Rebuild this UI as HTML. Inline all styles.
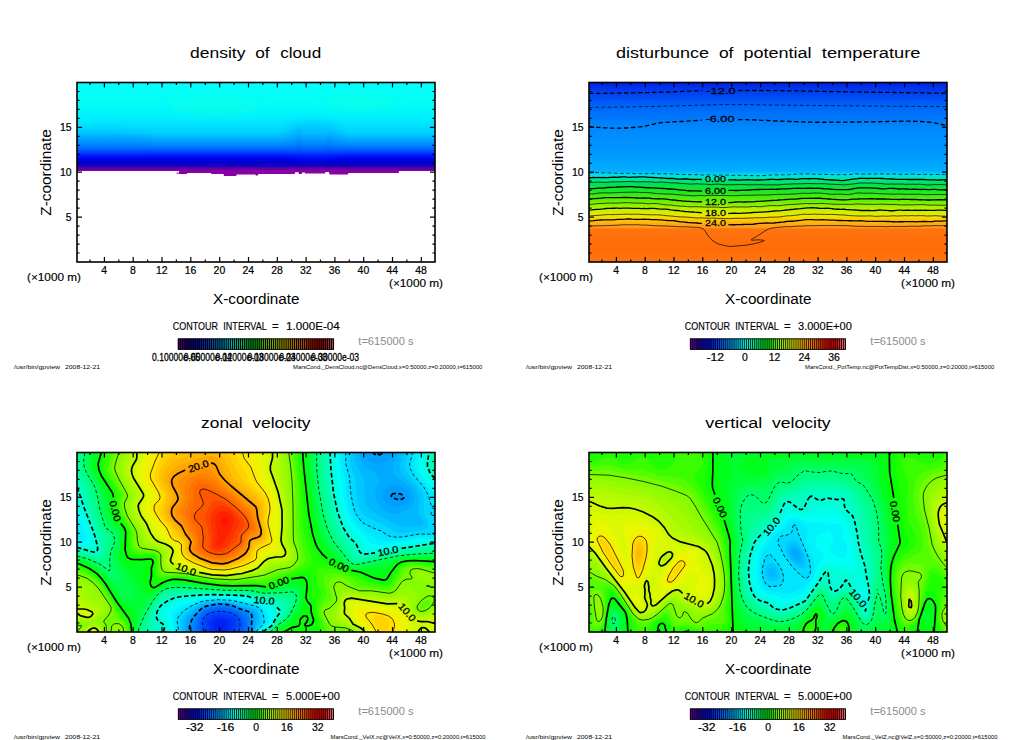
<!DOCTYPE html>
<html><head><meta charset="utf-8"><title>gpview</title>
<style>html,body{margin:0;padding:0;background:#fff}svg{display:block}text{font-family:"Liberation Sans",sans-serif}</style>
</head><body>
<svg width="1024" height="740" viewBox="0 0 1024 740">
<rect width="1024" height="740" fill="#fff"/>
<g id="panel1">
<linearGradient id="g1" x1="0" x2="0" y1="0" y2="1"><stop offset="0.0000" stop-color="#00ffff"/><stop offset="0.0975" stop-color="#04fff4"/><stop offset="0.1978" stop-color="#00f0ff"/><stop offset="0.2813" stop-color="#00d0ff"/><stop offset="0.3203" stop-color="#00a8ff"/><stop offset="0.3538" stop-color="#0080ff"/><stop offset="0.3816" stop-color="#0050ff"/><stop offset="0.4039" stop-color="#0020ff"/><stop offset="0.4234" stop-color="#0000f0"/><stop offset="0.4457" stop-color="#0000d0"/><stop offset="0.4652" stop-color="#1800b8"/><stop offset="0.4791" stop-color="#6000a8"/><stop offset="0.4903" stop-color="#8000a0"/><stop offset="0.4947" stop-color="#8800a0"/><stop offset="0.4953" stop-color="#ffffff"/><stop offset="0.9944" stop-color="#ffffff"/></linearGradient>
<rect x="77" y="82.5" width="358" height="179.5" fill="url(#g1)"/>
<path d="M179.0,170.8 179.0,174.1 186.7,174.1 187.4,172.9 210.8,172.9 211.5,174.1 223.5,174.1 224.0,175.9 236.2,175.9 236.7,174.4 255.2,174.4 256.0,175.4 257.8,175.4 258.5,174.1 294.6,174.1 295.3,172.3 298.4,172.3 299.1,174.1 301.7,174.1 302.2,172.6 304.7,172.6 305.2,173.6 325.0,173.6 325.5,172.1 328.8,172.1 329.6,174.4 347.9,174.4 348.4,172.9 398.7,172.9 399.2,170.8Z" fill="#8a00a6"/>
<path d="M176.5,173.2h2.4M177.7,172.2v2" stroke="#8a00a6" stroke-width="0.7" fill="none"/>
<defs><filter id="b1" x="-50%" y="-50%" width="200%" height="200%"><feGaussianBlur stdDeviation="5"/></filter><filter id="b2" x="-50%" y="-50%" width="200%" height="200%"><feGaussianBlur stdDeviation="2.2"/></filter></defs>
<clipPath id="clipA"><rect x="77" y="82.5" width="358" height="89"/></clipPath><g clip-path="url(#clipA)">
<ellipse cx="215" cy="106" rx="48" ry="9" fill="#10ffe0" opacity="0.5" filter="url(#b1)"/>
<ellipse cx="360" cy="102" rx="36" ry="9" fill="#10ffe0" opacity="0.5" filter="url(#b1)"/>
<ellipse cx="314" cy="140" rx="30" ry="20" fill="#0060ff" opacity="0.16" filter="url(#b1)"/>
<ellipse cx="95" cy="141" rx="60" ry="9" fill="#0070ff" opacity="0.22" filter="url(#b1)"/>
<path d="M298,128L300,168M330,132L329,168" stroke="#0020c0" stroke-width="2" opacity="0.16" filter="url(#b2)" fill="none"/>
</g>
<path d="M90.0 262.0v-2.6M90.0 82.5v2.6M104.4 262.0v-5M104.4 82.5v5M118.8 262.0v-2.6M118.8 82.5v2.6M133.2 262.0v-5M133.2 82.5v5M147.6 262.0v-2.6M147.6 82.5v2.6M162.0 262.0v-5M162.0 82.5v5M176.4 262.0v-2.6M176.4 82.5v2.6M190.8 262.0v-5M190.8 82.5v5M205.3 262.0v-2.6M205.3 82.5v2.6M219.7 262.0v-5M219.7 82.5v5M234.1 262.0v-2.6M234.1 82.5v2.6M248.5 262.0v-5M248.5 82.5v5M262.9 262.0v-2.6M262.9 82.5v2.6M277.3 262.0v-5M277.3 82.5v5M291.7 262.0v-2.6M291.7 82.5v2.6M306.1 262.0v-5M306.1 82.5v5M320.5 262.0v-2.6M320.5 82.5v2.6M334.9 262.0v-5M334.9 82.5v5M349.3 262.0v-2.6M349.3 82.5v2.6M363.7 262.0v-5M363.7 82.5v5M378.1 262.0v-2.6M378.1 82.5v2.6M392.5 262.0v-5M392.5 82.5v5M406.9 262.0v-2.6M406.9 82.5v2.6M421.3 262.0v-5M421.3 82.5v5M77 253.0h2.6M435 253.0h-2.6M77 244.1h2.6M435 244.1h-2.6M77 235.1h2.6M435 235.1h-2.6M77 226.1h2.6M435 226.1h-2.6M77 217.1h5M435 217.1h-5M77 208.2h2.6M435 208.2h-2.6M77 199.2h2.6M435 199.2h-2.6M77 190.2h2.6M435 190.2h-2.6M77 181.2h2.6M435 181.2h-2.6M77 172.2h5M435 172.2h-5M77 163.3h2.6M435 163.3h-2.6M77 154.3h2.6M435 154.3h-2.6M77 145.3h2.6M435 145.3h-2.6M77 136.3h2.6M435 136.3h-2.6M77 127.4h5M435 127.4h-5M77 118.4h2.6M435 118.4h-2.6M77 109.4h2.6M435 109.4h-2.6M77 100.4h2.6M435 100.4h-2.6M77 91.5h2.6M435 91.5h-2.6" stroke="#000" stroke-width="1.2" fill="none"/>
<rect x="77" y="82.5" width="358" height="179.5" fill="none" stroke="#000" stroke-width="1.6"/>
<text x="104.1" y="274.4" font-size="10.8" text-anchor="middle" fill="#000" stroke="#000" stroke-width="0.22" textLength="5.8" lengthAdjust="spacingAndGlyphs">4</text>
<text x="132.9" y="274.4" font-size="10.8" text-anchor="middle" fill="#000" stroke="#000" stroke-width="0.22" textLength="5.8" lengthAdjust="spacingAndGlyphs">8</text>
<text x="161.7" y="274.4" font-size="10.8" text-anchor="middle" fill="#000" stroke="#000" stroke-width="0.22" textLength="11.6" lengthAdjust="spacingAndGlyphs">12</text>
<text x="190.5" y="274.4" font-size="10.8" text-anchor="middle" fill="#000" stroke="#000" stroke-width="0.22" textLength="11.6" lengthAdjust="spacingAndGlyphs">16</text>
<text x="219.4" y="274.4" font-size="10.8" text-anchor="middle" fill="#000" stroke="#000" stroke-width="0.22" textLength="11.6" lengthAdjust="spacingAndGlyphs">20</text>
<text x="248.2" y="274.4" font-size="10.8" text-anchor="middle" fill="#000" stroke="#000" stroke-width="0.22" textLength="11.6" lengthAdjust="spacingAndGlyphs">24</text>
<text x="277.0" y="274.4" font-size="10.8" text-anchor="middle" fill="#000" stroke="#000" stroke-width="0.22" textLength="11.6" lengthAdjust="spacingAndGlyphs">28</text>
<text x="305.8" y="274.4" font-size="10.8" text-anchor="middle" fill="#000" stroke="#000" stroke-width="0.22" textLength="11.6" lengthAdjust="spacingAndGlyphs">32</text>
<text x="334.6" y="274.4" font-size="10.8" text-anchor="middle" fill="#000" stroke="#000" stroke-width="0.22" textLength="11.6" lengthAdjust="spacingAndGlyphs">36</text>
<text x="363.4" y="274.4" font-size="10.8" text-anchor="middle" fill="#000" stroke="#000" stroke-width="0.22" textLength="11.6" lengthAdjust="spacingAndGlyphs">40</text>
<text x="392.2" y="274.4" font-size="10.8" text-anchor="middle" fill="#000" stroke="#000" stroke-width="0.22" textLength="11.6" lengthAdjust="spacingAndGlyphs">44</text>
<text x="421.0" y="274.4" font-size="10.8" text-anchor="middle" fill="#000" stroke="#000" stroke-width="0.22" textLength="11.6" lengthAdjust="spacingAndGlyphs">48</text>
<text x="71.6" y="220.6" font-size="10.8" text-anchor="end" fill="#000" stroke="#000" stroke-width="0.22" textLength="5.8" lengthAdjust="spacingAndGlyphs">5</text>
<text x="71.6" y="175.8" font-size="10.8" text-anchor="end" fill="#000" stroke="#000" stroke-width="0.22" textLength="11.6" lengthAdjust="spacingAndGlyphs">10</text>
<text x="71.6" y="130.9" font-size="10.8" text-anchor="end" fill="#000" stroke="#000" stroke-width="0.22" textLength="11.6" lengthAdjust="spacingAndGlyphs">15</text>
<text x="27" y="280.8" font-size="10" text-anchor="start" fill="#000" stroke="#000" stroke-width="0.15" textLength="54" lengthAdjust="spacingAndGlyphs">(×1000 m)</text>
<text x="443" y="287.3" font-size="10" text-anchor="end" fill="#000" stroke="#000" stroke-width="0.15" textLength="54" lengthAdjust="spacingAndGlyphs">(×1000 m)</text>
<text x="213" y="303.75" font-size="14" text-anchor="start" fill="#000" textLength="86.5" lengthAdjust="spacingAndGlyphs">X-coordinate</text>
<text x="51.2" y="172.5" font-size="14" text-anchor="middle" fill="#000" textLength="86.5" lengthAdjust="spacingAndGlyphs" transform="rotate(-90 51.2 172.5)">Z-coordinate</text>
<text x="190" y="57.8" font-size="15.5" text-anchor="start" fill="#000" textLength="55.4" lengthAdjust="spacingAndGlyphs">density</text>
<text x="255.2" y="57.8" font-size="15.5" text-anchor="start" fill="#000" textLength="14.4" lengthAdjust="spacingAndGlyphs">of</text>
<text x="280.2" y="57.8" font-size="15.5" text-anchor="start" fill="#000" textLength="41.0" lengthAdjust="spacingAndGlyphs">cloud</text>
<linearGradient id="cb77_82" x1="0" x2="1" y1="0" y2="0"><stop offset="0.0000" stop-color="#8000a0"/><stop offset="0.0625" stop-color="#2000c0"/><stop offset="0.1250" stop-color="#0010f0"/><stop offset="0.1875" stop-color="#0050ff"/><stop offset="0.2500" stop-color="#0098ff"/><stop offset="0.2812" stop-color="#00b8ff"/><stop offset="0.3125" stop-color="#00e0ff"/><stop offset="0.3438" stop-color="#00fff8"/><stop offset="0.3750" stop-color="#00ffd0"/><stop offset="0.4375" stop-color="#00ff70"/><stop offset="0.4875" stop-color="#00ff10"/><stop offset="0.5125" stop-color="#10ff00"/><stop offset="0.5625" stop-color="#80fc00"/><stop offset="0.6250" stop-color="#c8fa00"/><stop offset="0.6562" stop-color="#e8f800"/><stop offset="0.6875" stop-color="#ffe800"/><stop offset="0.7188" stop-color="#ffc400"/><stop offset="0.7500" stop-color="#ffa000"/><stop offset="0.7812" stop-color="#ff8000"/><stop offset="0.8125" stop-color="#ff6000"/><stop offset="0.8500" stop-color="#ff2800"/><stop offset="0.8750" stop-color="#ff1000"/><stop offset="0.9375" stop-color="#e80000"/><stop offset="1.0000" stop-color="#f08080"/></linearGradient>
<rect x="178.4" y="338.8" width="155" height="10.6" fill="url(#cb77_82)"/>
<path d="M178.40 338.8v10.6M180.34 338.8v10.6M182.28 338.8v10.6M184.21 338.8v10.6M186.15 338.8v10.6M188.09 338.8v10.6M190.03 338.8v10.6M191.96 338.8v10.6M193.90 338.8v10.6M195.84 338.8v10.6M197.78 338.8v10.6M199.71 338.8v10.6M201.65 338.8v10.6M203.59 338.8v10.6M205.53 338.8v10.6M207.46 338.8v10.6M209.40 338.8v10.6M211.34 338.8v10.6M213.28 338.8v10.6M215.21 338.8v10.6M217.15 338.8v10.6M219.09 338.8v10.6M221.03 338.8v10.6M222.96 338.8v10.6M224.90 338.8v10.6M226.84 338.8v10.6M228.78 338.8v10.6M230.71 338.8v10.6M232.65 338.8v10.6M234.59 338.8v10.6M236.53 338.8v10.6M238.46 338.8v10.6M240.40 338.8v10.6M242.34 338.8v10.6M244.28 338.8v10.6M246.21 338.8v10.6M248.15 338.8v10.6M250.09 338.8v10.6M252.03 338.8v10.6M253.96 338.8v10.6M255.90 338.8v10.6M257.84 338.8v10.6M259.77 338.8v10.6M261.71 338.8v10.6M263.65 338.8v10.6M265.59 338.8v10.6M267.52 338.8v10.6M269.46 338.8v10.6M271.40 338.8v10.6M273.34 338.8v10.6M275.27 338.8v10.6M277.21 338.8v10.6M279.15 338.8v10.6M281.09 338.8v10.6M283.02 338.8v10.6M284.96 338.8v10.6M286.90 338.8v10.6M288.84 338.8v10.6M290.77 338.8v10.6M292.71 338.8v10.6M294.65 338.8v10.6M296.59 338.8v10.6M298.52 338.8v10.6M300.46 338.8v10.6M302.40 338.8v10.6M304.34 338.8v10.6M306.27 338.8v10.6M308.21 338.8v10.6M310.15 338.8v10.6M312.09 338.8v10.6M314.02 338.8v10.6M315.96 338.8v10.6M317.90 338.8v10.6M319.84 338.8v10.6M321.77 338.8v10.6M323.71 338.8v10.6M325.65 338.8v10.6M327.59 338.8v10.6M329.52 338.8v10.6M331.46 338.8v10.6M333.40 338.8v10.6" stroke="#000" stroke-width="1.3" fill="none"/>
<rect x="178.4" y="338.8" width="155" height="10.6" fill="none" stroke="#000" stroke-width="0.9"/>
<text x="176.0" y="360.6" font-size="10.5" text-anchor="middle" fill="#000" stroke="#000" stroke-width="0.3" textLength="48" lengthAdjust="spacingAndGlyphs">0.10000e-05</text>
<text x="207.8" y="360.6" font-size="10.5" text-anchor="middle" fill="#000" stroke="#000" stroke-width="0.3" textLength="48" lengthAdjust="spacingAndGlyphs">0.60000e-04</text>
<text x="239.6" y="360.6" font-size="10.5" text-anchor="middle" fill="#000" stroke="#000" stroke-width="0.3" textLength="48" lengthAdjust="spacingAndGlyphs">0.12000e-03</text>
<text x="271.4" y="360.6" font-size="10.5" text-anchor="middle" fill="#000" stroke="#000" stroke-width="0.3" textLength="48" lengthAdjust="spacingAndGlyphs">0.18000e-03</text>
<text x="303.2" y="360.6" font-size="10.5" text-anchor="middle" fill="#000" stroke="#000" stroke-width="0.3" textLength="48" lengthAdjust="spacingAndGlyphs">0.24000e-03</text>
<text x="335.0" y="360.6" font-size="10.5" text-anchor="middle" fill="#000" stroke="#000" stroke-width="0.3" textLength="48" lengthAdjust="spacingAndGlyphs">0.30000e-03</text>
<text x="172.7" y="330.3" font-size="11.5" text-anchor="start" fill="#000" stroke="#000" stroke-width="0.15" textLength="45.3" lengthAdjust="spacingAndGlyphs">CONTOUR</text>
<text x="223.3" y="330.3" font-size="11.5" text-anchor="start" fill="#000" stroke="#000" stroke-width="0.15" textLength="43.5" lengthAdjust="spacingAndGlyphs">INTERVAL</text>
<text x="272" y="330.3" font-size="11.5" text-anchor="start" fill="#000" stroke="#000" stroke-width="0.15" textLength="6.6" lengthAdjust="spacingAndGlyphs">=</text>
<text x="286" y="330.3" font-size="11.5" text-anchor="start" fill="#000" stroke="#000" stroke-width="0.15" textLength="53.8" lengthAdjust="spacingAndGlyphs">1.000E-04</text>
<text x="358.3" y="344.6" font-size="10.5" text-anchor="start" fill="#8c8c8c" textLength="55.3" lengthAdjust="spacingAndGlyphs">t=615000 s</text>
<text x="14" y="368.5" font-size="5.5" text-anchor="start" fill="#000" textLength="46" lengthAdjust="spacingAndGlyphs">/usr/bin/gpview</text>
<text x="65" y="368.5" font-size="5.5" text-anchor="start" fill="#000" textLength="35" lengthAdjust="spacingAndGlyphs">2008-12-21</text>
<text x="293" y="368.5" font-size="5.5" text-anchor="start" fill="#000" textLength="189.25" lengthAdjust="spacingAndGlyphs">MarsCond._DensCloud.nc@DensCloud,x=0:50000,z=0:20000,t=615000</text>
</g>
<g id="panel2">
<linearGradient id="g2" x1="0" x2="0" y1="0" y2="1"><stop offset="0.0000" stop-color="#0020e8"/><stop offset="0.0529" stop-color="#0040f0"/><stop offset="0.1421" stop-color="#0068f8"/><stop offset="0.2535" stop-color="#0088ff"/><stop offset="0.3983" stop-color="#0098ff"/><stop offset="0.4930" stop-color="#00b0ff"/><stop offset="0.5153" stop-color="#00e0f0"/><stop offset="0.5376" stop-color="#00e8a0"/><stop offset="0.5655" stop-color="#00e050"/><stop offset="0.6100" stop-color="#20e820"/><stop offset="0.6657" stop-color="#70f000"/><stop offset="0.7075" stop-color="#c0f000"/><stop offset="0.7437" stop-color="#f0e800"/><stop offset="0.7660" stop-color="#ffc800"/><stop offset="0.7883" stop-color="#ffa818"/><stop offset="0.8078" stop-color="#ff9818"/><stop offset="0.8162" stop-color="#ff7410"/><stop offset="0.9053" stop-color="#ff6c08"/><stop offset="1.0000" stop-color="#ff7410"/></linearGradient>
<rect x="589" y="82.5" width="358" height="179.5" fill="url(#g2)"/>
<clipPath id="clipP2"><rect x="589" y="82.5" width="358" height="179.5"/></clipPath><g clip-path="url(#clipP2)">
<path d="M589.0,172.9 591.4,172.7 593.8,172.6 596.2,172.5 598.6,172.6 601.0,172.7 603.4,172.8 605.8,172.9 608.2,172.9 610.6,173.0 613.0,173.1 615.4,173.2 617.8,173.3 620.2,173.4 622.6,173.4 625.0,173.5 627.4,173.2 629.8,173.3 632.2,173.3 634.6,173.6 637.0,173.7 639.4,173.7 641.8,173.7 644.2,173.7 646.6,173.7 649.0,173.6 651.5,173.5 653.9,173.3 656.3,173.5 658.7,173.8 661.1,174.0 663.5,173.9 665.9,173.8 668.3,173.8 670.7,173.9 673.1,173.9 675.5,174.2 677.9,174.4 680.3,174.3 682.7,174.4 685.1,174.5 687.5,174.7 689.9,174.7 692.3,174.7 694.7,174.7 697.1,174.7 699.5,174.9 701.9,175.0 704.3,175.1 706.7,174.9 709.1,174.8 711.5,174.9 713.9,175.0 716.3,175.2 718.7,175.1 721.1,175.1 723.5,175.0 725.9,175.0 728.3,175.1 730.7,175.4 733.1,175.4 735.5,175.3 737.9,175.2 740.3,175.4 742.7,175.4 745.1,175.4 747.5,175.5 749.9,175.6 752.3,175.6 754.7,175.6 757.1,175.7 759.5,175.7 761.9,175.6 764.3,175.5 766.7,175.5 769.1,175.2 771.5,175.0 774.0,174.9 776.4,174.9 778.8,175.0 781.2,174.8 783.6,174.8 786.0,174.9 788.4,174.8 790.8,174.6 793.2,174.4 795.6,174.2 798.0,174.1 800.4,173.9 802.8,174.0 805.2,173.9 807.6,173.9 810.0,173.9 812.4,174.0 814.8,174.2 817.2,174.2 819.6,174.3 822.0,174.3 824.4,174.4 826.8,174.4 829.2,174.4 831.6,174.6 834.0,174.8 836.4,174.7 838.8,174.7 841.2,174.6 843.6,174.7 846.0,174.7 848.4,174.8 850.8,174.4 853.2,174.1 855.6,173.9 858.0,173.9 860.4,174.1 862.8,174.1 865.2,174.1 867.6,174.0 870.0,174.1 872.4,174.1 874.8,174.1 877.2,173.8 879.6,173.8 882.0,173.9 884.4,174.0 886.8,174.1 889.2,174.0 891.6,174.0 894.0,174.0 896.4,174.2 898.9,174.3 901.3,174.2 903.7,174.3 906.1,174.3 908.5,174.3 910.9,174.1 913.3,174.1 915.7,174.5 918.1,174.5 920.5,174.5 922.9,174.4 925.3,174.4 927.7,174.4 930.1,174.6 932.5,174.7 934.9,174.5 937.3,174.4 939.7,174.5 942.1,174.5 944.5,174.6 946.9,174.6" fill="none" stroke="#000" stroke-width="0.7" stroke-dasharray="3.8 2.4" stroke-linejoin="round"/>
<path d="M589.0,177.7 591.4,177.7 593.8,177.5 596.2,177.6 598.6,177.5 601.0,177.7 603.4,177.5 605.8,177.6 608.2,177.5 610.6,177.3 613.0,177.2 615.4,177.2 617.8,177.3 620.2,177.0 622.6,176.9 625.0,176.9 627.4,177.2 629.8,177.3 632.2,177.2 634.6,177.1 637.0,177.1 639.4,176.9 641.8,176.9 644.2,176.9 646.6,177.1 649.0,177.3 651.5,177.3 653.9,177.5 656.3,177.6 658.7,177.9 661.1,178.0 663.5,178.2 665.9,178.4 668.3,178.5 670.7,178.5 673.1,178.5 675.5,178.8 677.9,179.0 680.3,179.1 682.7,179.0 685.1,179.0 687.5,179.0 689.9,179.4 692.3,179.5 694.7,179.5 697.1,179.3 699.5,179.4 701.9,179.5M728.3,179.9 730.7,179.9 733.1,179.9 735.5,180.0 737.9,180.1 740.3,180.1 742.7,179.8 745.1,179.9 747.5,179.7 749.9,179.9 752.3,179.9 754.7,180.1 757.1,180.0 759.5,180.0 761.9,179.8 764.3,179.8 766.7,179.7 769.1,179.5 771.5,179.3 774.0,179.4 776.4,179.6 778.8,179.5 781.2,179.5 783.6,179.1 786.0,179.2 788.4,179.0 790.8,179.1 793.2,179.1 795.6,179.3 798.0,179.2 800.4,178.9 802.8,178.6 805.2,178.6 807.6,178.7 810.0,178.7 812.4,178.6 814.8,178.6 817.2,178.7 819.6,179.0 822.0,179.1 824.4,179.5 826.8,179.6 829.2,179.9 831.6,180.0 834.0,180.0 836.4,180.2 838.8,180.4 841.2,180.6 843.6,180.5 846.0,180.2 848.4,179.8 850.8,179.4 853.2,179.1 855.6,178.8 858.0,178.6 860.4,178.2 862.8,178.3 865.2,178.3 867.6,178.5 870.0,178.4 872.4,178.4 874.8,178.3 877.2,178.3 879.6,178.3 882.0,178.5 884.4,178.7 886.8,178.8 889.2,178.8 891.6,179.0 894.0,179.2 896.4,179.4 898.9,179.4 901.3,179.4 903.7,179.4 906.1,179.4 908.5,179.5 910.9,179.4 913.3,179.5 915.7,179.5 918.1,179.5 920.5,179.4 922.9,179.5 925.3,179.6 927.7,179.8 930.1,179.8 932.5,179.8 934.9,179.9 937.3,180.2 939.7,180.0 942.1,179.9 944.5,179.6 946.9,179.8" fill="none" stroke="#000" stroke-width="1.35" stroke-linejoin="round"/>
<path d="M589.0,182.5 591.4,182.5 593.8,182.3 596.2,182.2 598.6,182.1 601.0,182.2 603.4,182.4 605.8,182.4 608.2,182.2 610.6,182.0 613.0,181.9 615.4,181.9 617.8,181.9 620.2,181.8 622.6,181.7 625.0,181.7 627.4,181.6 629.8,181.6 632.2,181.5 634.6,181.7 637.0,181.8 639.4,181.9 641.8,181.8 644.2,181.8 646.6,181.8 649.0,181.8 651.5,181.8 653.9,182.3 656.3,182.3 658.7,182.2 661.1,182.0 663.5,182.1 665.9,182.4 668.3,182.6 670.7,182.8 673.1,182.9 675.5,182.9 677.9,183.0 680.3,183.4 682.7,183.4 685.1,183.7 687.5,183.8 689.9,184.2 692.3,184.0 694.7,183.9 697.1,183.7 699.5,184.1 701.9,184.1 704.3,184.1 706.7,184.2 709.1,184.5 711.5,184.6 713.9,184.3 716.3,184.2 718.7,184.1 721.1,184.5 723.5,184.6 725.9,184.8 728.3,184.7 730.7,184.8 733.1,184.7 735.5,184.7 737.9,184.6 740.3,184.5 742.7,184.6 745.1,184.6 747.5,184.8 749.9,184.8 752.3,184.7 754.7,184.8 757.1,184.7 759.5,184.6 761.9,184.7 764.3,184.8 766.7,185.0 769.1,184.8 771.5,184.8 774.0,184.9 776.4,184.9 778.8,184.9 781.2,184.6 783.6,184.4 786.0,184.2 788.4,184.2 790.8,184.1 793.2,183.9 795.6,183.8 798.0,183.8 800.4,183.8 802.8,183.7 805.2,183.6 807.6,183.5 810.0,183.6 812.4,183.6 814.8,183.6 817.2,183.8 819.6,183.7 822.0,183.7 824.4,183.7 826.8,183.9 829.2,184.1 831.6,184.2 834.0,184.3 836.4,184.5 838.8,184.5 841.2,184.6 843.6,184.9 846.0,184.7 848.4,184.5 850.8,184.1 853.2,184.0 855.6,183.5 858.0,183.3 860.4,182.8 862.8,183.0 865.2,182.9 867.6,183.1 870.0,183.0 872.4,183.1 874.8,183.2 877.2,183.4 879.6,183.5 882.0,183.6 884.4,184.0 886.8,184.1 889.2,184.2 891.6,184.0 894.0,184.1 896.4,184.1 898.9,184.0 901.3,184.1 903.7,184.2 906.1,184.4 908.5,184.2 910.9,184.3 913.3,184.2 915.7,184.4 918.1,184.2 920.5,184.3 922.9,184.5 925.3,184.7 927.7,185.0 930.1,184.9 932.5,184.7 934.9,184.6 937.3,184.6 939.7,184.5 942.1,184.6 944.5,184.7 946.9,184.9" fill="none" stroke="#000" stroke-width="0.7" stroke-linejoin="round"/>
<path d="M589.0,188.7 591.4,188.6 593.8,188.6 596.2,188.4 598.6,188.2 601.0,188.1 603.4,188.1 605.8,187.7 608.2,187.5 610.6,187.3 613.0,187.3 615.4,187.2 617.8,187.0 620.2,186.9 622.6,186.9 625.0,186.8 627.4,186.7 629.8,186.6 632.2,186.7 634.6,186.9 637.0,187.1 639.4,187.2 641.8,187.4 644.2,187.5 646.6,187.7 649.0,187.7 651.5,187.8 653.9,187.9 656.3,188.1 658.7,188.3 661.1,188.4 663.5,188.5 665.9,188.7 668.3,189.0 670.7,189.0 673.1,189.1 675.5,189.3 677.9,189.7 680.3,190.0 682.7,190.2 685.1,190.4 687.5,190.7 689.9,190.7 692.3,190.9 694.7,190.8 697.1,190.9 699.5,191.0 701.9,191.1M728.3,190.3 730.7,190.3 733.1,190.3 735.5,190.5 737.9,190.5 740.3,190.3 742.7,190.1 745.1,190.1 747.5,189.9 749.9,190.0 752.3,189.6 754.7,189.6 757.1,189.4 759.5,189.5 761.9,189.4 764.3,189.4 766.7,189.4 769.1,189.4 771.5,189.2 774.0,189.3 776.4,189.2 778.8,189.2 781.2,188.9 783.6,188.9 786.0,188.8 788.4,188.7 790.8,188.6 793.2,188.4 795.6,188.4 798.0,188.2 800.4,188.3 802.8,188.3 805.2,188.3 807.6,188.2 810.0,188.2 812.4,188.2 814.8,188.3 817.2,188.2 819.6,188.4 822.0,188.5 824.4,188.8 826.8,188.8 829.2,188.9 831.6,189.3 834.0,189.4 836.4,189.7 838.8,189.6 841.2,189.7 843.6,189.6 846.0,189.6 848.4,189.5 850.8,189.3 853.2,188.7 855.6,188.3 858.0,187.9 860.4,187.9 862.8,187.9 865.2,187.8 867.6,187.8 870.0,187.8 872.4,188.1 874.8,188.2 877.2,188.4 879.6,188.5 882.0,188.8 884.4,188.9 886.8,188.7 889.2,188.4 891.6,188.3 894.0,188.5 896.4,188.7 898.9,189.0 901.3,188.9 903.7,188.9 906.1,189.0 908.5,189.1 910.9,189.3 913.3,189.2 915.7,189.2 918.1,189.4 920.5,189.5 922.9,189.4 925.3,189.4 927.7,189.6 930.1,189.6 932.5,189.4 934.9,189.3 937.3,189.6 939.7,189.8 942.1,189.8 944.5,189.7 946.9,189.6" fill="none" stroke="#000" stroke-width="1.35" stroke-linejoin="round"/>
<path d="M589.0,194.1 591.4,194.0 593.8,193.9 596.2,193.5 598.6,193.1 601.0,193.0 603.4,192.8 605.8,192.9 608.2,192.9 610.6,193.0 613.0,192.7 615.4,192.7 617.8,192.6 620.2,192.4 622.6,192.4 625.0,192.3 627.4,192.3 629.8,192.2 632.2,192.2 634.6,192.2 637.0,192.2 639.4,192.4 641.8,192.6 644.2,192.5 646.6,192.4 649.0,192.7 651.5,192.9 653.9,193.3 656.3,193.5 658.7,193.6 661.1,193.8 663.5,193.8 665.9,194.1 668.3,194.0 670.7,194.1 673.1,194.2 675.5,194.5 677.9,194.7 680.3,194.9 682.7,195.1 685.1,195.2 687.5,195.4 689.9,195.5 692.3,195.8 694.7,195.8 697.1,195.6 699.5,195.4 701.9,195.6 704.3,195.8 706.7,195.5 709.1,195.4 711.5,195.3 713.9,195.3 716.3,195.4 718.7,195.5 721.1,195.5 723.5,195.5 725.9,195.4 728.3,195.6 730.7,195.6 733.1,195.8 735.5,195.6 737.9,195.6 740.3,195.3 742.7,195.3 745.1,195.2 747.5,195.3 749.9,195.3 752.3,195.2 754.7,195.2 757.1,195.0 759.5,195.0 761.9,195.0 764.3,195.0 766.7,194.9 769.1,194.9 771.5,194.8 774.0,194.6 776.4,194.5 778.8,194.4 781.2,194.4 783.6,194.3 786.0,194.2 788.4,194.3 790.8,194.1 793.2,194.0 795.6,193.9 798.0,193.7 800.4,193.4 802.8,193.2 805.2,193.3 807.6,193.4 810.0,193.3 812.4,193.1 814.8,193.0 817.2,193.0 819.6,193.1 822.0,193.3 824.4,193.5 826.8,193.8 829.2,194.1 831.6,194.3 834.0,194.3 836.4,194.2 838.8,194.1 841.2,194.1 843.6,194.4 846.0,194.5 848.4,194.6 850.8,194.2 853.2,193.8 855.6,193.2 858.0,193.0 860.4,193.0 862.8,193.1 865.2,193.3 867.6,193.1 870.0,193.2 872.4,193.2 874.8,193.4 877.2,193.5 879.6,193.7 882.0,193.8 884.4,193.9 886.8,193.9 889.2,194.1 891.6,194.1 894.0,194.2 896.4,194.2 898.9,194.0 901.3,194.1 903.7,194.2 906.1,194.3 908.5,194.3 910.9,194.2 913.3,194.3 915.7,194.2 918.1,194.2 920.5,194.2 922.9,194.5 925.3,194.7 927.7,194.7 930.1,194.6 932.5,194.5 934.9,194.5 937.3,194.5 939.7,194.5 942.1,194.5 944.5,194.6 946.9,194.6" fill="none" stroke="#000" stroke-width="0.7" stroke-linejoin="round"/>
<path d="M589.0,199.0 591.4,198.8 593.8,198.6 596.2,198.5 598.6,198.3 601.0,198.2 603.4,197.9 605.8,197.7 608.2,197.6 610.6,197.6 613.0,197.6 615.4,197.6 617.8,197.6 620.2,197.6 622.6,197.5 625.0,197.5 627.4,197.5 629.8,197.6 632.2,197.6 634.6,197.9 637.0,198.0 639.4,198.2 641.8,198.1 644.2,198.0 646.6,198.1 649.0,198.1 651.5,198.5 653.9,198.6 656.3,198.8 658.7,198.7 661.1,198.8 663.5,198.8 665.9,199.1 668.3,199.4 670.7,199.8 673.1,200.0 675.5,200.2 677.9,200.5 680.3,200.7 682.7,201.1 685.1,201.2 687.5,201.4 689.9,201.3 692.3,201.6 694.7,201.7 697.1,201.8 699.5,201.7 701.9,201.7M728.3,202.6 730.7,202.5 733.1,202.3 735.5,202.0 737.9,201.8 740.3,201.9 742.7,202.1 745.1,202.0 747.5,201.9 749.9,201.9 752.3,201.8 754.7,201.6 757.1,201.3 759.5,201.3 761.9,201.2 764.3,201.1 766.7,200.8 769.1,200.6 771.5,200.5 774.0,200.4 776.4,200.3 778.8,200.0 781.2,199.8 783.6,199.7 786.0,199.5 788.4,199.3 790.8,199.2 793.2,199.1 795.6,199.1 798.0,198.8 800.4,198.5 802.8,198.4 805.2,198.4 807.6,198.3 810.0,198.2 812.4,198.3 814.8,198.2 817.2,198.2 819.6,198.2 822.0,198.5 824.4,198.6 826.8,198.9 829.2,199.0 831.6,199.2 834.0,199.3 836.4,199.5 838.8,199.6 841.2,199.8 843.6,199.9 846.0,199.9 848.4,199.7 850.8,199.3 853.2,199.2 855.6,199.1 858.0,199.0 860.4,198.8 862.8,198.8 865.2,198.8 867.6,198.8 870.0,198.7 872.4,198.7 874.8,198.8 877.2,199.0 879.6,199.0 882.0,199.0 884.4,199.0 886.8,199.1 889.2,199.2 891.6,199.4 894.0,199.4 896.4,199.4 898.9,199.5 901.3,199.4 903.7,199.2 906.1,199.3 908.5,199.3 910.9,199.5 913.3,199.4 915.7,199.5 918.1,199.7 920.5,199.7 922.9,199.9 925.3,199.8 927.7,200.0 930.1,200.0 932.5,199.9 934.9,199.8 937.3,199.7 939.7,199.7 942.1,199.7 944.5,199.9 946.9,199.8" fill="none" stroke="#000" stroke-width="1.35" stroke-linejoin="round"/>
<path d="M589.0,204.5 591.4,204.4 593.8,204.1 596.2,203.8 598.6,203.5 601.0,203.5 603.4,203.4 605.8,203.2 608.2,203.1 610.6,203.0 613.0,203.2 615.4,203.1 617.8,203.1 620.2,202.9 622.6,202.8 625.0,202.7 627.4,202.6 629.8,202.8 632.2,202.9 634.6,203.1 637.0,203.1 639.4,203.1 641.8,203.1 644.2,203.4 646.6,203.6 649.0,203.8 651.5,203.6 653.9,203.5 656.3,203.6 658.7,203.8 661.1,204.2 663.5,204.6 665.9,204.9 668.3,205.0 670.7,205.0 673.1,205.4 675.5,205.7 677.9,205.9 680.3,206.2 682.7,206.2 685.1,206.4 687.5,206.6 689.9,206.8 692.3,206.8 694.7,206.6 697.1,206.7 699.5,206.8 701.9,206.9 704.3,207.1 706.7,207.1 709.1,207.1 711.5,207.1 713.9,207.1 716.3,207.1 718.7,207.2 721.1,207.5 723.5,207.5 725.9,207.5 728.3,207.2 730.7,207.1 733.1,206.8 735.5,206.9 737.9,207.0 740.3,207.0 742.7,206.9 745.1,207.0 747.5,207.0 749.9,206.8 752.3,206.5 754.7,206.4 757.1,206.7 759.5,206.7 761.9,206.7 764.3,206.2 766.7,206.0 769.1,205.6 771.5,205.6 774.0,205.6 776.4,205.7 778.8,205.7 781.2,205.5 783.6,205.1 786.0,204.8 788.4,204.6 790.8,204.4 793.2,204.4 795.6,204.2 798.0,204.2 800.4,203.8 802.8,203.8 805.2,203.5 807.6,203.6 810.0,203.6 812.4,203.7 814.8,203.6 817.2,203.6 819.6,203.4 822.0,203.5 824.4,203.5 826.8,203.8 829.2,203.9 831.6,204.0 834.0,204.2 836.4,204.3 838.8,204.3 841.2,204.3 843.6,204.3 846.0,204.3 848.4,204.3 850.8,204.4 853.2,204.3 855.6,204.0 858.0,204.0 860.4,204.0 862.8,204.2 865.2,204.3 867.6,204.2 870.0,204.3 872.4,204.3 874.8,204.4 877.2,204.3 879.6,204.2 882.0,204.2 884.4,204.2 886.8,204.4 889.2,204.5 891.6,204.4 894.0,204.5 896.4,204.5 898.9,204.8 901.3,204.9 903.7,204.9 906.1,204.9 908.5,204.8 910.9,204.9 913.3,204.8 915.7,204.8 918.1,204.6 920.5,204.6 922.9,204.6 925.3,204.7 927.7,205.1 930.1,205.1 932.5,205.2 934.9,205.0 937.3,205.2 939.7,205.3 942.1,205.3 944.5,205.2 946.9,205.0" fill="none" stroke="#000" stroke-width="0.7" stroke-linejoin="round"/>
<path d="M589.0,210.1 591.4,209.9 593.8,209.6 596.2,209.4 598.6,209.3 601.0,209.1 603.4,208.9 605.8,208.5 608.2,208.4 610.6,208.4 613.0,208.2 615.4,208.2 617.8,208.1 620.2,208.4 622.6,208.2 625.0,208.1 627.4,208.1 629.8,208.2 632.2,208.4 634.6,208.3 637.0,208.4 639.4,208.4 641.8,208.6 644.2,208.5 646.6,208.6 649.0,208.5 651.5,208.4 653.9,208.4 656.3,208.6 658.7,208.9 661.1,209.1 663.5,209.1 665.9,209.2 668.3,209.4 670.7,209.9 673.1,210.2 675.5,210.5 677.9,210.5 680.3,210.9 682.7,211.2 685.1,211.6 687.5,211.7 689.9,211.9 692.3,212.0 694.7,212.2 697.1,212.3 699.5,212.5 701.9,212.6M728.3,213.5 730.7,213.3 733.1,213.2 735.5,213.2 737.9,213.3 740.3,213.3 742.7,213.1 745.1,213.1 747.5,212.9 749.9,212.8 752.3,212.5 754.7,212.4 757.1,212.3 759.5,212.2 761.9,212.1 764.3,211.9 766.7,211.8 769.1,211.5 771.5,211.3 774.0,211.0 776.4,210.8 778.8,210.8 781.2,210.6 783.6,210.3 786.0,210.0 788.4,209.8 790.8,209.5 793.2,209.3 795.6,209.0 798.0,208.8 800.4,208.6 802.8,208.3 805.2,208.1 807.6,207.9 810.0,207.8 812.4,207.7 814.8,207.8 817.2,208.0 819.6,208.3 822.0,208.4 824.4,208.4 826.8,208.2 829.2,208.3 831.6,208.6 834.0,209.0 836.4,209.2 838.8,209.2 841.2,209.3 843.6,209.2 846.0,209.5 848.4,209.7 850.8,209.9 853.2,209.9 855.6,210.0 858.0,210.1 860.4,210.5 862.8,210.4 865.2,210.5 867.6,210.3 870.0,210.5 872.4,210.6 874.8,210.5 877.2,210.3 879.6,210.0 882.0,210.1 884.4,210.3 886.8,210.4 889.2,210.7 891.6,210.7 894.0,210.7 896.4,210.4 898.9,210.2 901.3,210.1 903.7,210.3 906.1,210.2 908.5,210.2 910.9,210.3 913.3,210.4 915.7,210.2 918.1,210.3 920.5,210.2 922.9,210.3 925.3,210.2 927.7,210.4 930.1,210.4 932.5,210.4 934.9,210.3 937.3,210.2 939.7,210.1 942.1,210.2 944.5,210.4 946.9,210.4" fill="none" stroke="#000" stroke-width="1.35" stroke-linejoin="round"/>
<path d="M589.0,216.0 591.4,215.8 593.8,215.6 596.2,215.4 598.6,215.3 601.0,215.2 603.4,214.9 605.8,214.7 608.2,214.5 610.6,214.6 613.0,214.6 615.4,214.5 617.8,214.4 620.2,214.4 622.6,214.3 625.0,214.2 627.4,214.1 629.8,214.3 632.2,214.2 634.6,214.2 637.0,214.3 639.4,214.2 641.8,214.5 644.2,214.5 646.6,214.7 649.0,214.8 651.5,214.8 653.9,214.8 656.3,214.8 658.7,214.9 661.1,215.1 663.5,215.3 665.9,215.7 668.3,215.8 670.7,216.0 673.1,216.2 675.5,216.5 677.9,216.7 680.3,216.9 682.7,216.9 685.1,217.1 687.5,217.1 689.9,217.4 692.3,217.6 694.7,217.8 697.1,218.0 699.5,217.9 701.9,217.9 704.3,218.0 706.7,218.2 709.1,218.3 711.5,218.1 713.9,218.2 716.3,218.2 718.7,218.5 721.1,218.4 723.5,218.5 725.9,218.6 728.3,218.6 730.7,218.6 733.1,218.4 735.5,218.3 737.9,218.3 740.3,218.3 742.7,218.4 745.1,218.2 747.5,218.2 749.9,218.0 752.3,218.0 754.7,217.8 757.1,217.8 759.5,217.7 761.9,217.8 764.3,217.6 766.7,217.5 769.1,217.2 771.5,217.2 774.0,217.2 776.4,217.1 778.8,217.0 781.2,216.8 783.6,216.3 786.0,216.0 788.4,215.8 790.8,215.8 793.2,215.5 795.6,215.2 798.0,215.0 800.4,214.6 802.8,214.3 805.2,214.2 807.6,214.4 810.0,214.3 812.4,214.2 814.8,214.1 817.2,214.3 819.6,214.3 822.0,214.3 824.4,214.3 826.8,214.5 829.2,214.5 831.6,214.4 834.0,214.5 836.4,214.7 838.8,214.8 841.2,214.9 843.6,215.0 846.0,215.2 848.4,215.5 850.8,215.7 853.2,215.8 855.6,215.9 858.0,216.0 860.4,216.0 862.8,216.0 865.2,216.0 867.6,215.9 870.0,215.9 872.4,216.0 874.8,216.3 877.2,216.3 879.6,216.2 882.0,216.0 884.4,216.1 886.8,216.2 889.2,216.1 891.6,215.9 894.0,215.8 896.4,216.0 898.9,216.0 901.3,215.8 903.7,215.8 906.1,215.7 908.5,215.9 910.9,215.6 913.3,215.7 915.7,215.8 918.1,215.7 920.5,215.7 922.9,215.7 925.3,215.9 927.7,216.0 930.1,215.9 932.5,215.9 934.9,215.7 937.3,215.8 939.7,216.0 942.1,216.1 944.5,216.2 946.9,216.1" fill="none" stroke="#000" stroke-width="0.7" stroke-linejoin="round"/>
<path d="M589.0,220.9 591.4,220.8 593.8,220.6 596.2,220.3 598.6,220.1 601.0,220.0 603.4,219.9 605.8,219.8 608.2,219.8 610.6,219.8 613.0,219.8 615.4,219.6 617.8,219.4 620.2,219.3 622.6,219.3 625.0,219.2 627.4,219.0 629.8,218.9 632.2,219.2 634.6,219.3 637.0,219.4 639.4,219.3 641.8,219.4 644.2,219.2 646.6,219.4 649.0,219.4 651.5,219.6 653.9,219.6 656.3,219.7 658.7,219.8 661.1,219.9 663.5,220.2 665.9,220.4 668.3,220.6 670.7,220.6 673.1,220.7 675.5,221.0 677.9,221.3 680.3,221.8 682.7,221.9 685.1,222.2 687.5,222.5 689.9,222.6 692.3,222.8 694.7,222.8 697.1,223.0 699.5,223.3 701.9,223.3M728.3,224.7 730.7,224.8 733.1,224.7 735.5,224.7 737.9,224.6 740.3,224.7 742.7,224.5 745.1,224.4 747.5,224.3 749.9,224.4 752.3,224.3 754.7,224.0 757.1,223.7 759.5,223.4 761.9,223.3 764.3,223.1 766.7,223.0 769.1,223.1 771.5,223.1 774.0,223.0 776.4,222.6 778.8,222.5 781.2,222.2 783.6,222.1 786.0,221.5 788.4,221.4 790.8,221.2 793.2,221.2 795.6,220.9 798.0,220.6 800.4,220.3 802.8,220.1 805.2,219.7 807.6,219.6 810.0,219.6 812.4,219.7 814.8,219.9 817.2,219.8 819.6,219.9 822.0,219.7 824.4,219.9 826.8,219.9 829.2,220.2 831.6,220.1 834.0,220.2 836.4,220.3 838.8,220.5 841.2,220.5 843.6,220.6 846.0,220.6 848.4,220.7 850.8,220.7 853.2,220.9 855.6,220.8 858.0,220.8 860.4,220.7 862.8,220.9 865.2,221.2 867.6,221.3 870.0,221.4 872.4,221.3 874.8,221.4 877.2,221.4 879.6,221.4 882.0,221.4 884.4,221.4 886.8,221.5 889.2,221.5 891.6,221.7 894.0,221.7 896.4,221.8 898.9,221.7 901.3,221.7 903.7,221.7 906.1,221.6 908.5,221.6 910.9,221.6 913.3,221.7 915.7,221.8 918.1,221.7 920.5,221.6 922.9,221.5 925.3,221.4 927.7,221.6 930.1,221.7 932.5,221.6 934.9,221.1 937.3,221.1 939.7,221.1 942.1,221.1 944.5,220.9 946.9,220.8" fill="none" stroke="#000" stroke-width="1.35" stroke-linejoin="round"/>
<path d="M589.0,93.4 592.6,93.3 596.3,93.3 599.9,93.3 603.5,93.3 607.2,93.2 610.8,93.2 614.5,93.1 618.1,93.1 621.7,93.0 625.4,93.0 629.0,92.9 632.6,92.8 636.3,92.8 639.9,92.7 643.5,92.6 647.2,92.6 650.8,92.5 654.5,92.4 658.1,92.3 661.7,92.2 665.4,92.1 669.0,92.0 672.6,91.9 676.3,91.7 679.9,91.5 683.5,91.4 687.2,91.2 690.8,91.1 694.5,90.9 698.1,90.8 701.7,90.7M738.1,90.5 741.7,90.5 745.4,90.5 749.0,90.5 752.6,90.5 756.3,90.5 759.9,90.5 763.5,90.5 767.2,90.5 770.8,90.6 774.5,90.6 778.1,90.6 781.7,90.7 785.4,90.7 789.0,90.8 792.6,90.8 796.3,90.9 799.9,90.9 803.5,91.0 807.2,91.1 810.8,91.2 814.5,91.2 818.1,91.3 821.7,91.4 825.4,91.4 829.0,91.5 832.6,91.6 836.3,91.6 839.9,91.7 843.5,91.7 847.2,91.8 850.8,91.8 854.5,91.9 858.1,91.9 861.7,92.0 865.4,92.1 869.0,92.1 872.6,92.2 876.3,92.2 879.9,92.3 883.5,92.3 887.2,92.4 890.8,92.4 894.5,92.5 898.1,92.5 901.7,92.6 905.4,92.7 909.0,92.7 912.6,92.8 916.3,92.8 919.9,92.9 923.5,92.9 927.2,93.0 930.8,93.1 934.5,93.1 938.1,93.2 941.7,93.2 945.4,93.3 949.0,93.4" fill="none" stroke="#000" stroke-width="1.35" stroke-dasharray="4.5 2.5" stroke-linejoin="round"/>
<path d="M589.0,107.4 592.6,107.4 596.3,107.3 599.9,107.3 603.5,107.3 607.2,107.2 610.8,107.2 614.5,107.1 618.1,107.1 621.7,107.0 625.4,107.0 629.0,106.9 632.6,106.8 636.3,106.8 639.9,106.7 643.5,106.7 647.2,106.6 650.8,106.5 654.5,106.5 658.1,106.4 661.7,106.3 665.4,106.2 669.0,106.1 672.6,106.0 676.3,105.9 679.9,105.8 683.5,105.7 687.2,105.6 690.8,105.4 694.5,105.3 698.1,105.2 701.7,105.1 705.4,105.0 709.0,104.9 712.6,104.8 716.3,104.7 719.9,104.7 723.5,104.6 727.2,104.6 730.8,104.6 734.5,104.6 738.1,104.6 741.7,104.6 745.4,104.7 749.0,104.7 752.6,104.7 756.3,104.8 759.9,104.8 763.5,104.9 767.2,104.9 770.8,105.0 774.5,105.0 778.1,105.0 781.7,105.1 785.4,105.1 789.0,105.2 792.6,105.2 796.3,105.3 799.9,105.3 803.5,105.3 807.2,105.4 810.8,105.4 814.5,105.5 818.1,105.5 821.7,105.5 825.4,105.6 829.0,105.6 832.6,105.6 836.3,105.7 839.9,105.7 843.5,105.8 847.2,105.8 850.8,105.8 854.5,105.9 858.1,105.9 861.7,105.9 865.4,106.0 869.0,106.0 872.6,106.0 876.3,106.1 879.9,106.1 883.5,106.1 887.2,106.2 890.8,106.2 894.5,106.2 898.1,106.3 901.7,106.3 905.4,106.3 909.0,106.4 912.6,106.4 916.3,106.4 919.9,106.5 923.5,106.5 927.2,106.5 930.8,106.6 934.5,106.6 938.1,106.6 941.7,106.7 945.4,106.7 949.0,106.7" fill="none" stroke="#000" stroke-width="0.7" stroke-dasharray="3.8 2.4" stroke-linejoin="round"/>
<path d="M589.0,126.4 592.6,126.8 596.3,127.2 599.9,127.5 603.5,127.8 607.2,127.9 610.8,128.1 614.5,128.1 618.1,128.2 621.7,128.1 625.4,128.0 629.0,127.8 632.6,127.5 636.3,127.2 639.9,126.9 643.5,126.5 647.2,125.7 650.8,124.8 654.5,123.8 658.1,123.0 661.7,122.7 665.4,122.4 669.0,122.1 672.6,121.9 676.3,121.7 679.9,121.5 683.5,121.3 687.2,121.1 690.8,120.9 694.5,120.7 698.1,120.5 701.7,120.2M738.1,119.5 741.7,119.6 745.4,119.7 749.0,119.8 752.6,119.9 756.3,120.0 759.9,120.2 763.5,120.3 767.2,120.5 770.8,120.7 774.5,120.8 778.1,121.0 781.7,121.1 785.4,121.2 789.0,121.4 792.6,121.5 796.3,121.7 799.9,121.8 803.5,121.9 807.2,122.0 810.8,122.1 814.5,122.2 818.1,122.2 821.7,122.2 825.4,122.2 829.0,122.2 832.6,122.1 836.3,122.1 839.9,122.1 843.5,122.1 847.2,122.1 850.8,122.0 854.5,122.0 858.1,122.0 861.7,121.9 865.4,121.9 869.0,121.8 872.6,121.8 876.3,121.7 879.9,121.7 883.5,121.6 887.2,121.5 890.8,121.4 894.5,121.3 898.1,121.2 901.7,121.2 905.4,121.1 909.0,121.2 912.6,121.2 916.3,121.4 919.9,121.5 923.5,121.7 927.2,122.0 930.8,122.3 934.5,122.8 938.1,123.6 941.7,124.5 945.4,125.6 949.0,126.8" fill="none" stroke="#000" stroke-width="1.35" stroke-dasharray="4.5 2.5" stroke-linejoin="round"/>
<path d="M589.0,226.2 590.9,226.1 592.7,226.0 594.6,225.9 596.4,225.8 598.3,225.8 600.1,225.8 602.0,225.8 603.8,225.7 605.7,225.6 607.5,225.6 609.4,225.6 611.2,225.4 613.1,225.3 614.9,225.3 616.8,225.2 618.6,225.1 620.5,224.9 622.3,224.8 624.2,224.7 626.0,224.8 627.9,224.7 629.7,224.8 631.6,224.8 633.4,224.9 635.3,224.7 637.1,224.7 639.0,224.8 640.8,225.0 642.7,225.1 644.5,225.1 646.4,225.1 648.2,225.2 650.1,225.4 651.9,225.5 653.8,225.6 655.6,225.7 657.5,225.8 659.3,225.8 661.2,225.9 663.0,226.0 664.9,226.0 666.7,226.0 668.6,226.2 670.4,226.3 672.3,226.4 674.1,226.4 676.0,226.5 677.8,226.7 679.7,226.8 681.5,226.8 683.4,226.7 685.2,226.8 687.1,226.9 688.9,227.0 690.8,227.0 692.6,227.2 694.5,227.3 696.3,227.3 698.2,227.4 699.9,227.6 701.6,228.2 703.1,228.9 704.4,230.0 705.5,231.4 706.5,233.1 707.4,234.8 708.4,236.2 709.5,237.6 710.8,238.9 712.1,240.1 713.6,241.2 715.1,242.2 716.7,243.2 718.4,244.0 720.1,244.5 721.9,244.8 723.7,245.2 725.5,245.8 727.3,246.1 729.1,246.4 730.9,246.4 732.8,246.4 734.6,246.2 736.5,246.0 738.3,245.8 740.1,245.6 742.0,245.6 743.8,245.4 745.7,245.2 747.5,244.9 749.3,244.5 751.1,244.3 753.0,243.9 754.8,243.6 756.6,243.1 758.4,242.7 760.2,242.2 762.0,241.7 763.5,241.2 764.3,240.8 764.3,240.5 763.6,240.3 762.2,240.1 760.4,240.0 758.5,239.8 756.7,239.9 754.9,240.1 753.0,240.2 751.7,240.2 751.1,240.1 751.3,239.7 752.1,239.0 753.6,238.2 755.2,237.3 756.8,236.3 758.3,235.3 759.9,234.4 761.4,233.3 762.9,232.4 764.5,231.2 766.1,230.3 767.7,229.4 769.4,228.7 771.2,228.3 773.0,227.9 774.8,227.8 776.7,227.4 778.5,227.4 780.3,227.0 782.2,227.0 784.0,226.9 785.9,226.7 787.7,226.6 789.6,226.7 791.4,226.7 793.3,226.5 795.1,226.3 797.0,226.2 798.8,226.2 800.7,226.1 802.5,226.1 804.4,225.9 806.2,225.8 808.1,225.7 809.9,225.7 811.8,225.7 813.6,225.8 815.5,225.7 817.3,225.7 819.2,225.6 821.0,225.5 822.9,225.6 824.7,225.6 826.6,225.6 828.4,225.5 830.3,225.5 832.1,225.6 834.0,225.7 835.8,225.6 837.7,225.5 839.5,225.7 841.4,225.7 843.2,225.7 845.1,225.6 846.9,225.6 848.8,225.8 850.6,225.9 852.5,226.1 854.3,226.1 856.2,226.3 858.0,226.3 859.9,226.4 861.7,226.4 863.6,226.3 865.4,226.5 867.3,226.5 869.1,226.6 871.0,226.5 872.8,226.5 874.7,226.5 876.5,226.5 878.4,226.5 880.2,226.5 882.1,226.5 883.9,226.6 885.8,226.7 887.6,226.7 889.5,226.6 891.4,226.4 893.2,226.4 895.1,226.5 896.9,226.6 898.8,226.5 900.6,226.5 902.5,226.5 904.3,226.5 906.2,226.4 908.0,226.4 909.9,226.2 911.7,226.3 913.6,226.2 915.4,226.3 917.3,226.3 919.1,226.4 921.0,226.2 922.8,225.9 924.7,225.9 926.5,225.8 928.4,225.9 930.2,225.9 932.1,225.8 933.9,225.6 935.8,225.6 937.6,225.7 939.5,225.8 941.3,225.7 943.2,225.6 945.0,225.5 946.9,225.5" fill="none" stroke="#000" stroke-width="0.7" stroke-linejoin="round"/>
<text x="721" y="93.6" font-size="9.8" text-anchor="middle" textLength="29.3" lengthAdjust="spacingAndGlyphs" stroke="#000" stroke-width="0.3">-12.0</text>
<text x="720" y="122.4" font-size="9.8" text-anchor="middle" textLength="29" lengthAdjust="spacingAndGlyphs" stroke="#000" stroke-width="0.3">-6.00</text>
<text x="715.4" y="182.4" font-size="9.8" text-anchor="middle" textLength="21" lengthAdjust="spacingAndGlyphs" stroke="#000" stroke-width="0.3">0.00</text>
<text x="715.4" y="193.8" font-size="9.8" text-anchor="middle" textLength="21" lengthAdjust="spacingAndGlyphs" stroke="#000" stroke-width="0.3">6.00</text>
<text x="715.4" y="205.2" font-size="9.8" text-anchor="middle" textLength="21" lengthAdjust="spacingAndGlyphs" stroke="#000" stroke-width="0.3">12.0</text>
<text x="715.4" y="215.6" font-size="9.8" text-anchor="middle" textLength="21" lengthAdjust="spacingAndGlyphs" stroke="#000" stroke-width="0.3">18.0</text>
<text x="715.4" y="226.4" font-size="9.8" text-anchor="middle" textLength="21" lengthAdjust="spacingAndGlyphs" stroke="#000" stroke-width="0.3">24.0</text>
</g>
<path d="M602.0 262.0v-2.6M602.0 82.5v2.6M616.4 262.0v-5M616.4 82.5v5M630.8 262.0v-2.6M630.8 82.5v2.6M645.2 262.0v-5M645.2 82.5v5M659.6 262.0v-2.6M659.6 82.5v2.6M674.0 262.0v-5M674.0 82.5v5M688.4 262.0v-2.6M688.4 82.5v2.6M702.8 262.0v-5M702.8 82.5v5M717.3 262.0v-2.6M717.3 82.5v2.6M731.7 262.0v-5M731.7 82.5v5M746.1 262.0v-2.6M746.1 82.5v2.6M760.5 262.0v-5M760.5 82.5v5M774.9 262.0v-2.6M774.9 82.5v2.6M789.3 262.0v-5M789.3 82.5v5M803.7 262.0v-2.6M803.7 82.5v2.6M818.1 262.0v-5M818.1 82.5v5M832.5 262.0v-2.6M832.5 82.5v2.6M846.9 262.0v-5M846.9 82.5v5M861.3 262.0v-2.6M861.3 82.5v2.6M875.7 262.0v-5M875.7 82.5v5M890.1 262.0v-2.6M890.1 82.5v2.6M904.5 262.0v-5M904.5 82.5v5M918.9 262.0v-2.6M918.9 82.5v2.6M933.3 262.0v-5M933.3 82.5v5M589 253.0h2.6M947 253.0h-2.6M589 244.1h2.6M947 244.1h-2.6M589 235.1h2.6M947 235.1h-2.6M589 226.1h2.6M947 226.1h-2.6M589 217.1h5M947 217.1h-5M589 208.2h2.6M947 208.2h-2.6M589 199.2h2.6M947 199.2h-2.6M589 190.2h2.6M947 190.2h-2.6M589 181.2h2.6M947 181.2h-2.6M589 172.2h5M947 172.2h-5M589 163.3h2.6M947 163.3h-2.6M589 154.3h2.6M947 154.3h-2.6M589 145.3h2.6M947 145.3h-2.6M589 136.3h2.6M947 136.3h-2.6M589 127.4h5M947 127.4h-5M589 118.4h2.6M947 118.4h-2.6M589 109.4h2.6M947 109.4h-2.6M589 100.4h2.6M947 100.4h-2.6M589 91.5h2.6M947 91.5h-2.6" stroke="#000" stroke-width="1.2" fill="none"/>
<rect x="589" y="82.5" width="358" height="179.5" fill="none" stroke="#000" stroke-width="1.6"/>
<text x="616.1" y="274.4" font-size="10.8" text-anchor="middle" fill="#000" stroke="#000" stroke-width="0.22" textLength="5.8" lengthAdjust="spacingAndGlyphs">4</text>
<text x="644.9" y="274.4" font-size="10.8" text-anchor="middle" fill="#000" stroke="#000" stroke-width="0.22" textLength="5.8" lengthAdjust="spacingAndGlyphs">8</text>
<text x="673.7" y="274.4" font-size="10.8" text-anchor="middle" fill="#000" stroke="#000" stroke-width="0.22" textLength="11.6" lengthAdjust="spacingAndGlyphs">12</text>
<text x="702.5" y="274.4" font-size="10.8" text-anchor="middle" fill="#000" stroke="#000" stroke-width="0.22" textLength="11.6" lengthAdjust="spacingAndGlyphs">16</text>
<text x="731.4" y="274.4" font-size="10.8" text-anchor="middle" fill="#000" stroke="#000" stroke-width="0.22" textLength="11.6" lengthAdjust="spacingAndGlyphs">20</text>
<text x="760.2" y="274.4" font-size="10.8" text-anchor="middle" fill="#000" stroke="#000" stroke-width="0.22" textLength="11.6" lengthAdjust="spacingAndGlyphs">24</text>
<text x="789.0" y="274.4" font-size="10.8" text-anchor="middle" fill="#000" stroke="#000" stroke-width="0.22" textLength="11.6" lengthAdjust="spacingAndGlyphs">28</text>
<text x="817.8" y="274.4" font-size="10.8" text-anchor="middle" fill="#000" stroke="#000" stroke-width="0.22" textLength="11.6" lengthAdjust="spacingAndGlyphs">32</text>
<text x="846.6" y="274.4" font-size="10.8" text-anchor="middle" fill="#000" stroke="#000" stroke-width="0.22" textLength="11.6" lengthAdjust="spacingAndGlyphs">36</text>
<text x="875.4" y="274.4" font-size="10.8" text-anchor="middle" fill="#000" stroke="#000" stroke-width="0.22" textLength="11.6" lengthAdjust="spacingAndGlyphs">40</text>
<text x="904.2" y="274.4" font-size="10.8" text-anchor="middle" fill="#000" stroke="#000" stroke-width="0.22" textLength="11.6" lengthAdjust="spacingAndGlyphs">44</text>
<text x="933.0" y="274.4" font-size="10.8" text-anchor="middle" fill="#000" stroke="#000" stroke-width="0.22" textLength="11.6" lengthAdjust="spacingAndGlyphs">48</text>
<text x="583.6" y="220.6" font-size="10.8" text-anchor="end" fill="#000" stroke="#000" stroke-width="0.22" textLength="5.8" lengthAdjust="spacingAndGlyphs">5</text>
<text x="583.6" y="175.8" font-size="10.8" text-anchor="end" fill="#000" stroke="#000" stroke-width="0.22" textLength="11.6" lengthAdjust="spacingAndGlyphs">10</text>
<text x="583.6" y="130.9" font-size="10.8" text-anchor="end" fill="#000" stroke="#000" stroke-width="0.22" textLength="11.6" lengthAdjust="spacingAndGlyphs">15</text>
<text x="539" y="280.8" font-size="10" text-anchor="start" fill="#000" stroke="#000" stroke-width="0.15" textLength="54" lengthAdjust="spacingAndGlyphs">(×1000 m)</text>
<text x="955" y="287.3" font-size="10" text-anchor="end" fill="#000" stroke="#000" stroke-width="0.15" textLength="54" lengthAdjust="spacingAndGlyphs">(×1000 m)</text>
<text x="725" y="303.75" font-size="14" text-anchor="start" fill="#000" textLength="86.5" lengthAdjust="spacingAndGlyphs">X-coordinate</text>
<text x="563.2" y="172.5" font-size="14" text-anchor="middle" fill="#000" textLength="86.5" lengthAdjust="spacingAndGlyphs" transform="rotate(-90 563.2 172.5)">Z-coordinate</text>
<text x="616" y="57.8" font-size="15.5" text-anchor="start" fill="#000" textLength="93" lengthAdjust="spacingAndGlyphs">disturbunce</text>
<text x="718.9" y="57.8" font-size="15.5" text-anchor="start" fill="#000" textLength="14.6" lengthAdjust="spacingAndGlyphs">of</text>
<text x="743.4" y="57.8" font-size="15.5" text-anchor="start" fill="#000" textLength="68.1" lengthAdjust="spacingAndGlyphs">potential</text>
<text x="821.8" y="57.8" font-size="15.5" text-anchor="start" fill="#000" textLength="98.6" lengthAdjust="spacingAndGlyphs">temperature</text>
<linearGradient id="cb589_82" x1="0" x2="1" y1="0" y2="0"><stop offset="0.0000" stop-color="#8000a0"/><stop offset="0.0625" stop-color="#2000c0"/><stop offset="0.1250" stop-color="#0010f0"/><stop offset="0.1875" stop-color="#0050ff"/><stop offset="0.2500" stop-color="#0098ff"/><stop offset="0.2812" stop-color="#00b8ff"/><stop offset="0.3125" stop-color="#00e0ff"/><stop offset="0.3438" stop-color="#00fff8"/><stop offset="0.3750" stop-color="#00ffd0"/><stop offset="0.4375" stop-color="#00ff70"/><stop offset="0.4875" stop-color="#00ff10"/><stop offset="0.5125" stop-color="#10ff00"/><stop offset="0.5625" stop-color="#80fc00"/><stop offset="0.6250" stop-color="#c8fa00"/><stop offset="0.6562" stop-color="#e8f800"/><stop offset="0.6875" stop-color="#ffe800"/><stop offset="0.7188" stop-color="#ffc400"/><stop offset="0.7500" stop-color="#ffa000"/><stop offset="0.7812" stop-color="#ff8000"/><stop offset="0.8125" stop-color="#ff6000"/><stop offset="0.8500" stop-color="#ff2800"/><stop offset="0.8750" stop-color="#ff1000"/><stop offset="0.9375" stop-color="#e80000"/><stop offset="1.0000" stop-color="#f08080"/></linearGradient>
<rect x="690.4" y="338.8" width="155" height="10.6" fill="url(#cb589_82)"/>
<path d="M690.40 338.8v10.6M692.34 338.8v10.6M694.27 338.8v10.6M696.21 338.8v10.6M698.15 338.8v10.6M700.09 338.8v10.6M702.02 338.8v10.6M703.96 338.8v10.6M705.90 338.8v10.6M707.84 338.8v10.6M709.77 338.8v10.6M711.71 338.8v10.6M713.65 338.8v10.6M715.59 338.8v10.6M717.52 338.8v10.6M719.46 338.8v10.6M721.40 338.8v10.6M723.34 338.8v10.6M725.27 338.8v10.6M727.21 338.8v10.6M729.15 338.8v10.6M731.09 338.8v10.6M733.02 338.8v10.6M734.96 338.8v10.6M736.90 338.8v10.6M738.84 338.8v10.6M740.77 338.8v10.6M742.71 338.8v10.6M744.65 338.8v10.6M746.59 338.8v10.6M748.52 338.8v10.6M750.46 338.8v10.6M752.40 338.8v10.6M754.34 338.8v10.6M756.27 338.8v10.6M758.21 338.8v10.6M760.15 338.8v10.6M762.09 338.8v10.6M764.02 338.8v10.6M765.96 338.8v10.6M767.90 338.8v10.6M769.84 338.8v10.6M771.77 338.8v10.6M773.71 338.8v10.6M775.65 338.8v10.6M777.59 338.8v10.6M779.52 338.8v10.6M781.46 338.8v10.6M783.40 338.8v10.6M785.34 338.8v10.6M787.27 338.8v10.6M789.21 338.8v10.6M791.15 338.8v10.6M793.09 338.8v10.6M795.02 338.8v10.6M796.96 338.8v10.6M798.90 338.8v10.6M800.84 338.8v10.6M802.77 338.8v10.6M804.71 338.8v10.6M806.65 338.8v10.6M808.59 338.8v10.6M810.52 338.8v10.6M812.46 338.8v10.6M814.40 338.8v10.6M816.34 338.8v10.6M818.27 338.8v10.6M820.21 338.8v10.6M822.15 338.8v10.6M824.09 338.8v10.6M826.02 338.8v10.6M827.96 338.8v10.6M829.90 338.8v10.6M831.84 338.8v10.6M833.77 338.8v10.6M835.71 338.8v10.6M837.65 338.8v10.6M839.59 338.8v10.6M841.52 338.8v10.6M843.46 338.8v10.6M845.40 338.8v10.6" stroke="#000" stroke-width="0.85" fill="none"/>
<rect x="690.4" y="338.8" width="155" height="10.6" fill="none" stroke="#000" stroke-width="0.9"/>
<text x="715.2" y="360.90000000000003" font-size="10.8" text-anchor="middle" fill="#000" stroke="#000" stroke-width="0.22" textLength="17.6" lengthAdjust="spacingAndGlyphs">-12</text>
<text x="744.9" y="360.90000000000003" font-size="10.8" text-anchor="middle" fill="#000" stroke="#000" stroke-width="0.22" textLength="5.8" lengthAdjust="spacingAndGlyphs">0</text>
<text x="774.6" y="360.90000000000003" font-size="10.8" text-anchor="middle" fill="#000" stroke="#000" stroke-width="0.22" textLength="11.6" lengthAdjust="spacingAndGlyphs">12</text>
<text x="804.3" y="360.90000000000003" font-size="10.8" text-anchor="middle" fill="#000" stroke="#000" stroke-width="0.22" textLength="11.6" lengthAdjust="spacingAndGlyphs">24</text>
<text x="834.0" y="360.90000000000003" font-size="10.8" text-anchor="middle" fill="#000" stroke="#000" stroke-width="0.22" textLength="11.6" lengthAdjust="spacingAndGlyphs">36</text>
<text x="684.7" y="330.3" font-size="11.5" text-anchor="start" fill="#000" stroke="#000" stroke-width="0.15" textLength="45.3" lengthAdjust="spacingAndGlyphs">CONTOUR</text>
<text x="735.3" y="330.3" font-size="11.5" text-anchor="start" fill="#000" stroke="#000" stroke-width="0.15" textLength="43.5" lengthAdjust="spacingAndGlyphs">INTERVAL</text>
<text x="784" y="330.3" font-size="11.5" text-anchor="start" fill="#000" stroke="#000" stroke-width="0.15" textLength="6.6" lengthAdjust="spacingAndGlyphs">=</text>
<text x="798" y="330.3" font-size="11.5" text-anchor="start" fill="#000" stroke="#000" stroke-width="0.15" textLength="53.8" lengthAdjust="spacingAndGlyphs">3.000E+00</text>
<text x="870.3" y="344.6" font-size="10.5" text-anchor="start" fill="#8c8c8c" textLength="55.3" lengthAdjust="spacingAndGlyphs">t=615000 s</text>
<text x="526" y="368.5" font-size="5.5" text-anchor="start" fill="#000" textLength="46" lengthAdjust="spacingAndGlyphs">/usr/bin/gpview</text>
<text x="577" y="368.5" font-size="5.5" text-anchor="start" fill="#000" textLength="35" lengthAdjust="spacingAndGlyphs">2008-12-21</text>
<text x="805" y="368.5" font-size="5.5" text-anchor="start" fill="#000" textLength="189.25" lengthAdjust="spacingAndGlyphs">MarsCond._PotTemp.nc@PotTempDist,x=0:50000,z=0:20000,t=615000</text>
</g>
<g id="panel3">
<clipPath id="clip2"><rect x="77" y="452.5" width="358" height="179.5"/></clipPath>
<g clip-path="url(#clip2)" shape-rendering="geometricPrecision">
<rect x="77" y="452.0" width="358" height="180" fill="#0023f4"/>
<path d="M79,452 435,452 435,632 225.2,632 228.2,626 228.3,624 227.6,622 225.3,620 220.2,618.9 216.2,619.5 213.2,622 212.6,624 212.8,626 215.9,632 77,632 77,452Z" fill="#0030f8"/>
<path d="M79,452 435,452 435,632 230.7,632 232.9,626 232.8,622 231.9,620 230.1,618.3 228.2,617.3 220.2,615.9 214.2,616.9 211.6,618 209.4,620 208.6,622 208.5,624 210.3,632 77,632 77,452Z" fill="#003dfa"/>
<path d="M79,452 435,452 435,632 234.7,632 236.2,628 236.8,624 236.1,620 234.7,618 232.1,615.9 228.2,614.4 220.2,613.5 216.2,613.9 212.2,614.9 209.5,616 206.8,618 205.6,620 205.2,622 206.8,632 77,632 77,452Z" fill="#004afe"/>
<path d="M79,452 435,452 435,632 238.6,632 239.8,628 240.1,624 239.4,620 238.4,618 234.1,614.4 230.1,612.6 220.2,611.3 216.2,611.6 210.3,613.2 206.3,615.2 204.3,617.2 202.8,620 202.4,622 203.6,632 77,632 77,452Z" fill="#0057ff"/>
<path d="M79,452 435,452 435,632 242.7,632 243.4,628 242.9,622 241.6,618 239.9,616 237.1,614 230.1,610.6 220.2,609.3 214.2,609.9 208.3,611.7 204.6,614 202.7,616 201.3,618 200,622 200.3,632 77,632 77,452Z" fill="#0066ff"/>
<path d="M79,452 435,452 435,632 246.4,632 246.4,628 245.1,620 243.2,616 240.6,614 230.1,608.8 226.2,607.9 220.2,607.5 214.6,608 208.3,609.8 204.4,612 202.2,614 199.3,618 197.8,622 197.1,632 77,632 77,452Z" fill="#0074ff"/>
<path d="M79,452 435,452 435,632 248.9,632 247.3,618 246.5,616 244.4,614 230.1,607.3 226.2,606.5 218.2,606 210.3,607.6 206.3,609 204.3,610.1 200.3,613.8 197.3,618 195.6,622 194.1,632 77,632 77,452Z" fill="#0082ff"/>
<path d="M79,452 435,452 435,632 250.6,632 249.8,624 249.8,618 249.4,616 248,613.9 244.9,612 230.1,606 218.2,605 211.5,606 206.3,607.5 202.3,609.9 200,612 196.6,616 194,620 192.7,624 191.3,632 77,632 77,452Z" fill="#0091ff"/>
<path d="M79,452 372.4,452 374.1,454 377.3,455.1 381.3,454.1 382.9,452 435,452 435,632 252,632 252,616 250,612.8 248,611.5 240.1,608.9 230.1,604.9 218.2,603.9 206.3,606.2 202.4,608 200,610 194.4,616 191.7,620 189.8,626 188.8,632 77,632 77,452ZM392.4,494 391.1,496 393.2,498.3 399.2,499.7 401.2,499.4 403.7,498 403.7,496 401.2,494.1 395.2,493.3Z" fill="#009eff"/>
<path d="M79,452 364,452 365.4,456.2 368.5,460 373.3,462.9 379.3,464.4 383.3,463.8 387.3,461 390.5,456 391.8,452 435,452 435,632 252.9,632 254.5,618 253.8,614 252.4,612 248.8,610 240.1,607.6 230.1,603.9 218.2,603.1 211.1,604 204.3,605.6 197.8,610 191.8,616 189.2,620 187.4,626 186.6,632 77,632 77,452ZM387.8,486 384,490 382.5,494 382.4,496 383.7,500 387.3,504.4 391.2,506.6 397.2,507.1 405.2,504.5 408.4,502 409.6,500 410,496 408.4,492 405.2,488.7 399.2,485.5 395.2,484.3 391.2,484.3Z" fill="#00abff"/>
<path d="M79,452 358.4,452 359.6,458 363.1,464 365.4,466.3 375.9,474 379.1,478 379.2,482 375.6,490 374.8,494 375.2,498 376.9,502 381.3,507.8 384,510 389.3,512.9 395.2,514.1 399.2,513.8 401.2,513.1 410,508 413.1,504 414.4,498 413.1,492 410.6,488 405.2,483.1 395.6,476 393.7,474 392.8,472 392.9,468 397.9,452 435,452 435,632 253.8,632 256.4,622 256.8,618 256.2,614 254,610.8 250,608.9 242.1,606.9 232.1,603.4 228.2,602.7 218.2,602.2 206.3,603.9 202.3,605.2 197.8,608 193,612 189.1,616 186.5,620 185.3,624 184.7,632 77,632 77,452Z" fill="#00b8ff"/>
<path d="M79,452 353.6,452 354.2,458 355.4,463.1 362.5,476 364.1,480 364.7,484 364.8,498 366.6,504 369,508 371.4,510.3 377,514 393.2,522.8 402.7,526 409.1,526.5 419.1,526.1 421.1,525.6 423.2,524 423.4,522 419.6,516 418,512 419,500 418.8,496 417.7,492 413.8,486 402.3,474 400.3,470 400.1,464 403.3,452 435,452 435,632 254.7,632 256,627.3 258.9,622 259.2,620 258.4,614 256.2,610 252,608 242.1,605.6 232.1,602.4 218.2,601.4 202.3,603.8 198.1,606 190,612 186.1,616 183.6,620 182.7,624 182.8,632 77,632 77,452Z" fill="#00c8ff"/>
<path d="M79,452 349.5,452 350.2,464 354.9,478 357.2,500 359.3,508 361.4,512 363.4,514.5 367.4,517.8 383.3,524.6 393.2,530.8 397.2,532.2 403.2,532.8 424.3,530 427,528 428.2,524 428.2,522 427.5,520 425.2,516 423.9,512 424.2,500 423.6,496 422.3,492 418.6,486 408.1,474 405.1,468 405,464 408.3,452 435,452 435,516.9 434.1,518 433.6,520 435,521.1 435,632 255.5,632 257.2,628 260.8,624 261.6,622 261.5,618 260.5,614 258,609.2 256.4,608 254,607.2 232.1,601.4 218.2,600.6 204.3,602.2 200.3,603.3 195.1,606 186.5,612 182.7,616 180.4,620 180.1,624 180.8,632 77,632 77,452Z" fill="#00d8ff"/>
<path d="M79,452 345.7,452 345.8,464 349.2,476 350.9,494 353.5,507.2 355.4,513.1 361.4,521.7 365.4,524.3 381.3,531.1 387.3,535.3 391.2,536.7 397.2,537.2 403.2,536.9 419.1,534 435,534.3 435,632 256.4,632 258,628.9 261.7,626 263.4,624 264.2,622 264,618 262.9,614 261.2,610 259.4,608 256,606.3 234.1,600.8 218.2,599.7 204.3,601 200.3,601.9 191.3,606 184.4,610.3 180.4,614 177.7,618 177.2,622 178.8,632 77,632 77,452ZM413.1,452 435,452 435,508.5 433,508.7 432.5,508 431,504.8 428.6,496 425.7,490 423,486 414.2,476 409.9,468 409.7,464 412.8,452ZM431,511.9 431,514.5 430.6,514Z" fill="#00e6fe"/>
<path d="M79,452 342.2,452 342.6,466 344.8,476 346.7,494 349.5,508 351.3,514 353.5,518.1 355.9,522 359.4,526 375.3,538.6 378.1,540 381.3,540.7 387.3,541.2 395.2,540.8 405.2,539.5 419.1,536.8 435,537 435,632 257.5,632 258.6,630 265.9,624 266.8,622 267,620 266.4,616 264.8,612 262.1,608 258,605.5 238.1,600.4 230.1,599.2 218.2,598.8 204.3,599.9 198.3,601.1 186.1,606 179.7,610 175.8,614 174.4,618 174.6,622 176.5,632 77,632 77,537.3 79,538.1 81,538.1 81.4,536 78.2,530 77,525.2 77,452ZM417.1,452 435,452 435,496.8 426.8,486 418.4,476 415.2,470 414.2,466 414.2,464 416.7,452Z" fill="#00f3fb"/>
<path d="M79,452 338.9,452 339.4,466 342.8,492 345.4,506 347.5,513.4 350.3,520 353.5,525.1 355.9,528 364.7,536 369.4,542 373.3,544.5 381.3,545.1 393.2,543.9 419.1,539.3 435,538.7 435,632 258.7,632 260.3,630 267.9,624.3 269.1,622 269.5,618 268.9,614 266.9,610 265.2,608 260,604.8 240.1,599.5 232.1,598.3 218.2,597.9 204.3,598.7 198.3,599.6 183.9,604 176.3,608 172.2,612 171.1,616 173.9,632 77,632 77,541.4 81,542.3 83.7,542 86,540 86.5,538 85.7,534 80.8,522 77,515.4 77,452ZM421.1,452 435,452 435,490.7 423.7,478 420.9,474 419,470 418.1,466 418.3,462 420.3,452Z" fill="#00fff8"/>
<path d="M79,452 335.7,452 336.4,466 339,488 341.8,504 344.4,514 347.6,522 351.1,528 361.3,538 367.4,546.8 371.4,548.3 379.3,548.2 419.1,541.5 435,540.2 435,632 260.2,632 262.1,630 268.3,626 269.9,624.4 271.4,620 272.1,616 271.5,612 268.9,608 266.7,606 262.3,604 254,602.2 248,599.6 244.1,598.7 232.1,597.2 218.2,596.8 202.3,597.6 188.7,600 178.4,602.9 169.6,608 167.5,610 166.4,612 166.3,614 170.2,624 171.2,632 77,632 77,543.6 83,544.8 86.9,544.5 88.9,543 89.8,540 88.9,534 86.9,528.6 82.4,518 77,508.1 77,452ZM425.1,452 435,452 435,486.1 427.2,478 424.3,474 422.4,470 421.6,466 421.6,462 423.6,452Z" fill="#00ffe8"/>
<path d="M79,452 332.7,452 333.5,466 335.8,488 339.1,506 341.3,514 344.1,522 347.5,528.7 351.5,534.2 358.2,540 364,550 367.4,551.3 375.3,550.9 419.1,543.5 435,541.7 435,632 261.7,632 263.8,630 270.2,626 271.5,624 274.8,616 275.4,614 275.2,612 272.7,608 269.9,605 265.9,603 256,601.2 246.1,597.5 234.1,596.2 218.2,595.8 200.3,596.4 180.4,599.3 174.5,601.1 164.5,606.7 161.4,610 160.5,612 160.3,614 160.9,616 166.4,622 167.4,624 168.2,628 168,632 77,632 77,545.6 85,547.4 90.9,547.9 92.9,546.3 93.2,544 92.7,538 90.3,530 77,499.3 77,452ZM427,452 435,452 435,482.2 433,480.7 428.9,476 426.5,472 425,468 424.6,462 426.6,452Z" fill="#00ffd8"/>
<path d="M79,452 329.9,452 332.5,486 337.5,512 341.6,524 344.5,530 349.5,537.9 353.5,541 356.2,544 359.8,552 363.4,554 367.7,554 435,543.2 435,632 263.2,632 265.3,630 271.5,626 280,612 279.7,610 271.9,603 267.9,601.1 256,599.5 250,596.9 246.1,595.9 216.2,594.7 198.3,595.1 178.4,597 174.1,598 164.5,602.8 160.5,606 158.5,608.7 157,612 156.3,616 156.5,618 157.5,620 162.5,623.6 164.2,626 164.4,628 163.5,632 77,632 77,547.4 94.9,552.2 96.9,551.2 97.7,548 96,540 93.6,532 83.5,506 77,486.5 77,452ZM431,452 435,452 435,478.3 432.4,476 429.6,472 427.5,466 427.4,462 429.2,452Z" fill="#00ffc6"/>
<path d="M79,452 327.2,452 329.5,486 334.5,512 339.2,526 343.5,534.9 346.7,540 351.9,546 355.4,552.7 357.4,555 361.4,556.3 365.4,556.3 397.2,550.6 435,545 435,632 264.6,632 266.7,630 271.9,626.8 275.9,620.6 282.1,614 283.7,610 283.5,608 281.9,605.4 271.9,600 256,597.7 248,594.9 233.6,594 208.3,593.5 190.4,593.9 176.4,594.9 170.5,596.3 164.5,599.1 158.5,605 154.6,612 153.1,618 153.5,632 77,632 77,549.2 92.9,554.3 96.9,554.7 98.9,553.9 100.3,552 101,548 99.2,540 87.4,508 80.8,486 79,481.7 77,478.6 77,452ZM433,452 435,452 435,474.2 431.8,470 430.1,464 431.5,452Z" fill="#00ffb3"/>
<path d="M79,452 324.5,452 326.5,486 330.1,506 332,514 335.9,526 339.6,534 353.5,555.9 355.4,557.8 359.4,558.7 363.4,558.4 395.2,552.3 435,547 435,632 265.9,632 271.9,627.9 275.9,622.5 284.4,614 286.2,610 286.4,606 285.8,604 283.8,601.8 271.9,597.8 256,596.4 248,593.6 194.3,592.2 180.4,592.5 172.5,593.3 166.5,594.8 162.5,597.4 156.6,604.7 152.5,612 146.7,632 77,632 77,551 94.9,556.6 98.9,556.6 100.9,555.6 102.2,554 103.5,550 103.7,546 102.6,540 97.9,530 91.1,510 85.1,488 82.4,482 77,472 77,452ZM435,452 435,468.8 433.4,466 432.7,462 434,452Z" fill="#00ffa0"/>
<path d="M79,452 321.9,452 322.4,470 323.6,485.5 328.9,514 332.7,526 336.2,534 351.5,557.8 353.5,559.9 355.4,560.8 359.4,560.8 395.2,553.7 435,549.2 435,632 267.2,632 272.8,628 275.9,624 283,618 286.4,614 288.3,610 289.3,606 289.4,602 287.8,599.5 283.8,598 272,596 264,595.9 256,595.1 248,592.4 184.4,590.6 176.4,590.9 167.7,592 164.5,593.2 160.9,596 156.3,602 151.5,610 143.9,628 142.7,632 77,632 77,552.8 94.9,558.3 98.9,558.9 100.9,558.6 102.9,557.6 104.8,554.4 106.7,544 106.3,540 105.6,538 100.9,530.6 99,526 94,510 88.7,488 81,473.3 78.2,466 77.7,460 78.4,452Z" fill="#00ff8d"/>
<path d="M83,452 319.3,452 319.5,470 320.7,484 324.6,508 326.5,516 331,530 333.9,536 337.5,542 351.5,561.2 353.5,562.5 357.4,562.9 397.2,554.7 413.1,552.9 435,551.3 435,632 268.5,632 273.8,628 277.9,623.5 285.2,618 288.3,614 291.2,608 293.3,600 293.3,598 291.8,595.9 271.9,594.4 264,594.5 258,594 248,591.4 224.2,591 180.4,588.9 166.5,590.3 162.9,592 160.4,594 155.6,600 149.5,610 141.1,628 140,632 77,632 77,554.4 86.9,557.1 96.9,560.7 102.9,561.6 104.8,560.7 106.5,558 110.5,542 110.1,538 109.2,536 103.6,530 101.7,526 97,510 92.2,488 84.2,474 81.6,468 80.8,464 80.9,460 81.7,452Z" fill="#00ff7a"/>
<path d="M85,452 316.6,452 316.8,470 318.6,488 322.6,512 327.1,528 329.4,534 333.7,542 349.7,562 353.5,564.3 357.4,564.5 399.2,555.7 413.1,554.3 435,553.2 435,632 269.9,632 273.9,629 277.9,624.9 285.8,619.4 290.2,614 293.4,608 296.3,600 296.4,596 295.6,594 293.8,592.4 291.8,591.9 283.8,592.7 264,593.2 250,590.5 224.2,590.2 178.4,587.3 166.5,588.7 162.5,590.5 158.3,594 152.1,602 146.2,612 138.9,628 138.1,632 77,632 77,556 88.9,559.3 99.7,564 108.8,570.8 110.1,570 109.6,562 110.7,552 114.7,542 114.3,538 112.8,533.6 110.8,531.3 106.8,528.8 104.7,526 100.4,512 95.3,488 87.1,474 84.4,468 83.6,462Z" fill="#00ff64"/>
<path d="M88.9,452 313.9,452 314.1,470 316.1,488 319.8,512 324.6,530 326.9,536 331.2,544 343.4,558 349.5,563.9 353.5,565.7 359.4,565.8 401.2,556.6 415.1,555.4 435,555 435,632 271.5,632 277.9,626.3 287.4,620 290.9,616 294.6,610 297.3,604 298.6,598 297.8,592.7 295.6,590 291.8,589 279.9,590.8 264,591.9 256,589.9 222.2,589.2 178.4,585.6 170.5,586.2 164.5,587.9 158.5,592 152.5,598 148.1,604 143.7,612 137.9,626 136.6,632 77,632 77,557.4 86.9,560.2 96.9,564.9 101,568 108.8,576.4 116.8,581.8 118.8,582.4 119.6,582 120.4,580 119.1,574 114.3,564 113.1,558 113.7,552 117.6,542 117.1,536 114.8,530.8 109,526 106.8,523 103.4,512 101,498 98.8,490 96.9,485.4 89.9,474 87.2,468 86.5,462 88,452Z" fill="#00ff4c"/>
<path d="M90.9,453.6 91.2,452 311,452 311.5,470 313.9,490 317.5,514 321.6,530 324.5,538 328.9,546 338.2,556 344.7,562 351.5,566.4 355.4,567.2 359.4,567.2 375.3,565.1 401.2,557.9 415.1,556.7 435,556.6 435,632 273.2,632 277.9,627.7 285.8,623.3 289.8,620 293,616 298,608 299.9,602 300.2,594 299,590 297.8,588.2 295.8,586.9 291.8,586.4 277.9,589.2 265.9,590.7 256,588.7 220.2,588.3 176.4,584 168.5,585 162.5,587.5 151.3,596 145.2,602 141.9,608 137.8,620 135.7,628 135.3,632 77,632 77,558.9 88.9,562.6 94.9,565.9 98.9,568.8 111,582 120.8,595 124.7,598.1 128.7,598.8 130.7,598.2 132.7,596.1 133.3,594 133.1,590 130.8,584 125.2,574 118.8,564.8 116.8,560 116.5,554 119.7,542 119.3,534 117.6,530 111.3,524 108.7,520 106.4,512 104.3,498 103.2,494 99.8,486 90.7,470 89.4,464Z" fill="#00ff34"/>
<path d="M94.9,452 308.2,452 309,470 311.9,494 314.8,514 318.5,530 322,540 325.1,546 329.6,551.7 336.5,558 344.4,564 351.5,567.7 355.4,568.4 369.4,568.8 375.3,568.5 381.3,567.5 387.3,565.2 397.2,560.3 403.2,558.9 415.1,558 435,558.3 435,632 275,632 277.9,629.3 285.8,625.4 290.4,622 293.8,618.1 300.7,608 301.9,602 302,594 301.5,590 299.7,586 297.8,584.4 295.8,583.8 291.8,583.8 275.4,588 265.9,589.5 256,587.6 232.1,587.8 218.2,587.2 182.4,582.8 174.5,582.4 170.5,582.9 164.5,585 152.6,592.8 146.6,594.5 144.6,594.3 142.1,592 131.2,572 122.7,564 120.4,560 119.6,554 121.8,540 121.3,532 119.2,528 114.8,523.9 111.8,520 108.8,510 107.6,498 106.5,494 93.4,470 92.4,466 92.3,462 94.5,452ZM79,560.7 88.9,564.4 98.9,571.1 108.3,582 116.8,595.2 120.8,600.3 124.7,603.9 132.5,608 134.7,609.6 135.7,612 135.9,614 134.1,632 77,632 77,560.3Z" fill="#00ff1c"/>
<path d="M98.9,452 305.4,452 306.5,470 311.9,514 316.3,534 319.1,542 322.3,548 327.2,554 331.9,558 340.7,564 347.5,567.5 353.5,569.4 363.4,570.7 379.3,574.2 383.3,573.8 394.5,564 397.3,562 401.2,560.6 413.1,559.3 435,559.9 435,632 277.3,632 279.9,630.1 285.8,627.8 291.8,623.8 293.8,622 304.5,608 304.9,606 303.7,599.4 303.9,590 303.4,586 301.7,582.6 299.8,581.3 297.8,580.8 291.8,581.2 271.9,587.3 265.9,588.3 256,586.6 232.1,586.9 218.2,586.3 200.3,584.2 182.4,581.2 174.5,580.8 170.5,581.3 164.5,583.5 154.6,589.9 152.6,590.4 149.3,590 147,588 145.9,586 142.8,576 145.6,566 144.6,565 142.6,564.5 132.7,564.1 128.7,563.3 126.7,562.2 124.7,560.3 123.6,558 122.6,552 123.9,536 123.1,530 120.8,526.3 116.1,522 113.7,518 111.2,508 110.7,498 109.8,494 98.9,476 95.6,468 95.3,462 98,452ZM78.2,562 88.3,566 96.9,571.6 100.9,575.4 106.1,582 118.8,601.7 128.3,612 130.7,615.4 132.6,622 132.9,632 77,632 77,561.7Z" fill="#04ff0c"/>
<path d="M102.9,452 302.6,452 303.8,468 309.5,518 312.1,532 315,542 316.6,546 320.4,552 323.9,556 327.6,559 339.8,566 349.5,569.8 361.4,572.4 373.3,577.8 383.3,580.2 385.3,580 387.3,578.5 391.2,572 395.9,566 397.9,564 401.2,562.1 407.2,560.9 413.1,560.5 435,561.7 435,632 282.7,632 285.8,631.1 291.8,627.6 298.8,626 299.8,624 300,620 301.7,617.6 303.7,616 306.4,616 307.8,618 307.7,620 305.7,623.5 304.9,624 305.4,626 309.7,625.6 311.7,624.5 313.1,622 313.6,620 311.2,612 311,606 309.9,604 307.7,601.8 306,598 307,588 306.7,582 305.7,579.6 304.2,578 301.7,577.3 291.8,578.7 270.9,586 265.9,586.9 256,585.6 234.1,586 220.2,585.4 202.3,583.1 184.4,579.9 176.4,579.3 172.5,579.4 168.5,580.3 162.5,582.7 154.6,587.6 152.6,587.3 151.1,586 150.2,582 151.5,576 151.4,568 152.8,564 153,562 152.4,560 150.6,559 140.6,559.6 130.7,559.1 128.3,558 126,554 124.9,548 125.9,536 125.3,530 123.2,526 117.4,520 116.3,518 113.6,508 113.5,498 112.8,494 110.8,490 101.5,476 98.4,468 98.4,462 101.4,452ZM79,563.8 86.9,567.2 94.9,572.2 98.9,575.5 104.1,582 118.8,605 128.7,618.2 130.9,624 131.7,632 77,632 77,563.3Z" fill="#0cff04"/>
<path d="M104.8,452.1 299.9,452 303.6,488 305.5,514 307.7,530 311.9,546 314.9,552 317.5,556 321.6,560.1 329.6,564.5 338.7,568 358.9,574 369.4,580 383.3,583.5 387.3,582.8 389.3,581.2 394.7,572 398.9,566 401.2,564.1 403.2,563.3 409.1,562 415.1,561.8 435,563.6 435,632 316.7,632 317.2,622 314.8,612 314.5,604 313.7,600.9 311,596 311.6,586 311.2,580 309.7,575.9 307.7,574 305.7,573.3 301.7,573.4 289.8,576.9 269.9,584.5 265.9,585.4 256,584.4 234.1,584.8 218.2,584.1 202.3,581.7 186.4,578.6 178.4,577.9 170.5,578.2 158.5,582.1 156.6,582.3 155.4,580 154.1,570 155.1,562 155,560 153.9,558 152.6,557 150.6,556.5 140.6,557 132.7,555.8 129.9,554 127.7,550 127.1,546 127.9,534 127.3,530 124.7,525 118.9,518 117.4,514 115.7,506 115.9,496 114.8,492 104.8,476.8 101.9,470 101.4,464ZM79,565.7 86.9,569.2 94.9,574.2 98.9,577.8 102.2,582 120.8,611.3 127.3,620 129.8,626 130.5,632 77,632 77,565.1Z" fill="#1eff00"/>
<path d="M108.8,452 297.1,452 300.7,486 302.1,516 303.3,528 306.6,544 311.5,558 312.7,564 311.4,566 295.8,572.5 281.9,577 269.9,582.4 265.9,583.5 248,582.8 234.1,583.6 220.2,582.9 204.3,580.6 190.4,577.7 180.4,576.6 172.5,576.6 162.5,578.2 160.3,578 158.5,576.7 156.6,572 156.2,568 156.7,560 156.1,558 154.7,556 150.6,554.6 142.6,554.9 136.1,554 132.3,552 129.8,548 129.2,544 129.7,532 127.3,526 121.5,518 119,512 117.8,506 118.3,496 117.5,492 115.4,488 107.5,476 105,470 104.8,464 108.3,452ZM407.2,563.8 411.1,563.2 417.1,563.2 435,565.7 435,632 322.5,632 321,628 317,612 317,608 318.1,602 321.8,594 321.5,592 319,588 317.5,584 316.4,570 317.4,568 319.6,567.7 329.6,568.7 343.5,571.7 356.1,576 365.4,582.1 381.3,585.8 385.3,586.1 387.3,585.8 390.3,584 391.9,582 400.3,568 403.2,565.4ZM79,567.7 86.9,571.2 92.9,574.8 96.9,578 100.9,582.7 114.7,604 120,614 126.7,622.5 128.7,627.8 129.2,632 77,632 77,567.2Z" fill="#3afe00"/>
<path d="M112.8,452 294.3,452 297.9,484 299.3,528 301.7,542 305.3,556 305.3,560 304.6,562 301.2,566 293.8,570.8 281.9,574.2 269.2,580 264,581.4 248,580.9 234.1,582.3 220.2,581.5 204.3,579.3 188.4,576 174.5,575.2 164.5,576 162.5,575.8 160.5,574.7 158.7,572 158.1,570 158.2,560 157.9,558 156.6,555.4 154.6,553.9 152.6,553.2 138.7,552.4 134.7,550.5 132.6,548 131.5,544 132,534 131.2,530 129.3,526 122.8,516 120.7,510 119.8,504 120.9,496 120.2,492 118.3,488 110.7,476 108.3,470 108,466 108.7,462 111.9,452ZM407.2,565.8 411.1,564.7 417.1,564.7 435,568 435,632 327.4,632 323.6,626.1 318.9,612 319.1,608 320.7,604 326.6,596 326.5,592 323.5,582 324.1,578 325.6,575.7 328.2,574 331.6,573.2 335.6,573.1 341.5,573.9 348.1,576 351.5,577.7 357.4,582.6 361.4,584.8 383.3,588.4 387.3,588.4 389.3,587.9 392,586 402,570 403.6,568ZM79,569.9 85,572.4 91.5,576 94.9,578.6 99.9,584 113.1,604 117.2,614 125.7,624 127.2,628 127.7,632 77,632 77,569.4Z" fill="#56fd00"/>
<path d="M116.8,452 291.5,452 295,482 296.1,532 297.6,542 301.1,556 300.9,560 300,562 296.5,566 291.8,569.2 279.9,571.9 265.9,578 256,579.1 250,578.9 236.1,580.9 218.2,580.2 206.3,578.6 186.4,574.7 176.4,574 166.5,574.2 162.5,573.3 160,570 159.4,566 159.5,558 159.1,556 157.8,554 154.6,552.1 152.6,551.5 142.6,550.9 138.8,550 135.9,548 134.7,546 134,542 134.1,532 132.4,528 125.1,516 122.4,508 122,504 123.9,496 123.8,494 122.2,490 113,474 111.6,470 111.4,466 112.2,462 115.5,452ZM409.1,567.4 413.1,566.2 417.1,566.4 435,570.6 435,632 351.6,632 345.5,629.8 331.6,629.8 329.6,628.9 327.6,627 321.6,615.1 321,610 321.6,607.9 323.6,605.1 330.3,600 331.8,598 331.8,596 329.3,588 328.8,584 329.6,580.9 331.6,578.5 335.6,576.9 339.5,577 343.4,578 347.1,580 354.7,586 359.4,588.2 371.4,588.6 385.3,590.8 389.3,590.8 391.4,590 393.9,588 405.8,570ZM423.8,602 421,606 421.2,608 423.1,608.6 425.1,608.2 428.4,606 429.8,604 430.1,602 429,600.3 427,600.2ZM77.6,572 85,574.7 90.9,577.9 94.9,581.2 98.9,585.5 112.6,606 113.3,608 114.5,616 116,618 122.7,623 124.7,625.9 126,632 77,632 77,571.8Z" fill="#72fc00"/>
<path d="M118.8,453 119,452 288.6,452 292.1,482 293,506 293.3,538 293.7,542 296.6,550 297.8,556 297.3,560 296.3,562 292.6,566 289.8,567.5 277.9,569.6 264,575.3 234.1,579.8 214.2,578.9 188.2,574 164.5,571.9 162.5,570.4 161.4,568 160.9,556 160.3,554 158.5,552 154.6,550.3 142.6,548.4 140.6,547.6 138.7,545.7 137.4,540 137,534 135.9,530 127.4,516 124.7,508 124.4,504 124.8,502 127,498 127.5,496 127.2,494 118.3,478 114.9,470 115.2,464ZM411.1,569.8 415.1,568.5 419.1,568.8 424.8,570 435,573.3 435,632 354.6,632 351.3,630 345.5,627.9 333.6,626.7 331.6,626 329.6,624 325.1,616 324,612 325.6,609.5 329.6,608.3 336,602 336.7,598 333.9,588 333.9,586 335.6,583 337.5,582 341.5,582.5 347.5,586.2 359.4,590.8 371.4,590.8 389.3,593.3 393.2,592.1 396.1,590 403.2,580.7 407.2,579 411.1,579.1 412.4,578 410,574 410,572ZM426.4,586 429,586.5 430,586 427,585.6ZM428.7,596 427,596.4 423.1,599 418.4,604 417.3,606 417.1,608 419.1,610.7 421.1,611.5 425.1,610.7 429,608.3 431.4,606 433.7,602 434.3,600 433.9,598 433,596.8 431,595.9ZM79,575.1 86.9,578.2 90,580 94.6,584 98.9,588.9 110.5,606 111.2,608 110.8,611.1 108.1,616 104.4,620 103.7,622 105.5,624 107.2,632 77,632 81.8,626 81,625.4 77,625.4 77,574.7ZM114.8,623.7 118.8,623.7 120.8,624.7 123.2,628 123.8,632 110.6,632 111.7,626 112.8,624.7Z" fill="#87fc00"/>
<path d="M122.7,452 285.7,452 288.5,478 290.5,506 290.4,540 291.5,544 294.1,550 294.9,554 294.9,558 293.8,560.8 291,564 287.8,565.6 275.9,567.4 262,573.1 254,575.1 234.1,578.7 224.2,578.8 212.2,577.7 190.4,573.5 168.5,570.8 165.7,570 163.5,568 162.8,566 162.8,556 161.7,552 158.5,549.8 145.1,546 142.9,544 138.5,530 130.8,518 128.2,512 127.2,508 127.2,504 130.1,498 130.3,494 128.7,490.4 122.3,480 118.4,470 118.7,464ZM419.1,571.7 423.1,572 433,575.6 435,577.4 434.9,580 433,580.8 431,580.9 421,578 418.2,576 417.3,574 418.3,572ZM77,578 85,580.7 90.1,584 94.9,588.9 106.8,604.6 107.9,608 105.9,612 102.2,616 93.3,622 100.9,625.2 103,628 104.3,632 80.7,632 84,628 89.7,624 88.9,623.1 86.5,622 77,622.4ZM341.5,589.9 345.5,589.3 359.4,592.8 371.4,593 389.3,595.6 395.1,594 403.2,588.8 405.2,588.2 407.2,588.2 411.1,589.6 415.2,592 417.3,594 417.8,596 415.1,602.6 414.4,606 415.4,610 417.1,612 421.1,613.4 425.1,612.7 430.3,610 435,606.1 435,632 356.8,632 354.2,630 347.5,626.9 335.6,623.4 333.5,622 332.2,620 331.8,616 337.6,604 338.8,600 339.5,593.3Z" fill="#96fb00"/>
<path d="M126.7,452 282.8,452 284,472 288.4,510 288.6,524 287.8,540 292.4,552 292.7,556 291.3,560 289.5,562 285.8,563.7 275.9,564.8 269.9,566.2 262,570.9 258,572.5 242.1,576.5 232.1,577.9 220.2,577.7 208.3,576.5 192.4,573.1 170.5,569.4 166.6,568 164.9,566 164.3,564 164.9,554 164.5,551.9 162.5,549.6 150.6,545.3 147.9,544 145.8,542 143.8,538 140.2,528 133.4,518 130.7,512 129.8,506 132.8,498 133.2,494 131.6,490 124.2,478 121.6,470 122.1,464 125.8,452ZM79,583.4 83,585.3 85.8,588 89.1,596 92.2,600 94.9,601.6 98.9,602.5 100.9,603.7 102.6,606 103,608 102.5,610 100.4,614 96.1,618 90.9,620.8 77,620.4 77,582.9ZM343.5,593.2 345.5,592.4 349.5,592.2 359.4,594.5 373.3,595.4 387.3,597.7 391.2,597.5 403.2,594.6 407.2,595.5 409.1,597.2 410.6,600 411.7,606 413.2,610 414.6,612 417.1,614 421.1,615.1 425.1,614.6 435,610.1 435,632 358.8,632 355.4,629.4 345.5,624.2 339.5,621.8 337.1,620 336,618 336,614 339.5,603.3 340.7,598 341.5,595.8ZM90.9,625.1 94.9,624.7 98.9,626 101.1,628 102.7,632 82.8,632 85,629.1Z" fill="#a4fb00"/>
<path d="M130.7,452 279.7,452 280,458 279.5,472 284,494 286.5,512 286.5,526 285.4,540 290.3,552 290.4,556 289.7,558 288.1,560 285.8,561.3 273.9,562.5 267.9,564 260.1,570 254,572.4 242.1,575.5 230.1,577.1 220.2,577 208.3,575.7 182.4,570.6 171.8,568 168.5,566.6 166.5,564.2 166,562 166.2,558 167.6,552 167,550 164.5,547.9 153.1,544 148.6,540.7 146.6,537.5 142.6,527.4 136.2,518 133.4,512 132.5,506 135.6,498 136.1,494 134.7,490 127.2,478 125.6,474 124.8,470 125,466 128.6,456 129.4,452ZM78.9,594 83.1,600 85.1,602 88.2,604 96.9,607.8 98.3,610 97.6,614 96.2,616 92.9,618.4 88.9,619.7 77,618.6 77,592.2ZM345.5,594.9 347.5,594.3 351.5,594.4 361.4,596.5 373.3,597.6 387.3,599.8 399.2,598.3 403.2,599 405.2,600.1 407.2,602.4 412.4,612 415.1,614.7 417.1,615.9 419.1,616.6 423.1,616.6 435,613.6 435,632 360.7,632 358.9,630 351.1,626 347.5,623.1 341.5,619.7 339.7,618 338.7,616 338.8,612 341.7,600 343.5,596.4ZM92.9,625.9 96.9,626.5 98.9,627.6 100.7,630 101.4,632 84.4,632 85.8,630 88.3,628Z" fill="#b2fb00"/>
<path d="M134.7,452 276.4,452 276.4,458 274.8,466 274.6,470 280.8,492 283.9,508 284.5,524 283.1,540 283.4,542 287.8,550.6 288.3,554 287.8,556.2 285.8,558.6 283.8,559.4 273.9,559.9 267.9,561.2 264,563.9 258,569.6 251.4,572 242.1,574.5 228.2,576.4 216.2,576 206.3,574.7 183.9,570 177.2,568 170.5,565.2 168.5,562.9 167.9,560 170.6,552 170.3,550 168.7,548 165.4,546 158.5,544 154.6,542.2 150.6,538.6 148.6,535.4 144.8,526 138.7,517 135.7,510 135.2,506 135.7,504 138.9,498 139.6,496 139.6,494 137.8,490 130.3,478 128.7,474 127.9,470 128.5,466 132.2,458 133,452ZM345.5,597.3 347.5,596.5 351.5,596.2 387.3,601.8 397.2,600.9 401.2,601.8 405.2,605.1 413.1,615.4 417.1,617.9 421.1,618.6 435,617.4 435,632 362.7,632 359.4,628.8 351.5,624.6 347.5,620.3 341.8,616 341.1,614 341.2,612 342.1,608 342.6,602 343.5,599.5ZM79,603.5 83.5,606 94.1,610 95.5,612 95.3,614 94,616 91.1,618 88.9,618.6 83.3,618 77,616.6 77,602.5ZM90.9,627.6 92.9,627 96.9,627.7 98.9,629.4 100.2,632 85.9,632 87.4,630Z" fill="#c1fa00"/>
<path d="M138.7,452 272.6,452 272.5,458 270.4,466 270.3,470 278.7,494 281.9,509.3 282.1,526 281,540 281.8,544 284.2,548 285.6,552 285.5,554 284.2,556 281.9,556.8 275.9,557 267.9,558.7 264,561.4 258,567.9 252,570.6 242.1,573.5 228.2,575.6 214.2,575 206.6,574 182.4,568.5 172.8,564 170.9,562 170.4,560 172.6,554 173,552 172.5,549.3 171.6,548 168.5,545.6 164.5,543.7 158.5,541.7 153.8,538 151,534 146.7,524 141.2,516 138.8,510 138.2,506 138.7,504.1 142.8,498 143.6,496 143.4,494 133.5,478 132,474 131.4,470 132.5,466 136.8,458 136.9,452ZM347.5,598.8 349.5,598.3 353.5,598.5 387.3,603.9 395.2,603.5 399.2,604.2 403.2,607.1 413.1,618.1 417.1,620.9 421.1,621.7 425.1,621.4 429,621.8 435,623.5 435,632 429.5,632 427,629.2 425.1,627.9 423.1,627.5 421.1,628.1 419.1,630 418.4,632 364.7,632 363.2,630 360.7,628 353,624 349.5,618.5 344.7,614 344.3,612 344.7,608 344.2,604 344.4,602 345.5,600ZM79,608.9 85,609.1 88.9,610.2 92.2,612 92.9,614 91.6,616 88.9,617.3 85,617 81.1,616 77,613.6 77,609ZM90.9,628.8 92.9,628 94.9,628.1 97.8,630 98.9,632 87.5,632 89.1,630Z" fill="#cefa00"/>
<path d="M142.6,452 268.1,452 268.2,456 266.7,466 266.9,470 268,474 276.2,494 279.6,510 279.2,540 279.6,544 281.3,550 280.8,552 277.9,553.5 269.9,555.4 265.9,557.1 258,565.9 254,568.4 244.1,571.9 228.2,574.6 214.2,574.2 208.3,573.4 184.5,568 176.8,564 174.6,562 173.7,560 174.9,552 173.8,548 168.5,543.9 158.5,538.5 156.1,536 153.4,532 149.7,524 144.4,516 142.5,512 141.6,508 141.6,506 146.1,498 146.7,494 144.7,490 137.9,480 136.2,476 135.4,472 136.1,468 140.1,460 141.2,452ZM349.5,601.4 355.4,601.1 387.3,606 395.2,606.2 399.2,607.6 406.2,614 412.4,622 413.3,626 412.2,632 366.8,632 363.3,628 356.1,624 353.9,622 348.6,612 347.3,604 348.2,602ZM83,611.9 86.9,611.8 89.7,614 88.9,615.1 86.9,615.9 85,615.3 82.3,614ZM92.9,629.4 95.8,630 97.3,632 89.2,632 90.9,630.2Z" fill="#dbf900"/>
<path d="M146.6,452 262.8,452 263.2,466 264.3,472 273.8,494 277,508 277.3,514 276.3,526 277.7,546 277.4,548 276.2,550 273.9,551.4 265.9,554.3 264,555.9 258,563.9 254,566.8 244.1,570.6 228.2,573.6 214.2,573.2 206.3,572.1 189.4,568 183.6,566 180.4,564 178.2,562 177,560 176.4,550 175.8,548 174.1,546 165.1,540 160.4,536 156.6,530.8 145.5,512 144.8,508 145,506 148.9,498 149.4,494 147.9,490 141.3,480 139.8,476 139.4,472 140.3,468 143.8,460 145.5,452ZM353.5,605.3 357.4,604.2 367.4,604.7 393.2,608.9 397.2,610 402.3,614 406.9,620 407.8,622 408.4,626 407.5,632 368.9,632 365.4,627.4 357.1,622 355.6,620 352.3,610 352.3,608ZM92.9,631.3 95.2,632 91.6,632Z" fill="#e8f800"/>
<path d="M150.6,452 256.7,452 261,472 264.3,480 271.4,494 274.2,504 274.8,512 273,524 276,542 275.2,546 273.9,547.9 264,552.5 262,554.7 259.5,560 258,561.9 254,565 244.1,569 228.2,572.4 214.2,572.1 208.3,571.3 188.7,566 184.4,564 182.4,562.5 180.2,560 179.2,558 177.7,548 176.5,546 167.8,540 164.2,536 150.6,516 147.9,510 148,506 151.8,498 152.3,494 150.9,490 144.6,480 143.1,474 143.6,470 147.5,460 149.7,452ZM359.4,607.6 365.4,606.8 371.4,607.2 391.2,611.2 395.2,612.6 399.7,616 401.4,618 403.4,622 404,626 402.9,632 371.1,632 367.4,626.6 359.4,620.4 357.7,618 356.5,612 357.4,609.1Z" fill="#f1f200"/>
<path d="M154.6,452 249.7,452 254.8,464 258.9,476 268.9,494 271.1,500 272.4,510 270.5,520 270.2,524 274.1,540 273.6,544 271.9,546 264,549.2 260.2,552 257.7,560 254,563 244.1,567.3 228.2,571 220.2,571.2 208.3,570 190.4,564 184.4,560.6 182,558 180.4,554.6 179.2,546 177.3,544 172.5,541.6 168.4,538 164.3,530 153.8,516 150.8,510 150.6,507.8 151.5,504 155.4,498 155.8,496 153.9,490 147.9,480 146.6,474 147.5,470ZM365.4,609.5 371.4,609.4 379.3,610.8 389.3,613.3 394.6,616 397.9,620 399.2,624 399.1,628 398,632 373.4,632 370,626 363.3,620 361.5,618 360.7,616 360.5,614 361,612 363.4,610Z" fill="#faeb00"/>
<path d="M160.5,452 242.3,452 244,458 251.2,468 256.8,482 264,490.9 267.1,496 268.7,500 269.8,506 269.7,512 267.9,522 271.9,540 271.6,542 269.9,543.7 260.6,548 257.9,550 256.8,552 256.5,558 255.2,560 247.5,564 240.1,566.6 228.2,569.6 220.2,569.9 212.2,569.4 206.7,568 190.4,561.4 184.4,557.3 182.4,554.4 181.6,552 181.1,544 178.9,542 174.5,540.6 171.1,538 166.6,528 159.8,520 155.9,514 154.1,510 154.1,506 155.2,504 159.3,500 160,498 159.9,496 158.3,492 151.3,480 150.5,478 150.3,474 154.7,462 159.4,452ZM367.4,613.1 371.4,612.3 379.3,613.3 387.3,615.5 391.2,617.9 393.1,620 394.5,624 394.2,628 392.6,632 376.4,632 371.8,624 366.8,618 365.7,616 366.1,614Z" fill="#ffe100"/>
<path d="M166.5,452 235,452 238.8,462 245.5,472 250.3,482 253.6,486 262.4,494 265.1,498 267.1,504 267.4,510 266.1,518 266,522 268.3,534 268.6,540 266.9,542 258,546.8 256,548.6 254.5,552 253.3,558 252,559.2 242.6,564 230.1,567.8 224.2,568.7 214.2,568.3 208.3,567.1 196.3,562.3 188.4,558 184.4,554.2 183,550 183.2,544 182.4,542 180.4,540.1 175.7,538 173.2,536 169.6,528 163,520 160.4,516 158.1,510 158.1,508 159,506 162.2,502 163.1,500 163.2,496 161.7,492 155,480 154.2,476 154.3,474 158.5,463.5 165.8,452ZM375.3,616.5 377.3,616.1 381.3,616.6 385.1,618 387.7,620 389.1,622 389.5,626 388.7,628 387.3,629.6 385.3,630.9 383.3,631.2 381.3,630.8 377.6,628 373.7,620 373.6,618Z" fill="#ffd200"/>
<path d="M174.5,452.9 175.6,452 227.8,452 234.9,468 242.7,480 249.6,488 258,494.4 262,498.6 263.8,502 264.8,506 264,520 266.4,532 266.3,538 264,541.1 255.6,546 253.2,550 251.3,556 248,559.1 240.1,563.1 228.2,566.9 224.2,567.4 214.2,567.1 208.3,565.7 198.3,561.6 190.4,557.4 186.3,554 184.7,550 184.9,544 184.4,542 182.4,539.3 176.1,534 172.5,528 164.6,518 162.1,512 162.4,508 166.1,500 166.2,496 164.9,492 160.6,484 159,480 158.7,474 160.5,469.1 164.5,462.7 168.5,458.1Z" fill="#ffc400"/>
<path d="M190.4,453.4 193,452 219.5,452 224.6,458 230.3,472 234.3,478 246.1,490 258,499.2 261.4,504 262.3,508 261.9,518 264.8,532 264.7,536 264,537.9 261.9,540 256,542.8 254,544.3 250,553.6 248,556.4 244.1,559.2 238.6,562 226.2,566 214.2,565.8 210.3,565 200.3,561.2 190.8,556 188.4,554 187,552 186.2,548 186.6,544 185.2,540 168.8,520 166.3,516 165.2,512 165.2,510 169.2,500 169.4,496 163.4,482 162.8,478 163.4,474 166.5,468.2 172.5,462.5 178.4,458.9Z" fill="#ffb600"/>
<path d="M206.3,455.9 212.2,456 216.2,457.6 218.2,459.1 221.6,464 225.2,474 228.2,478 234,484 243.1,492 256,502.2 258,504.1 259.6,508 259.8,518 263.2,532 262.6,536 260,538.8 252.4,542 248.8,552 245.4,556 236.1,561.3 226.2,564.7 218.2,564.9 211.2,564 200.3,559.8 190.6,554 188.9,552 188,550 188.3,542 187.4,540 182.9,534 179.4,528 171.6,520 168.5,514 168.2,510 168.7,508 172.9,500 173.4,498 172.5,494 168.4,486 167.2,482 167.1,478 168.7,474 172.5,469.9 178.4,466.3 200.3,457.6Z" fill="#ffa700"/>
<path d="M202.3,463.7 208.3,462.5 212.2,463 214.4,464 216.2,466 219.6,474 222.6,478 231.1,486 255,506 256.4,508 257.7,518 261.2,530 261.1,534 260,536 258,537.3 252,539.1 250,540.4 248,549.7 246.1,552.7 244.1,554.5 235.3,560 226.2,563.4 220.2,563.7 212.2,562.9 200.3,558.4 192.4,553.4 189.9,550 189.6,548 191,542 190.1,540 185.5,534 181.6,526 174.5,519.4 172.5,516.5 171.6,514 171.5,510 172.1,508 176.6,502 177.8,500 178.1,498 176.9,494 171.9,484 171.8,480 172.7,478 176.4,474.5 182.4,471.3Z" fill="#ff9a00"/>
<path d="M200.3,469.7 206.3,469 210.3,470.1 212.2,471.6 219.7,480 252,507.9 254,511.5 258.5,526 259.2,530 259.1,532 258.1,534 256,535.4 250,537.7 248,539.8 246.8,548 244.1,552 235.5,558 226.2,561.9 220.2,562.4 212.2,561.5 200.3,556.8 193.4,552 192.1,550 191.8,548 193.3,542 192.8,540 188.3,534 184.4,525.4 177.5,518 175.4,514 175.7,510 181.1,502 182.1,498 181.4,494 178.4,486 178.7,482 182,478 186.4,475.1 192.9,472Z" fill="#ff8d00"/>
<path d="M194.3,476 198.3,474.6 202.3,474.1 206.3,474.4 210.3,476.2 243.6,504 249.8,510 252,513.8 256.4,526 256.7,530 256,531.7 254,533.5 249.3,536 247.2,538 246.4,540 245.6,546 243.3,550 235.2,556 228.2,559.5 222.2,560.8 212.2,559.8 200.3,555 196.2,552 194.8,550 194.3,548 195.1,542 194.3,538.5 190.3,532 186.5,524 181,516 180.3,512 185.4,500 185.6,496 184.5,488 185,484 187.9,480Z" fill="#ff8000"/>
<path d="M196.3,479.7 200.3,478.6 204.3,478.6 208.3,479.9 212.2,482.3 230.1,495.7 244.1,508 249.4,514 252,519.5 254.1,526 254,528.6 253.6,530 252,531.8 246.1,536.7 245.3,538 243.7,546 240.1,550 234.1,554.3 228.2,557.5 222.2,558.9 212.7,558 202.3,554.1 199.2,552 197.5,550 196.8,548 196.7,540 195.7,536 186.2,518 185.1,514 185.7,510 189.2,500 189.1,490 189.9,486 192.4,482.4Z" fill="#ff7300"/>
<path d="M198.3,483.8 202.3,483 208.3,484.5 226.2,496 236.1,504.2 244.5,512 247.8,516 250,520.3 251.3,524 251.4,528 250.3,530 244.1,536 243.2,542 242.1,545 232.1,552.9 226.4,556 222.2,556.8 218.2,556.8 210.3,555.2 203,552 200.6,550 199.4,548 198.8,538 197.5,532 195.7,528 190.8,520 189.5,516 189.5,514 190.4,510.3 193.7,502 193.5,492 194.1,488 195.4,486Z" fill="#ff6600"/>
<path d="M200.3,490 202.3,489.1 204.3,489 207.7,490 216.2,493.9 226.2,499.6 236.1,507.6 242.8,514 246,518 248,522 248.7,526 248.2,528 242.3,534 241.2,536 241,542 240.1,543.6 230.1,551.3 226.2,553.6 220.2,554.6 214.2,554 208.4,552 205.2,550 203.4,548 202.6,546 203.3,538 202,528 201.1,526 195.4,520 194.5,518 194.3,516 196.3,511.6 202.3,506.1 203.2,504 203.2,502 199.9,494 199.7,492Z" fill="#ff5700"/>
<path d="M214.2,500.8 218.2,500.4 222.2,501.5 226.2,503.3 230.1,506 235,510 240.6,516 243.5,520 244.9,524 244.7,526 243.7,528 238.3,534 237.2,540 236,542 228.2,549.3 226.2,550.6 222.2,552 218.2,552.3 214.2,551.7 210.4,550 208.7,548 208.5,546 209.5,542 209.5,538 207.1,526 205,520 204.7,516 211.2,504 212.2,502.4Z" fill="#ff4400"/>
<path d="M216.2,507.7 218.2,506.5 222.2,506 228.2,508.2 232.1,511.1 234.9,514 237.9,518 239.5,522 238.9,526 234.9,532 232.6,538 230.5,542 227,546 224.4,548 218.2,549.8 214.2,549.1 212.5,548 211.6,546 212.9,536 210.8,522 210.7,518 212.7,512Z" fill="#ff3100"/>
<path d="M220.2,511.5 224.2,510.7 228.2,512.1 232.2,516 234,520 234.2,522 232.8,526 224.4,542 220.2,545.4 218.2,546.1 216.5,546 215.5,544 217.2,538 217.5,534 215.6,524 215.3,520 216.2,516 218.2,513.1Z" fill="#ff2200"/>
<path d="M222.2,517.1 224.2,516.2 226.2,516.6 227.7,518 228.6,520 228.5,522 227.4,524 226.2,525.4 224.2,526.1 222.2,525.4 220.5,522 220.6,520Z" fill="#ff1600"/>
<path d="M238.6,632 239.8,628 240.1,624 239.4,620 238.4,618 234.1,614.4 230.1,612.6 220.2,611.3 216.2,611.6 210.3,613.2 206.3,615.2 204.3,617.2 202.8,620 202.4,622 203.6,632" fill="none" stroke="#000" stroke-width="0.75" stroke-dasharray="3.5 2.2" stroke-linejoin="round"/>
<path d="M372.4,452 374.1,454 377.3,455.1 379.3,454.9 381.3,454.1 382.9,452M252,632 251.6,624 252,616 251.2,614 250,612.8 248,611.5 240.1,608.9 230.1,604.9 218.2,603.9 206.3,606.2 202.4,608 200,610 194.4,616 191.7,620 189.8,626 188.8,632M393.2,493.6 392.4,494 391.1,496 393.2,498.3 399.2,499.7 401.2,499.4 403.7,498 403.7,496 401.2,494.1 397.2,493.4 393.2,493.6" fill="none" stroke="#000" stroke-width="1.7" stroke-dasharray="4.5 2.5" stroke-linejoin="round"/>
<path d="M345.7,452 345.8,464 349.2,476 350.9,494 353.5,507.2 355.4,513.1 361.4,521.7 365.4,524.3 373.3,528.1 381.3,531.1 387.3,535.3 391.2,536.7 397.2,537.2 403.2,536.9 419.1,534 435,534.3M435,508.5 433,508.7 432.5,508 431,504.8 428.6,496 425.7,490 423,486 414.2,476 409.9,468 409.7,464 412.8,452M256.4,632 258,628.9 261.7,626 263.4,624 264.2,622 264,618 262.9,614 261.2,610 259.4,608 256,606.3 234.1,600.8 230.1,600.2 218.2,599.7 204.3,601 200.3,601.9 191.3,606 184.4,610.3 180.4,614 177.7,618 177.2,622 178.8,632M431,511.9 431.4,514 431,514.5 430.6,514 431,511.9" fill="none" stroke="#000" stroke-width="0.75" stroke-dasharray="3.5 2.2" stroke-linejoin="round"/>
<path d="M329.9,452 331,470 333.4,492 337.5,512 343.4,528 349.6,538 354.5,542 356.2,544 359.8,552 361.4,553.2 365.4,554.1 375,552.9M401.6,548.4 435,543.2M435,478.3 432.4,476 429.6,472 427.5,466 427.4,462 429.2,452M77,547.4 92.9,552 94.9,552.2 96.9,551.2 97.5,550 97.7,548 95.5,538 93.6,532 84.2,508 77,486.5M263.2,632 265.3,630 271.5,626 275.9,618.2 279,614 280,612 279.7,610 276.6,607.1M251.1,597.5 248,596.3 240.1,595.4 214.2,594.7 204.3,594.8 187.1,596 178.4,597 174.1,598 166.5,601.6 162.5,604.2 160.5,606 158.5,608.7 157,612 156.3,616 156.6,618.2 158.5,621.1 162.9,624 164.2,626 164.4,628 163.5,632" fill="none" stroke="#000" stroke-width="1.7" stroke-dasharray="4.5 2.5" stroke-linejoin="round"/>
<path d="M316.6,452 316.8,470 318.6,488 323,514 327.8,530 333.7,542 349.7,562 353.5,564.3 357.4,564.5 397.2,556 415.1,554.1 435,553.2M77,556 86.9,558.6 99.7,564 108.8,570.8 110.1,570 109.7,560 110.8,551.4 114.7,542 114.3,538 112.8,533.6 110.8,531.3 106.8,528.8 104.7,526 100,510 97.8,498 95.3,488 92.9,483.3 88.3,476 84.4,468 83.6,462 84.8,452M269.9,632 273.9,629 277.9,624.9 285.2,620 287.2,618 290.2,614 294.2,606 296.3,600 296.4,596 295.6,594 293.8,592.4 291.8,591.9 279.9,592.8 264,593.2 250,590.5 224.2,590.2 180.4,587.3 172.5,587.6 166.5,588.7 162.5,590.5 158.3,594 153.4,600 145.2,614 138.7,628.8 138.1,632" fill="none" stroke="#000" stroke-width="0.75" stroke-dasharray="3.5 2.2" stroke-linejoin="round"/>
<path d="M302.6,452 303.8,468 308.8,514 312.6,534 315.7,544 317.7,548 322.1,554 327.2,558.7M351.4,570.3 360.1,572 373.3,577.8 383.3,580.2 385.3,580 387.3,578.5 391.2,572 395.9,566 397.9,564 401.5,562 407.2,560.9 415.1,560.5 435,561.7M77,563.3 79.4,564 88.9,568.3 96.9,573.6 101,578 105.6,584 116.8,602 128.7,618.2 130.9,624 131.7,632M282.7,632 285.8,631.1 291.8,627.6 298.8,626 299.8,623.9 300,620 301.7,617.6 303.7,616 306.4,616 307.8,618 307.7,620 305.7,623.5 304.9,624 305.4,626 309.7,625.6 311.7,624.5 313.1,622 313.6,620 311.2,612 311,606 309.7,603.8 307.7,601.8 306,598 307.1,586 306.7,582 305.7,579.6 303.7,577.7 301.7,577.3 291.4,578.9M265.9,586.9 256,585.6 232.1,585.9 220.2,585.4 202.3,583.1 184.4,579.9 176.4,579.3 172.5,579.4 168.5,580.3 162.5,582.7 154.6,587.6 152.6,587.3 151.1,586 150.3,584 150.2,582 151.5,576 151.4,568 152.8,564 153,562 152.4,560 150.6,559 140.6,559.6 132.7,559.3 130.7,559.1 128.3,558 126.7,555.9 125.1,550 125.7,532 124.4,528 120.7,523.4M113.4,497.4 112.8,493.9 111.9,492 101.5,476 98.9,469.8 98.1,464 101.4,452" fill="none" stroke="#000" stroke-width="1.7" stroke-linejoin="round"/>
<path d="M288.6,452 290.6,466 292.1,482 293,506 293.3,538 293.7,542 296,548 297.5,554 297.8,558 297.3,560 293.8,564.9 289.8,567.5 277.9,569.6 264,575.3 238.1,579.4 232.1,579.8 214.2,578.9 202.3,577 188.2,574 176.4,572.8 166.5,572.4 164.5,571.9 162.5,570.4 161.4,568 160.9,564 160.9,556 160.3,554 158.5,552 154.6,550.3 142.6,548.4 140.6,547.6 138.8,546 137.4,540 137,534 135.9,530 127.4,516 124.7,508 124.4,504 124.8,502 127,498 127.5,496 127.2,494 118.3,478 114.9,470 114.7,468 115.2,464 119,452M77,574.7 86.9,578.2 92.9,582.4 98.9,588.9 110.5,606 111.2,608 110.8,611.1 108.1,616 104.4,620 103.7,622 105.5,624 106.2,626 106.4,630 107.2,632M77,631.8 81.8,626 81,625.4 77,625.4M110.6,632 111.3,630 111.7,626 113.8,624 116.8,623.5 119.4,624 122.1,626 123.2,628 123.8,632M354.6,632 351.3,630 345.5,627.9 335.6,627 331.6,626 329.6,624 324.3,614 324,612 325.1,610 329.6,608.3 336,602 336.7,600 336.7,598 333.9,588 333.9,586 335.6,583 337.5,582 339.5,582 341.5,582.5 347.5,586.2 359.4,590.8 371.4,590.8 389.3,593.3 393.2,592.1 396.1,590 401.2,582.7 403.2,580.7 407.2,579 411.1,579.1 412.4,578 410,574 410,572 410.9,570 413.1,568.9 417.1,568.6 421.1,569.1 435,573.3M427,585.6 426.4,586 427,586.2 429,586.5 430,586 427,585.6M429,595.8 427,596.4 423.1,599 418.4,604 417.3,606 417.1,608 418.1,610 419.1,610.7 421.1,611.5 425.1,610.7 429,608.3 431.4,606 433.7,602 434.3,600 433.9,598 433,596.8 431,595.9 429,595.8" fill="none" stroke="#000" stroke-width="0.75" stroke-linejoin="round"/>
<path d="M272.6,452 272.5,458 270.4,466 270.3,470 278.1,492 282,510 282.1,526 281,540 281.9,544 285.1,550 285.6,552 285.5,554 284.2,556 281.9,556.8 275.9,557 267.9,558.7 264,561.4 257.8,568 252,570.6 242.1,573.5 226.2,575.6 212.2,574.8 199.2,572.4M173.6,564.5 170.9,562 170.4,560 173,552 172.8,550 171.6,548 169.1,546 165.3,544 158.5,541.7 155.8,540 153.8,538 150.6,533.1 146.6,523.8 141.2,516 138.8,510 138.2,506 138.7,504 142.8,498 143.6,496 143.4,494 133.5,478 132,474 131.4,470 132.7,465.6 136.1,460 136.8,458 136.9,452M77,609 83,609 86.9,609.5 92.2,612 92.9,614 90.9,616.5 88.9,617.3 86.9,617.3 81,615.9 77,613.6M87.5,632 89.1,630 92.9,628 94.9,628.1 96.9,629.2 98.9,632M364.7,632 363.2,630 360.7,628 353,624 349.5,618.5 344.7,614 344.3,612 344.7,608 344.2,604 344.4,602 345.5,600 347.5,598.8 351.5,598.2 387.3,603.9 397.2,603.6M417.1,620.9 421.1,621.7 427,621.5 435,623.5M429.5,632 427,629.2 425.1,627.9 423.1,627.5 421.1,628.1 419.1,630 418.4,632" fill="none" stroke="#000" stroke-width="1.7" stroke-linejoin="round"/>
<path d="M242.3,452 244.1,458.2 250.1,466 251.2,468 254.9,478 256.8,482 264.7,492 268,498 269.5,504 270,508 269.7,512 268,520 268,524 271.9,540 271.6,542 269.9,543.7 260.6,548 257.9,550 256.8,552 256.5,558 255.2,560 254,560.8 244.1,565.4 240.1,566.6 230.1,569.2 224.2,570 212.2,569.4 208.3,568.5 194.3,563.2 186.4,559 184.4,557.3 182.2,554 181.3,550 181.5,546 181.1,544 178.4,541.7 174.5,540.6 171.1,538 166.5,527.9 160.5,521 155.9,514 154.1,510 154.1,506 155.2,504 159.3,500 160,498 159.9,496 158.3,492 151.3,480 150.5,478 150.3,474 154.7,462 159.4,452M376.4,632 371.8,624 366.8,618 365.7,616 366.1,614 367.4,613.1 371.4,612.3 375.3,612.6 383.3,614.2 388.4,616 391.4,618 393.2,620.3 394.5,624 394.2,628 392.6,632" fill="none" stroke="#000" stroke-width="0.75" stroke-linejoin="round"/>
<path d="M211.1,462.7 214.2,463.9 216.2,466 219.6,474 224.6,480 231.1,486 255,506 256,507.3 256.8,510 257.7,518 261.2,530 261.1,534 260,536 258,537.3 252,539.1 250,540.4 249.4,542 248.7,548 246.1,552.7 244.1,554.5 238.1,558.5 228.2,562.8 222.2,563.8 212.2,562.9 200.3,558.4 193,554 191,552 189.9,550 189.6,548 191,542 190.1,540 185.5,534 181.6,526 175,520 172.2,516 171.3,512 172.1,508 176.6,502 177.8,500 178.1,498 176.9,494 172.5,485.8 171.6,482 171.8,480 172.7,478 174.5,475.9 178.4,473.3 185.2,470" fill="none" stroke="#000" stroke-width="1.7" stroke-linejoin="round"/>
<path d="M200.3,490 202.3,489.1 204.3,489 207.7,490 216.2,493.9 226.2,499.6 236.1,507.6 242.8,514 246,518 248,522 248.7,526 248.2,528 246.6,530 242.3,534 241.2,536 241,542 240.1,543.6 230.1,551.3 226.2,553.6 220.2,554.6 214.2,554 208.4,552 205.2,550 203.4,548 202.6,546 203.3,538 202,528 201.1,526 195.4,520 194.5,518 194.3,516 196.3,511.6 202.3,506.1 203.2,504 203.2,502 199.9,494 199.7,492 200.3,490" fill="none" stroke="#000" stroke-width="0.75" stroke-linejoin="round"/>
<text x="198.3" y="469.6" font-size="9.8" text-anchor="middle" textLength="21" lengthAdjust="spacingAndGlyphs" stroke="#000" stroke-width="0.3" transform="rotate(-18 198.3 466.1)">20.0</text>
<text x="115.3" y="514.4" font-size="9.8" text-anchor="middle" textLength="21" lengthAdjust="spacingAndGlyphs" stroke="#000" stroke-width="0.3" transform="rotate(75 115.3 510.9)">0.00</text>
<text x="278.9" y="586.3" font-size="9.8" text-anchor="middle" textLength="21" lengthAdjust="spacingAndGlyphs" stroke="#000" stroke-width="0.3" transform="rotate(-20 278.9 582.8)">0.00</text>
<text x="339" y="568.8" font-size="9.8" text-anchor="middle" textLength="21" lengthAdjust="spacingAndGlyphs" stroke="#000" stroke-width="0.3" transform="rotate(25 339 565.3)">0.00</text>
<text x="186" y="572.6" font-size="9.8" text-anchor="middle" textLength="21" lengthAdjust="spacingAndGlyphs" stroke="#000" stroke-width="0.3" transform="rotate(20 186 569.1)">10.0</text>
<text x="407.2" y="615.7" font-size="9.8" text-anchor="middle" textLength="21" lengthAdjust="spacingAndGlyphs" stroke="#000" stroke-width="0.3" transform="rotate(50 407.2 612.2)">10.0</text>
<text x="264" y="603.9" font-size="9.8" text-anchor="middle" textLength="21" lengthAdjust="spacingAndGlyphs" stroke="#000" stroke-width="0.3" transform="rotate(5 264 600.4)">10.0</text>
<text x="388" y="554.5" font-size="9.8" text-anchor="middle" textLength="21" lengthAdjust="spacingAndGlyphs" stroke="#000" stroke-width="0.3" transform="rotate(-12 388 551.0)">10.0</text>
</g>
<path d="M90.0 632.0v-2.6M90.0 452.5v2.6M104.4 632.0v-5M104.4 452.5v5M118.8 632.0v-2.6M118.8 452.5v2.6M133.2 632.0v-5M133.2 452.5v5M147.6 632.0v-2.6M147.6 452.5v2.6M162.0 632.0v-5M162.0 452.5v5M176.4 632.0v-2.6M176.4 452.5v2.6M190.8 632.0v-5M190.8 452.5v5M205.3 632.0v-2.6M205.3 452.5v2.6M219.7 632.0v-5M219.7 452.5v5M234.1 632.0v-2.6M234.1 452.5v2.6M248.5 632.0v-5M248.5 452.5v5M262.9 632.0v-2.6M262.9 452.5v2.6M277.3 632.0v-5M277.3 452.5v5M291.7 632.0v-2.6M291.7 452.5v2.6M306.1 632.0v-5M306.1 452.5v5M320.5 632.0v-2.6M320.5 452.5v2.6M334.9 632.0v-5M334.9 452.5v5M349.3 632.0v-2.6M349.3 452.5v2.6M363.7 632.0v-5M363.7 452.5v5M378.1 632.0v-2.6M378.1 452.5v2.6M392.5 632.0v-5M392.5 452.5v5M406.9 632.0v-2.6M406.9 452.5v2.6M421.3 632.0v-5M421.3 452.5v5M77 623.0h2.6M435 623.0h-2.6M77 614.0h2.6M435 614.0h-2.6M77 605.1h2.6M435 605.1h-2.6M77 596.1h2.6M435 596.1h-2.6M77 587.1h5M435 587.1h-5M77 578.1h2.6M435 578.1h-2.6M77 569.2h2.6M435 569.2h-2.6M77 560.2h2.6M435 560.2h-2.6M77 551.2h2.6M435 551.2h-2.6M77 542.2h5M435 542.2h-5M77 533.3h2.6M435 533.3h-2.6M77 524.3h2.6M435 524.3h-2.6M77 515.3h2.6M435 515.3h-2.6M77 506.4h2.6M435 506.4h-2.6M77 497.4h5M435 497.4h-5M77 488.4h2.6M435 488.4h-2.6M77 479.4h2.6M435 479.4h-2.6M77 470.4h2.6M435 470.4h-2.6M77 461.5h2.6M435 461.5h-2.6" stroke="#000" stroke-width="1.2" fill="none"/>
<rect x="77" y="452.5" width="358" height="179.5" fill="none" stroke="#000" stroke-width="1.6"/>
<text x="104.1" y="644.4" font-size="10.8" text-anchor="middle" fill="#000" stroke="#000" stroke-width="0.22" textLength="5.8" lengthAdjust="spacingAndGlyphs">4</text>
<text x="132.9" y="644.4" font-size="10.8" text-anchor="middle" fill="#000" stroke="#000" stroke-width="0.22" textLength="5.8" lengthAdjust="spacingAndGlyphs">8</text>
<text x="161.7" y="644.4" font-size="10.8" text-anchor="middle" fill="#000" stroke="#000" stroke-width="0.22" textLength="11.6" lengthAdjust="spacingAndGlyphs">12</text>
<text x="190.5" y="644.4" font-size="10.8" text-anchor="middle" fill="#000" stroke="#000" stroke-width="0.22" textLength="11.6" lengthAdjust="spacingAndGlyphs">16</text>
<text x="219.4" y="644.4" font-size="10.8" text-anchor="middle" fill="#000" stroke="#000" stroke-width="0.22" textLength="11.6" lengthAdjust="spacingAndGlyphs">20</text>
<text x="248.2" y="644.4" font-size="10.8" text-anchor="middle" fill="#000" stroke="#000" stroke-width="0.22" textLength="11.6" lengthAdjust="spacingAndGlyphs">24</text>
<text x="277.0" y="644.4" font-size="10.8" text-anchor="middle" fill="#000" stroke="#000" stroke-width="0.22" textLength="11.6" lengthAdjust="spacingAndGlyphs">28</text>
<text x="305.8" y="644.4" font-size="10.8" text-anchor="middle" fill="#000" stroke="#000" stroke-width="0.22" textLength="11.6" lengthAdjust="spacingAndGlyphs">32</text>
<text x="334.6" y="644.4" font-size="10.8" text-anchor="middle" fill="#000" stroke="#000" stroke-width="0.22" textLength="11.6" lengthAdjust="spacingAndGlyphs">36</text>
<text x="363.4" y="644.4" font-size="10.8" text-anchor="middle" fill="#000" stroke="#000" stroke-width="0.22" textLength="11.6" lengthAdjust="spacingAndGlyphs">40</text>
<text x="392.2" y="644.4" font-size="10.8" text-anchor="middle" fill="#000" stroke="#000" stroke-width="0.22" textLength="11.6" lengthAdjust="spacingAndGlyphs">44</text>
<text x="421.0" y="644.4" font-size="10.8" text-anchor="middle" fill="#000" stroke="#000" stroke-width="0.22" textLength="11.6" lengthAdjust="spacingAndGlyphs">48</text>
<text x="71.6" y="590.6" font-size="10.8" text-anchor="end" fill="#000" stroke="#000" stroke-width="0.22" textLength="5.8" lengthAdjust="spacingAndGlyphs">5</text>
<text x="71.6" y="545.8" font-size="10.8" text-anchor="end" fill="#000" stroke="#000" stroke-width="0.22" textLength="11.6" lengthAdjust="spacingAndGlyphs">10</text>
<text x="71.6" y="500.9" font-size="10.8" text-anchor="end" fill="#000" stroke="#000" stroke-width="0.22" textLength="11.6" lengthAdjust="spacingAndGlyphs">15</text>
<text x="27" y="650.8" font-size="10" text-anchor="start" fill="#000" stroke="#000" stroke-width="0.15" textLength="54" lengthAdjust="spacingAndGlyphs">(×1000 m)</text>
<text x="443" y="657.3" font-size="10" text-anchor="end" fill="#000" stroke="#000" stroke-width="0.15" textLength="54" lengthAdjust="spacingAndGlyphs">(×1000 m)</text>
<text x="213" y="673.75" font-size="14" text-anchor="start" fill="#000" textLength="86.5" lengthAdjust="spacingAndGlyphs">X-coordinate</text>
<text x="51.2" y="542.5" font-size="14" text-anchor="middle" fill="#000" textLength="86.5" lengthAdjust="spacingAndGlyphs" transform="rotate(-90 51.2 542.5)">Z-coordinate</text>
<text x="201.1" y="427.8" font-size="15.5" text-anchor="start" fill="#000" textLength="41.4" lengthAdjust="spacingAndGlyphs">zonal</text>
<text x="252.2" y="427.8" font-size="15.5" text-anchor="start" fill="#000" textLength="58.3" lengthAdjust="spacingAndGlyphs">velocity</text>
<linearGradient id="cb77_452" x1="0" x2="1" y1="0" y2="0"><stop offset="0.0000" stop-color="#8000a0"/><stop offset="0.0625" stop-color="#2000c0"/><stop offset="0.1250" stop-color="#0010f0"/><stop offset="0.1875" stop-color="#0050ff"/><stop offset="0.2500" stop-color="#0098ff"/><stop offset="0.2812" stop-color="#00b8ff"/><stop offset="0.3125" stop-color="#00e0ff"/><stop offset="0.3438" stop-color="#00fff8"/><stop offset="0.3750" stop-color="#00ffd0"/><stop offset="0.4375" stop-color="#00ff70"/><stop offset="0.4875" stop-color="#00ff10"/><stop offset="0.5125" stop-color="#10ff00"/><stop offset="0.5625" stop-color="#80fc00"/><stop offset="0.6250" stop-color="#c8fa00"/><stop offset="0.6562" stop-color="#e8f800"/><stop offset="0.6875" stop-color="#ffe800"/><stop offset="0.7188" stop-color="#ffc400"/><stop offset="0.7500" stop-color="#ffa000"/><stop offset="0.7812" stop-color="#ff8000"/><stop offset="0.8125" stop-color="#ff6000"/><stop offset="0.8500" stop-color="#ff2800"/><stop offset="0.8750" stop-color="#ff1000"/><stop offset="0.9375" stop-color="#e80000"/><stop offset="1.0000" stop-color="#f08080"/></linearGradient>
<rect x="178.4" y="708.8" width="155" height="10.6" fill="url(#cb77_452)"/>
<path d="M178.40 708.8v10.6M180.34 708.8v10.6M182.28 708.8v10.6M184.21 708.8v10.6M186.15 708.8v10.6M188.09 708.8v10.6M190.03 708.8v10.6M191.96 708.8v10.6M193.90 708.8v10.6M195.84 708.8v10.6M197.78 708.8v10.6M199.71 708.8v10.6M201.65 708.8v10.6M203.59 708.8v10.6M205.53 708.8v10.6M207.46 708.8v10.6M209.40 708.8v10.6M211.34 708.8v10.6M213.28 708.8v10.6M215.21 708.8v10.6M217.15 708.8v10.6M219.09 708.8v10.6M221.03 708.8v10.6M222.96 708.8v10.6M224.90 708.8v10.6M226.84 708.8v10.6M228.78 708.8v10.6M230.71 708.8v10.6M232.65 708.8v10.6M234.59 708.8v10.6M236.53 708.8v10.6M238.46 708.8v10.6M240.40 708.8v10.6M242.34 708.8v10.6M244.28 708.8v10.6M246.21 708.8v10.6M248.15 708.8v10.6M250.09 708.8v10.6M252.03 708.8v10.6M253.96 708.8v10.6M255.90 708.8v10.6M257.84 708.8v10.6M259.77 708.8v10.6M261.71 708.8v10.6M263.65 708.8v10.6M265.59 708.8v10.6M267.52 708.8v10.6M269.46 708.8v10.6M271.40 708.8v10.6M273.34 708.8v10.6M275.27 708.8v10.6M277.21 708.8v10.6M279.15 708.8v10.6M281.09 708.8v10.6M283.02 708.8v10.6M284.96 708.8v10.6M286.90 708.8v10.6M288.84 708.8v10.6M290.77 708.8v10.6M292.71 708.8v10.6M294.65 708.8v10.6M296.59 708.8v10.6M298.52 708.8v10.6M300.46 708.8v10.6M302.40 708.8v10.6M304.34 708.8v10.6M306.27 708.8v10.6M308.21 708.8v10.6M310.15 708.8v10.6M312.09 708.8v10.6M314.02 708.8v10.6M315.96 708.8v10.6M317.90 708.8v10.6M319.84 708.8v10.6M321.77 708.8v10.6M323.71 708.8v10.6M325.65 708.8v10.6M327.59 708.8v10.6M329.52 708.8v10.6M331.46 708.8v10.6M333.40 708.8v10.6" stroke="#000" stroke-width="0.85" fill="none"/>
<rect x="178.4" y="708.8" width="155" height="10.6" fill="none" stroke="#000" stroke-width="0.9"/>
<text x="194.7" y="730.9" font-size="10.8" text-anchor="middle" fill="#000" stroke="#000" stroke-width="0.22" textLength="17.6" lengthAdjust="spacingAndGlyphs">-32</text>
<text x="225.5" y="730.9" font-size="10.8" text-anchor="middle" fill="#000" stroke="#000" stroke-width="0.22" textLength="17.6" lengthAdjust="spacingAndGlyphs">-16</text>
<text x="256.2" y="730.9" font-size="10.8" text-anchor="middle" fill="#000" stroke="#000" stroke-width="0.22" textLength="5.8" lengthAdjust="spacingAndGlyphs">0</text>
<text x="286.9" y="730.9" font-size="10.8" text-anchor="middle" fill="#000" stroke="#000" stroke-width="0.22" textLength="11.6" lengthAdjust="spacingAndGlyphs">16</text>
<text x="317.7" y="730.9" font-size="10.8" text-anchor="middle" fill="#000" stroke="#000" stroke-width="0.22" textLength="11.6" lengthAdjust="spacingAndGlyphs">32</text>
<text x="172.7" y="700.3" font-size="11.5" text-anchor="start" fill="#000" stroke="#000" stroke-width="0.15" textLength="45.3" lengthAdjust="spacingAndGlyphs">CONTOUR</text>
<text x="223.3" y="700.3" font-size="11.5" text-anchor="start" fill="#000" stroke="#000" stroke-width="0.15" textLength="43.5" lengthAdjust="spacingAndGlyphs">INTERVAL</text>
<text x="272" y="700.3" font-size="11.5" text-anchor="start" fill="#000" stroke="#000" stroke-width="0.15" textLength="6.6" lengthAdjust="spacingAndGlyphs">=</text>
<text x="286" y="700.3" font-size="11.5" text-anchor="start" fill="#000" stroke="#000" stroke-width="0.15" textLength="53.8" lengthAdjust="spacingAndGlyphs">5.000E+00</text>
<text x="358.3" y="714.6" font-size="10.5" text-anchor="start" fill="#8c8c8c" textLength="55.3" lengthAdjust="spacingAndGlyphs">t=615000 s</text>
<text x="14" y="738.5" font-size="5.5" text-anchor="start" fill="#000" textLength="46" lengthAdjust="spacingAndGlyphs">/usr/bin/gpview</text>
<text x="65" y="738.5" font-size="5.5" text-anchor="start" fill="#000" textLength="35" lengthAdjust="spacingAndGlyphs">2008-12-21</text>
<text x="330.5" y="738.5" font-size="5.5" text-anchor="start" fill="#000" textLength="155.0" lengthAdjust="spacingAndGlyphs">MarsCond._VelX.nc@VelX,x=0:50000,z=0:20000,t=615000</text>
</g>
<g id="panel4">
<clipPath id="clip3"><rect x="589" y="452.5" width="358" height="179.5"/></clipPath>
<g clip-path="url(#clip3)" shape-rendering="geometricPrecision">
<rect x="589" y="452.0" width="358" height="180" fill="#009eff"/>
<path d="M591,452 947,452 947,632 589,632 589,452ZM795.3,554 795.8,556 796.6,556 796.3,554 795.8,553.4Z" fill="#00abff"/>
<path d="M591,452 947,452 947,632 589,632 589,452ZM791.5,550 791.4,554 793.9,558.7 795.8,560.6 797.8,561.3 799.8,560.9 801.2,558 800.9,556 799.8,552.9 797.9,550 795.8,548.5 793.9,548.2Z" fill="#00b8ff"/>
<path d="M591,452 947,452 947,632 589,632 589,452ZM790.3,546 789,548 788.6,552 790.9,558 793.9,561.7 795.8,563.2 799.8,564.4 801.8,563.7 803,562 803.5,558 802.5,554 799.8,548.9 795.8,545.3 793.9,544.7 791.9,545ZM769.4,568 768.2,570 768.2,574 770,576.6 772,577.4 774,577.2 775.5,576 776.5,574 776,570 774,567.6 772,566.9Z" fill="#00c8ff"/>
<path d="M591,452 947,452 947,632 589,632 589,452ZM788.2,542 786.5,544 785.5,548 786.6,554 788.6,558 791.9,562.5 795.8,566.1 799.8,568.1 803.8,568.4 805.8,565.7 806.2,560 804.6,554 801.8,548.1 797.8,542.7 795.8,541.1 791.9,540.5ZM767.9,564 766,566.8 765.1,570 765.1,574 766,577.2 768,580.2 770,581.5 772,581.8 776,581 777.9,579.4 779.5,576 779.6,574 778.6,570 776.1,566 774,564.1 772,563.1 770,562.9Z" fill="#00d8ff"/>
<path d="M591,452 947,452 947,632 589,632 589,452ZM793,526 791.9,532 789.9,534 785.9,535.4 781.6,536 779.9,536.9 778.3,540 777.8,542 778,544 779.9,546.9 784.3,556 791.9,566.3 799.8,574.5 803.8,577.6 805.8,578.2 807.8,577.7 809.1,576 810.4,572 810.5,568 809.2,560 798.5,534 796.4,526 795.8,525.4 793.9,524.9ZM766.7,556 764,561.4 762.3,570 762.6,576 764,581.1 766,584.1 770,586.7 779.9,585.9 782.1,584 783.3,580 783.5,576 782.5,572 778.3,564 772,556 770,554.5 768,554.7Z" fill="#00e6fe"/>
<path d="M591,452 947,452 947,632 589,632 589,452ZM789.5,522 783.9,529 777.9,532.8 774.4,536 764,550.2 761.3,556 760.4,560 759.4,570 760.2,580 762.6,586 764.3,588 768,590.4 783.9,593.3 787.9,593.2 795.8,591.4 799.8,589.8 803.8,586.7 809.8,580.7 812.3,576 813.8,570 814.3,562 813.1,558 809.6,552 806.8,544 806.4,540 806.8,532 805.6,528 802.3,524 799.6,522 795.8,520.4 791.9,520.5Z" fill="#00f3fb"/>
<path d="M591,452 947,452 947,632 589,632 589,452ZM789.5,518 786.9,520 781.9,526.1 772.2,534 762,546.6 760,550 758.1,555.2 756.6,566 756.4,574 757,580 758.7,586 761.3,590 766,593 783.9,598.8 791.9,597.9 798.3,596 801.8,594.3 805.8,590.2 812.8,580 817.7,566.3 821.6,560 823.1,556 823.3,554 822.5,552 817.7,548.6 815.8,546 815.3,544 815.7,540 817.7,536.1 819.7,534.2 823.7,531.9 827.7,530.8 829.7,531.7 832.9,536 834.1,538 834.3,540 830.6,546 829.5,550 830.2,552 832.5,554 839.6,557.7 841.6,558.2 843.6,557.8 845.6,555.9 847,550 846.6,546 842.8,538 842.2,528 841.3,526 839.6,524.9 835.6,524.1 827.7,524.9 821.7,522.9 813.7,523.1 807.8,521.7 795.8,517.6 791.9,517.3Z" fill="#00fff8"/>
<path d="M591,452 947,452 947,632 589,632 589,452ZM786.4,516 779.9,524.2 770.4,532 758.7,546 754.9,556 753.5,570 753.8,578 754.9,584 756.2,588 758.6,592 762,594.7 772,597.8 779.9,602.7 783.9,603.3 789.9,602.1 801.6,598 803.8,596.6 811.8,585.8 815,580 819.7,568.6 823.7,564.1 825.7,562.7 829.7,561.6 833.6,562.2 841.6,564.5 847.6,564.1 850,562 851.2,560 852.2,554 851.6,546 847.1,526 845,522 841.6,519.2 833.6,515.8 827.7,514.7 821.7,514.9 807.8,517.1 801.8,516.5 791.9,514.1 787.9,514.9Z" fill="#00ffe8"/>
<path d="M591,452 947,452 947,632 589,632 589,452ZM824.1,508 815.7,509.5 807.8,512.6 803.8,513.6 799.8,513.3 791.9,510.1 787.9,509.5 785.9,510.7 783.9,513.2 778.5,522 776.7,524 770,528.7 757.8,542 756.1,544.9 752.3,556 750.8,572 751.7,582 753.3,588 754.9,592 758.2,596 762,598.2 770,600 776,605.2 777.9,606.2 781.9,607 785.9,606.5 801.8,600.5 805.6,598 815,584 821.7,570.3 823.7,568 825.7,566.8 829.7,566.1 839.6,570.1 849.5,571.7 855.5,571.8 857.3,570 858,564 856.1,550 852.7,532 849.5,521 845.6,516.6 835.6,509.7 829.7,507.8ZM857.1,578 855.3,584 855.6,588 856.3,590 861.5,596.8 863.5,598.7 865.5,599.4 867.4,596.2 867.6,594 867.2,590 865.5,584.1 863.5,580.8 859.5,576.9 857.5,577.1Z" fill="#00ffd8"/>
<path d="M591,452 947,452 947,632 589,632 589,452ZM808.6,498 804,508 801.8,509.5 799.8,509.3 797.8,508.2 789.9,502.1 787.9,501.6 785.9,502.1 783.9,504.3 780.8,512 776,520.9 774,522.9 768.9,526 766.7,528 754.5,542 750,556 748.4,570 749.6,584 751.2,590 752.9,594 756,598 758.1,599.5 762,601.5 768,602.8 769.9,604 771.3,606 774,608.1 779.9,609.9 785.9,609.3 803.4,602 805.8,600.4 818.8,582 823.7,573.9 825.7,571.8 827.7,571.8 829.8,586 831.9,590 833.6,591.2 835.6,591.1 837.6,590.1 842,586 845.5,580 847.6,580.9 852.7,590 861.8,602 865.5,610.9 869.4,596.2 869.2,590 864.9,566 860.5,552 857.9,540 857.3,534 853.5,517.6 851.5,514.8 845.6,509.6 844.8,508 844.4,502 843.6,499.3 841.6,498.6 837.6,499.6 835.6,499.5 827.7,498.2 819.7,500.3 817.7,499.7 811.8,496.1 809.8,496.6Z" fill="#00ffc6"/>
<path d="M591,452 947,452 947,632 589,632 589,452ZM809.7,490 805.8,491.7 797.8,496.9 787.9,497.3 783.9,499.1 781.5,502 777.5,512 774,518.4 772,520.4 764.2,526 754.1,538.2 752.1,542 748.2,554 746.2,570 747.3,584 750,594 754.1,599.7 758.1,602.6 766,606 774,610.9 779.9,612.3 783.9,612.2 793.9,608.7 805.8,602.4 817.7,586.7 821.7,583.8 823.7,583.8 825.7,585.2 830.4,592 831.6,593.2 833.6,594 835.6,593.7 843.6,589.1 845.6,588.7 847.6,589 849.5,590.3 854.7,596 859,602 863.3,614 865.5,615.8 867.7,614 870.7,596 869.8,570 868.7,562 864.5,550 862.6,542 858.9,518 857.5,513.5 854.5,508 850.2,498 848.7,496 845.6,493.5 839.6,491.8 813.7,489.7Z" fill="#00ffb3"/>
<path d="M591,452 947,452 947,632 589,632 589,452ZM807.7,486 795.8,492.2 785.9,494.5 781.9,496.8 779.5,500 775.2,510 772,515.3 769.1,518 760.4,524 756.7,528 754.1,532 751.4,538 746.1,554 744.8,562 744.1,572 744.6,580 746.1,589.7 748.1,595.4 752.1,601.2 758.1,605.5 774,613.3 777.9,614.3 781.9,614.6 785.9,613.9 791.9,611.9 803.8,605.8 807.8,602.4 815.7,591.2 819.7,587.7 821.7,587.1 823.7,587.6 825.7,589.1 829.7,594.4 831.6,595.9 833.6,596.4 835.6,595.9 841.6,592.4 845.6,591.4 849.5,593.1 855.4,600 857.7,604 861.5,613.8 862.8,616 865.5,617.7 867.4,617.1 869.4,613 871.7,598 871.9,584 873.1,576 873.2,570 871.9,558 866.8,542 863.6,516 860.1,506 855.7,498 852.5,494 847.6,490.2 843.6,488.3 837.6,486.7 829.7,485.7 813.7,485.1Z" fill="#00ffa0"/>
<path d="M591,452 947,452 947,632 589,632 589,452ZM806,482 793.9,489 781.9,492.7 779.9,494.3 777.9,497 774,506.3 770,512.1 766,515.2 756.1,520.2 752.1,524.4 750.1,529.3 748.1,542 744,554 743,560 742.3,570 742.4,578 744,590 745.9,596 750.1,602.6 756.1,607.3 774,615.5 777.9,616.6 781.9,616.8 785.9,616.1 793.9,613.3 803.8,608 808.1,604 815.7,593.4 819.7,590 821.7,589.6 823.7,590.2 825.7,592.1 829.7,597.7 831.6,599 833.6,599.2 841.6,594.4 845.6,593.4 847.6,594.1 849.5,595.6 853.1,600 856.6,606 860.1,614 862.7,618 865.5,619.6 867.4,619.2 869.4,617 870.5,614 872.8,598 873.4,584.7 875.8,578 876.4,574 875.5,556 870.9,542 868.8,518 867.6,512 865.5,505.7 861.2,498 856.1,492 849.5,487 843.6,484 835.6,481.8 829.7,480.9 811.8,480.9Z" fill="#00ff8d"/>
<path d="M591,452 947,452 947,632 589,632 589,452ZM803,478 792.1,486 787.9,487.3 781.9,488.2 778.7,490 775.8,494 771.9,504 770,506.7 766,509.9 760,511.4 752.1,510.8 750.1,511.1 748.1,512.4 747.2,514 745.9,518 744.9,526 745.1,532 746.3,540 741.5,556 740.4,572 740.5,578 741.5,588 742.8,594 744.3,598 748.1,604.2 754.1,609.2 766,614.9 776,618.6 779.9,619.1 783.9,618.8 787.9,617.8 795.8,614.9 801.8,611.6 807.8,606.4 815.7,595.7 819.7,592.1 821.7,591.8 823.7,592.9 827.7,599.9 829.7,602.6 831.6,604 833.6,603.9 841.6,596.3 843.6,595.5 845.6,595.4 847.6,596.3 851.5,601.2 861.5,619 863.5,621 865.5,621.8 867.4,621.5 869.4,619.9 871.3,616 874.2,598 874.9,586 875.6,584 878.7,580 879.4,576 878.5,566 878.8,554 877.9,550 874.7,542 874.4,528 873.4,518.2 871.7,510 869.4,503.3 865.2,496 860.4,490 849.5,482.1 845.6,480 835.6,477 829.7,476.1 819.7,476.9 807.8,476.5Z" fill="#00ff7a"/>
<path d="M591,452 947,452 947,632 589,632 589,452ZM801.8,472 797.8,475 791.9,481.3 789.9,482.5 785.9,483.2 781.9,482.1 779.9,482.1 776.9,484 773.8,488 768,500.4 766,502.6 764,503.2 762,502.7 755.5,496 752.1,494.8 750.1,494.8 748.1,495.6 746.1,497.3 742.1,503.1 740.4,510 740.3,520 741.3,534 742.8,540 739.5,556 738.6,576 740.2,591.9 742.8,600 744.8,604 747.7,608 754.1,612.7 760,615.6 774,620.7 779.9,621.6 787.9,620.4 795.8,617.5 801.8,614 806.6,610 817.7,596.1 819.7,594.6 821.7,594.5 823,596 825.7,602.5 830.7,612 831.6,613.3 833.6,613.7 835.6,612 836.7,610 840.8,600 843.6,597.8 845.6,597.8 847.6,599.6 853.5,608 861.5,621.9 863.5,623.8 865.5,624.7 867.4,624.4 870.3,622 872.5,618 875.4,601.2 877.4,593.1 879.4,595.2 883.1,608 883.5,612 885.3,614 886.2,612 885.3,594.7 883,584 880.9,568 881.8,556 881.5,550 878.7,542 878.6,528 877.8,520 876.5,512 873.4,501.7 871.4,497.7 864,486 861.5,484 857.5,482.1 855.5,480.2 851.5,473.9 849.5,473.4 843.6,473.8 833.6,471.3 829.7,470.9 819.7,472.6 805.8,470.9ZM612.2,618 612,620 612.9,623.7 614.9,623.1 615,618 612.9,616.9Z" fill="#00ff64"/>
<path d="M591,452 947,452 947,632 589,632 589,452ZM802.5,466 797.3,468 787.9,474.6 777.9,477.1 774,480 766,487.9 762,489.2 752.1,488.3 746.1,489.1 742.1,491.6 739.3,496 737.4,502 736.3,512 739.2,544 737.4,558 736.9,576 738.3,592 739.7,598 741.8,604 744.1,608.7 746.1,611.4 750.1,614.7 754.1,617 762,620.3 772,623.3 776,624.2 779.9,624.4 789.9,623 793.9,621.6 797.8,619.5 805.8,613.1 815.7,601.5 817.7,599.8 819.7,599.1 821.7,600.8 829.7,616.5 831.6,617.3 833.6,617 835.6,615.9 839.3,612 843.6,604.9 845.6,604.2 849.5,607.2 853.5,611.9 861.5,626.5 863.5,627.9 865.5,628.2 867.4,627.7 871.8,624 874.5,620 875.4,617.3 877.4,614 881.4,617.6 883.4,618.4 885.3,618.2 887.7,616 888.5,612 887.3,597.5 883.2,570 883,566 884.5,550 882.6,540 881.8,522 879.9,510 876.9,500 867.4,480.9 860.3,472 855.5,468.4 851.5,467.2 841.6,467.2 831.6,466.2 819.7,467.7 805.8,465.7ZM611.9,614 610.9,615.3 610.1,618 610.4,624 610.9,625.8 612.9,628.2 614.9,628.6 616.8,627.4 617.7,626 618.6,622 618.6,618 616.9,614 614.9,612.8 612.9,613Z" fill="#00ff4c"/>
<path d="M591,452 947,452 947,632 867.9,632 877.4,623.1 879.4,622.5 885.3,623 888,620 889.3,617.3 889.9,614 885.2,570 885.1,566 887.4,548 885.1,518 883.7,510 881.6,502 876,488 871.4,473.5 869.4,469.3 865.9,466 861.5,464.1 855.5,462.7 847.6,461.7 835.6,461.3 817.7,462.4 803.8,460.6 795.8,462 779.9,469.1 776,471.6 768,479.4 764,481.9 760,482.8 748.1,482.6 742.1,483.6 738.2,485.7 735.2,490 733.7,496 733,512 733.6,520 736.9,542 735.6,558 735.3,578 736.8,594 740.2,607.6 742.9,614 746,618 750.1,620.9 754.1,622.6 764,625.6 774,627.6 791.9,627.2 793.9,626.8 795.8,625.5 805.8,615.7 813.7,606 817.7,603.6 819.7,604 821.7,605.8 823.7,609.1 827.7,619.7 829.7,620.6 831.6,620.3 835.6,618.4 843.6,611.9 845.6,610.9 847.6,610.8 849.5,611.7 851.5,613.4 854.7,618 856.2,622 857.7,628 860.2,632 617.4,632 618.8,630.2 620.5,626 621.1,618 619.9,614 616.8,610.8 614.9,609.8 612.9,609.9 610.9,611.9 608.8,618 608.7,622 609.2,626 610.9,630 612.5,632 589,632 589,452Z" fill="#00ff34"/>
<path d="M591,452 731.2,452 730.2,454.5 730,458 733.8,468 733.4,470 730.2,476.9 728.6,482 727.9,486 727.7,492 729.4,504 730,516 734.8,542 733.9,556 733.8,578 734.8,592 736.2,601.8 739.6,618 742.9,624 746.1,626.7 750.1,628.5 764.6,632 621.6,632 623,624 622.8,615.4 621,612 618.8,609.8 614.9,606.9 612.9,606.7 610.9,608.5 610.2,610 608.9,613.4 608,618 607.9,626 609.1,632 589,632 589,452ZM748.1,452.4 748.2,452 947,452 947,632 889.7,632 891.1,612 888.3,588 887,570 887.4,564 889.8,552 890.5,546 889.2,522 888.3,514 886.6,506 879.8,484 877.3,464 874.8,460 871.4,458 867.4,457.2 855.5,457.1 837.6,455.9 819.7,457.1 803.8,454.9 795.8,455.1 783.9,457.5 770,458.9 768.1,460 767.8,468 766,472.7 764,474.8 762,475.6 758.1,475.9 745.5,474 739.5,470 738.4,468 738.6,466 739.7,464 746.6,456 747.9,454ZM926.5,612 925.1,613.2 924.3,616 924.1,618 925.1,620 927.1,619.8 929.1,618 929.8,616 929.9,614 929.1,611.4 927.1,611.4ZM815.7,607.1 817.7,606.7 819.7,607.5 821.8,610 823.2,614 823.4,620 821.1,628 821.1,632 794.9,632 797.8,629.3 800.9,624 807.8,616.4 812.5,610ZM843.6,615.4 847.6,614.9 849.5,615.9 851.6,618 853.4,622 854.8,632 825.9,632 829.2,626 831,624Z" fill="#00ff1c"/>
<path d="M591,452 719.7,452 719.2,460 719.8,488 724.2,504.1 732.6,542 732.1,550 732.3,570 733.5,596 736.2,622 738.2,628 740.2,632 624.7,632 625.2,620 624.4,614 622.8,611.4 616.8,605.2 614.9,603.5 612.9,602.8 610.9,604.4 608.3,612 606.7,622 606.8,632 589,632 589,452ZM881.4,452 947,452 947,632 893.9,632 892.8,624 892.1,610 889.3,588 888.7,574 889.7,562 894.1,546 894.2,536 891.9,512 885,482 883.3,460 882.2,456 879.9,452ZM927.5,604 925.1,607.2 923.1,611.5 920.8,620 921.7,626 923.1,628.7 925.1,630 927.1,629.7 929.1,628 930.4,626 932.6,620 933.3,616 933.5,610 932.3,606 931.1,604.3 929.1,603.3ZM815.7,609.8 817.7,609.6 819.7,611.1 820.8,614 820.9,616 816.9,632 800,632 803.6,624 809.4,618 813.2,612ZM845.6,618 847.6,618.6 849.2,620 850.4,622 851.3,626 851.5,632 830,632 831.6,628 834.4,624 841.6,618.8Z" fill="#04ff0c"/>
<path d="M591,452 712.9,452 713,468 712.3,482 712.6,488 725.7,524 728.6,534 730.2,542 730,550 733.1,632 689.6,632 686.5,631.2 683.4,632 666.8,632 664.6,624.9 662.6,623.3 660.6,623.6 658.6,625.5 657.4,632 627.9,632 627.2,620 626.1,614 624.8,611.4 616.8,601.4 614.9,599 612.9,598 610.9,599 608.9,604.2 606,620 604.7,632 589,632 589,452ZM889.3,452 947,452 947,632 934.1,632 935.5,612 935.4,606 933.1,600.9 931.1,599 929.1,598.5 927.1,599.4 925.1,602.6 923.1,607.9 919.1,620 917.3,632 897.4,632 894.8,622 891.3,595.4 890.5,588 890.3,574 891.1,566 892.5,560 900.2,542 898,528 896.4,512 889.6,472ZM815.7,613.8 816.4,614 817.2,616 815.8,620 815.9,628 814.6,632 803,632 803.8,628 805.8,624.3 807.8,622.3 811.8,620 813.6,618ZM841.6,621.1 843.6,620.7 845.6,621 847.6,622.8 848.8,626 849,632 832.8,632 835.3,626 837.6,623.5Z" fill="#0cff04"/>
<path d="M595,453.5 596.7,452 706.8,452 708.3,462 707.6,468 705.1,478 705.5,484 708.1,492 723.2,526 725.8,534 727.6,544 730,576 729.8,610 730.5,620 729.8,626 727.1,632 694.6,632 690.4,629.8 686.5,628.9 682.5,629.8 678.5,631.6 674.5,632 672.5,631.3 670.5,629.6 666.6,621.9 664.6,620.3 662.6,620 658.6,621.5 656,624 651,632 632,632 628.9,618 626.8,612 616.8,597.4 612.9,593.6 610.9,593.3 608.9,596 606,616 604.1,626 602.3,632 589,632 589,455.9 593,454.7ZM897.3,452 947,452 947,632 939.3,632 937.4,626 936.7,622 937.5,606 937.2,602 935.1,593.9 933.1,589.8 929.1,592.5 925.1,597.9 920.3,614 917.2,622.3 915.2,626.5 911,632 901,632 897.3,622.8 895.3,614 892,590 891.7,582 892.2,572 893.3,565.9 895.3,559.9 901.3,550.8 905.8,546 907.1,544 907.9,540 907.2,536 903.7,528 902.6,524 900.4,502 899.5,486 895.1,468 894.7,462 895.1,458 896.7,452ZM809.8,623.5 811.8,623.3 813.7,625 814.2,628 813.6,630 812.5,632 805.8,632 805.8,628 806.7,626ZM841.6,623.3 843.6,623.3 845.6,624.6 846.9,628 846.8,632 835.4,632 836.5,628 837.6,626.1 839.6,624.3Z" fill="#1eff00"/>
<path d="M678.5,453.4 679.6,452 696.8,452 700.4,455.9 702.5,460 702.8,462 702.4,464.6 700.4,467.8 695.1,474 694.5,476 694.6,478 702.4,491.3 718.3,522.8 722.3,532.2 724,538 726.7,556 728.9,576 728.7,592 727.2,610 728.4,620 727.4,624 724.2,628 722.3,629.1 718.3,629.8 712.3,629.7 700.4,630.9 686.5,627 676.5,629.3 674.5,628.9 672.5,627.4 668.6,620.3 666.6,618 664.6,617.2 662.6,617.3 656.6,620.7 644.7,631.3 643,632 639.6,632 636.7,630 635.3,628 628.1,612 618.8,597.4 612.9,590.4 610.9,589.4 608.9,589.4 607.8,590 606.7,592 606.1,608 605.3,616 602.9,625.5 600.9,629.5 599,632 589.1,632 589,462.5 595.5,462 604.9,456.4 608.9,455.7 612.9,457.3 622.8,463.6 626.8,463.9 631.9,462 640.7,456.2 642.7,455.8 644.7,456.5 646.7,457.9 652.1,464 656.6,468 658.6,469 662.6,469.3 667,468 672.5,464ZM947,452 947,632 942.4,632 938.4,622 938,614 939.7,604 940.3,594 943,587.1 943.6,584 942.7,580 941,577.1 937.7,574 935.1,572.9 933.1,573.1 931.1,574.5 930.3,576 928.3,584 923.1,598.4 919.4,614 915.8,622 913.2,625.2 905.2,629.2 903.2,628.1 900.5,624 898.8,620 897.2,614 893.6,590 893.7,576 895.2,568 897.6,562 903.2,555.1 910.8,550 912.6,548 914.9,544 915.9,538 914.6,532 909.6,524 908.3,520 907.1,500 908.4,488 908.3,484 907.2,478 902.7,466 901.9,462 903.2,458.8 905.2,457.4 907.2,456.9 911.2,457.5 917.2,460.6 921.4,462 929.1,462.9 935.1,462.3 941,458.7ZM809.8,625.8 811.8,626.1 812.3,628 811.8,629.6 809.8,630.9 808.6,630 808.2,628ZM841.6,625.9 843.6,626.6 844.4,628 844.2,632 838.5,632 839.1,628Z" fill="#3afe00"/>
<path d="M947,463 947,579.8 943.6,574 939,569.5 935.1,567.3 933.1,566.9 930.4,568 929.1,569.5 928.2,572 926.4,580 923.7,588 920.6,606 918.6,614 915.2,620.7 913.2,622.9 909.2,624.6 905.2,624.5 903.2,623.1 901.3,620.2 899.3,614 895.8,592 895.6,578 897.3,569.8 899.3,565.6 901.3,562.9 905.2,559.4 918.3,554 920.3,552 921.9,548 922.7,540 922.1,532 920.5,526 915.6,514 913.5,502 913.6,494 915.8,482 918.3,476 921.1,473.3 927.1,470.5 939,467ZM600.9,465.7 604.9,464.7 608.9,464.7 620.8,468.5 624.8,469.2 640.7,469.2 644.7,470.2 658.6,475.5 678.5,477.5 682.5,479.1 686.5,481.7 692.4,486.7 696.4,491.1 702.1,500 716.3,526.7 720.3,535.3 722.4,542 727.6,576 727.1,594 724.4,610 725.5,620 724.2,622.5 722.3,623.8 720.3,624.2 712.3,623.7 700.4,628.1 696.4,628 686.5,624.8 678.5,626.7 676.5,626.6 674.5,625.5 673.4,624 668.6,615.6 666.6,614.1 664.6,614 660.6,615.9 646.7,625.2 642.7,626.8 640.7,626.6 638.7,625.3 634.7,620.5 620.8,598 614.9,590 610.9,586.9 606.9,585.8 604.9,586 603.2,588 605,600 605.2,608 604.5,616 602.9,622 600.9,626.1 598.9,628.1 597,629.1 595,629.2 592.6,628 590.3,624 590,620 590.6,612 589,607.3 589,587 590.5,586 590.7,584 589,583.3 589,466.9 595,466.8ZM947,588.2 947,632 944.8,632 940,622 939.2,614 943.9,596Z" fill="#56fd00"/>
<path d="M947,469.4 947,572.7 933,558 929.9,552 927.9,544 927,534 925.5,526 920,508 918.5,496 919.2,490.9 920.7,486 922.9,482 925.1,479.3 929.1,476.2 933.1,474.1ZM591,470.7 608.9,470.3 622.8,473.1 642.7,476 678.5,485.5 688.4,490.4 692.8,494 698.4,502.2 718.3,538.1 719.9,542 722.5,554 726.1,576 726,590 725.2,596 723.2,604 720.3,611.6 717.6,616 707.9,620 700.4,625.1 696.4,625.7 688.4,622.4 686.5,622.1 678.5,623.3 676.5,622.6 674.5,620.3 669.2,610 668.6,609.4 666.6,609.5 662.6,611.8 656.6,616.7 650.7,620.6 644.7,622.5 640.7,622.1 636.7,619.6 632.8,615.3 620.8,596.2 614.9,588.2 612.9,586.3 606.9,582.9 598.9,581.3 589,577.2 589,470.7ZM909.2,563.6 917.2,564 921.1,565.5 923.3,568 924.8,574 924.3,578 921.3,586 919.9,604 918.4,612 915.2,618.8 913.2,621 909.2,622.5 907.2,622.3 905.2,621.3 903.2,619 901.9,616 900.6,610 898.7,596 898,582 898.4,576 900.7,570 903.2,566.9 905.2,565.3ZM595,589.8 597,589.7 598.9,590.6 600.9,593.1 602.9,598.2 604.1,606 603.7,616 602.9,618.9 600.9,623.2 598.9,625 597,625.5 595,624.5 593.7,622 593.2,612 589.6,598 590.1,594 591,592.5 593,590.6ZM947,597.9 947,631.5 941.7,622 940.7,618 940.5,614 941,611.2Z" fill="#72fc00"/>
<path d="M591,474.5 608.9,475.2 626.6,478 642.7,481.3 660.6,485.9 674.5,490.7 686.5,495.5 689.6,498 694.4,504.8 717,542 722.3,561.8 724.7,580 724.2,592 722.3,600 720.3,605.1 718.3,608.2 714.3,612.4 710.3,614.9 702.7,618 698.4,621.9 696.4,622.6 694.4,622 691.9,620 688.4,614.3 686.1,612 683.6,612 682.2,616 680.5,617.7 678.5,617.7 676.5,615.3 672.5,604.1 670.5,603.4 668.6,604.1 657.6,614 652.6,617.6 646.7,619.8 642.7,620.2 640.7,619.8 636.7,617.5 632.8,613.4 620.8,594.6 614.9,586.6 612.9,584.8 604.9,579.3 597,576.3 589,571.8 589,474.5ZM943,475.7 947,474.9 947,567.7 941.8,562 937.7,556 934.4,550 932,544 929.1,528 924.5,510 923.2,498 923.4,494 924.6,490 928.5,484 931.1,481.4 935.1,478.6ZM905.2,571.9 909.2,570.8 913.2,571.3 919.2,572.8 920.9,574 921.5,576 921.1,578 918.2,582 919.2,598 918.7,606 917.6,612 915.2,617 913.2,619.2 911.2,620.3 909.2,620.5 907.2,619.9 905.2,618.2 903.3,614 901.9,608 900.7,596 901.5,578 903,574ZM595,594.7 597,594.5 598.9,595.9 600.9,599.2 602.9,606.3 602.7,616 600.9,620 598.9,621.8 597,620.5 596.1,618 594.3,606 593.8,598ZM947,604.9 947,627.4 943,621 941.9,614 943,610.6Z" fill="#87fc00"/>
<path d="M591,478.7 604.9,479.6 620.8,481.9 648.7,488 658.6,491 671,496 680.5,500.4 685.4,504 688.4,507.7 696.5,520 713.5,542 715.6,546 718.5,554 722,570 723.2,582 723.1,588 722.1,594 720.3,600 718.3,604.2 714.3,608.9 710.3,611.8 706.3,613.4 700.4,614.8 696.4,614.8 686.9,608 680.5,605.8 674.5,601.3 672.5,600.7 670.5,600.8 666.6,603.2 654.6,614.4 648.7,617.5 644.7,618.5 640.7,618.2 638.7,617.4 634.7,614.1 631.6,610 622.8,596 614.9,585.2 606.9,578.2 600.6,574 595.7,570 589,562.1 589,478.8ZM947,479.9 947,562.9 944.4,560 939.3,552 934.9,542 927.9,512 927.3,502 928.4,494 932.1,488 935.1,485.1 939,482.6ZM909.2,579.8 911.2,580.3 913.2,582.1 915.2,584.9 917.3,590 918,596 917.8,606 916.7,612 915.2,615.1 913.2,617.4 911.2,618.5 909.2,618.5 907.2,617.4 905,614 903.3,608 902.4,598 902.6,592 904,586 905.2,582.9 907.2,580.4ZM598.9,603.5 600.9,606.2 601.4,610 600.9,615.7 598.9,616.2 597.2,608 597.3,606ZM947,609 947,623.8 944.7,620 943.8,616 944.6,612Z" fill="#96fb00"/>
<path d="M591,483.4 598.9,484 624.8,488.2 646.7,493.2 654.8,496 663.8,500 672.5,505.1 678.4,510 683.2,516 687.2,522 693.5,528 704.4,537 710.3,542.9 713.7,548 716.3,553.9 720,568 721.4,586 720.6,592 718.9,598 717.2,602 714.3,606 710.3,609.3 706.3,610.9 702.4,611.6 698.4,611.3 682.5,603.2 676.5,599.3 672.5,598.3 668.2,600 656.6,610.8 652.6,613.7 648.7,615.8 644.7,616.9 640.7,616.9 636.1,614 632.8,610 625.1,598 616.6,586 600.6,570 592.5,560 589,556.6 589,483.4ZM945,485.9 947,485.2 947,557.7 941.6,550 937.9,542 932.7,524 930.3,510 930.8,502 933.1,495.3 937.7,490ZM909.2,585.4 911.2,585.6 913.2,586.8 915.2,589.4 916.7,596 916.8,606 916.2,610 914.5,614 913.2,615.5 911.2,616.5 909.2,616.2 906.9,614 905,610 904,604 903.8,596 904.4,592 906.1,588 907.2,586.5Z" fill="#a4fb00"/>
<path d="M591,488.6 597,489.3 610.9,492.6 634.7,496.2 644.7,498.8 652.8,502 658.6,505.3 668.6,513.1 678.5,526.2 682.4,530 702.4,540.7 708.3,545.3 712.3,550.7 716.3,560.6 718.4,570 719.4,582 719.2,588 717.4,596 714.9,602 712.3,605.3 710.3,606.9 706.3,608.6 702.4,609 698.4,608.3 685.5,602 676.5,596.3 674.5,595.8 672.5,596.1 668.6,598 656.6,608.9 648.3,614 642.7,615.7 638.7,614.7 636.7,613.1 632.8,608.3 616.8,585 603.6,570 593,556.4 589,552.8 589,488.6ZM945,491.7 947,490.9 947,552.7 943.6,548 940.7,542 934.8,524 932.9,512 933.3,506 935.5,500 939,495.6ZM909.2,588.8 911.2,588.8 913.2,590.1 914.4,592 915.4,596 915.6,606 915.2,609.4 913.2,613.2 911.2,614.2 909.2,613.7 907.2,611.4 905.8,608 905.2,605 905.7,594 907.2,590.4Z" fill="#b2fb00"/>
<path d="M591,494.4 595,495.3 604.9,499.1 608.9,500.2 630.8,501.6 638.7,503.5 646.7,506.4 654.6,510.7 661.8,516 667.1,522 673.5,532 676.5,534.7 698.4,543 702.4,544.9 706.3,547.6 710.1,552 712.3,556.2 715.4,566 716.7,574 717.2,584 716.6,590 714.3,598.3 712.5,602 710.8,604 706.3,606.3 700.4,606.2 690.4,602.1 683.6,598 678.5,594.1 676.5,593.1 674.5,593 670.5,594.6 666.6,597.5 654.6,608.3 644.7,613.7 640.7,614.3 637.1,612 616.8,583.7 604.2,568 595,555.6 589,549.7 589,494.3ZM668.5,554 663.2,558 662.1,560 662.6,562.1 664.6,562.2 669.3,558 670.6,556ZM646.6,598 647.2,598 646.7,596.7ZM945,497.7 947,496.9 947,547.8 943.5,542 937.5,526 936.1,520 935.5,514 936,508 937.6,504 941,500.1ZM909.2,591.8 911.2,591.5 911.8,592 913.2,593.5 913.7,596 913.8,608 913.2,610.1 911.2,611.5 909.2,610.9 907.2,608.2 906.6,606 907,596 907.6,594Z" fill="#c1fa00"/>
<path d="M591,502 598.9,505.7 606.9,508.1 612.9,508.4 622.8,507.6 628.8,507.8 634.7,509 642.7,511.8 652.6,516.8 658.6,521 664.6,527.9 668.6,534.4 672.4,538 680.5,541.9 698.4,546.5 704.3,550 707.7,554 710.3,559.5 713,568 714.3,574.8 714.7,584 714.3,588.7 712.3,596.8 709.5,602 706.3,603.9 704.4,604.1 700.4,603.4 691.8,600 683,594 678.6,590 676.5,589.9 670.5,592.1 656.6,604.4 652.5,606 650.8,604 651,600 650.3,598 650,594 648.7,590 649,588 648.1,582 646.7,580.7 645.5,582 644.3,586 645,590 644.7,598 647.2,604 647.3,606 645.8,610 643.7,612 640.7,612.7 638.7,611.7 634.7,607.1 624.5,592 606,568 595,552.8 589,546.6 589,501.5ZM668,552 662.6,555.7 660.6,558 659,562 659,564 660.6,565.8 664.6,564.7 671.5,558 672.4,556 672.5,553.9 670.5,551.8ZM945,503.2 947,502.5 947,542.3 939.3,524 938.2,516 938.3,512 939.6,508 941,505.9ZM909.2,598.7 911.2,601.2 911.7,606 911.2,607.6 909.2,607.2 908.7,606Z" fill="#cefa00"/>
<path d="M947,507.9 947,533.4 943,525.7 941.9,522 941.5,518 941.9,514 943,511.1 945,509ZM591,512.9 597,512.7 610.9,515.4 622.8,514.3 626.8,514.4 644.7,519.6 650.7,522 654.6,524.6 658.6,528.6 665.3,538 672.6,542 678.5,546.5 682.5,547.8 694.4,548 699.3,550 701.5,552 703.3,556 702.3,562 702.3,564 703.1,566 708.3,569.8 710.3,573 711.1,576 711.9,582 711.7,588 710.3,594 708.3,598.5 706.3,600.3 704.4,600.8 700.4,600.2 695.2,598 692.3,596 690.4,594 689.1,592 687.8,588 686.5,586.5 682.5,586.4 676.5,587.4 670.2,590 664.6,594.1 658.6,599.7 656.6,600.8 654.6,600.5 652.6,598 652,590 652.6,587.9 655.5,584 656.1,580 655.6,578 654.6,577 652.6,576.6 648.7,576.7 644.7,578.5 641.3,586 641,588 642.5,592 642.8,598 643.8,604 642.7,608.7 640.7,610.1 638.7,609.1 630.8,599.1 626.8,591 622.8,587.9 618.8,583.2 589,542.5 589,513.9ZM666.3,550 660.6,552.7 659.2,554 655.9,562 655.4,566 655.6,568 656.6,571.4 658.6,573.6 660.6,572 672.5,558.9 675.1,554 675.1,552 672.9,550 668.6,549.5Z" fill="#dbf900"/>
<path d="M597,521.1 598.9,521 603.3,522 606.9,523.8 609.3,526 612.9,532.7 618.6,540 620.8,549.4 623.8,556 624.5,560 626.8,562.8 627.4,562 627.8,560 626.9,556 627.1,548 624.1,538 623.8,532 622.1,526 622.7,524 630.8,524 644.7,525.3 650.7,527.9 654.8,532 656.6,536 657.1,540 653.7,548 653.4,558 651.2,570 650.2,572 644.7,576.5 640.7,582.7 638.7,584.2 636.7,584.6 630.8,583.2 626.8,585.5 624.8,586.1 622.8,585.2 620.8,583.5 606.1,564 592.4,544 590.8,540 590.7,538 591.1,536 594,530 594.2,524 595,522ZM688.4,551.6 692.4,550.6 694.4,550.7 697.1,552 698.2,554 697.5,556 694,558 693.2,560 694.4,562 698.4,564.6 701.2,572 706.3,576.9 707.9,580 708.7,584 708.3,588.2 706.3,593.7 704.4,595.6 702.4,596 700.4,595.4 698.2,594 696.8,592 696.4,588 697.9,576 697,574 692.4,571.3 690.4,571.6 688.4,573.4 683.7,580 678.9,584 666.6,589.3 662.6,589.5 661.6,588 660.7,584 660.7,580 664.2,572 666.7,568 678.5,554.1 680.5,553ZM632.8,595.8 634.7,594.8 636.7,594.8 638.7,595.7 640.3,600 640.4,602 639.2,604 638.7,604.3 636.7,603.1 634.7,600.9 632.9,598Z" fill="#e8f800"/>
<path d="M600.9,529.4 604.9,530.4 606.9,532.1 613.5,540 615.8,544 622.8,561.7 626.5,568 626.8,578 626.3,580 624.8,582 622.8,582.3 620.8,581.2 618.8,579.3 602.9,557.3 593.6,542 593,538 593.6,536 597,531.7 598.9,530.1ZM634.7,529.9 640.7,529.1 646.7,530.8 648.7,532.2 650.7,534.6 652,538 652.3,540 650.7,550 650.3,558 647.5,570 640.7,580.4 638.7,582.1 636.7,582.3 634.7,581.5 633.2,580 631.3,572 629.4,568 629.2,566 629.8,562 629,554 629,538 630.8,533.2 632.8,531ZM682.5,555.8 686.5,556.1 688.4,556.8 689.2,558 691.6,566 686.5,571.4 677.8,582 675,584 670.5,586 666.6,586.6 665.3,586 663.6,584 663.1,580 667.6,570 671.9,564 676.5,558.9 678.5,557.2Z" fill="#f1f200"/>
<path d="M598.9,533.7 600.9,533.2 604.9,534.6 609.9,540 613.8,546 624.8,570 625.1,576 624.3,578 622.8,579.3 620.8,578.9 618.8,577.2 610.5,566 602.3,554 595.7,542 595.1,538 597,535ZM636.7,533.5 640.7,532.9 644.7,534.1 646.7,535.8 648.2,538 649.2,542 648.2,556 645.5,568 644.1,572 640.8,578 638.7,580.3 636.7,580.3 634.6,578 631.4,566 630.6,556 630.8,544 631.6,540 633.6,536ZM678.5,559.5 682.5,558.3 684.5,558.6 686.5,559.9 687.5,562 687.8,564 687.3,566 680.5,575.4 674.8,582 670.5,584.2 668.6,584.5 666.6,583.9 665.3,582 665.1,580 666.5,576 672.3,566Z" fill="#faeb00"/>
<path d="M600.9,535.9 602.9,536.5 605.1,538 609.8,544 612.1,548 623.1,570 623.7,574 622.8,576.4 620.8,576.7 618.8,574.8 610.8,564 602.9,552 597.1,540 597.4,538 598.9,536.4ZM636.7,537.2 638.7,536.3 640.7,536.3 644.2,538 646.6,542 647.1,546 646,558 642.7,570 640.7,574.8 638.7,578 636.7,577.2 634.2,570 633.1,566 632,556 632.7,544 634.3,540ZM678.5,561.8 680.5,560.9 682.5,560.8 684.5,562 685.1,564 684.6,566 674.2,580 671.3,582 668.6,582.2 667.2,580 668.5,576 673,568Z" fill="#ffe100"/>
<path d="M600.9,538.9 603.3,540 608.9,547.9 618.3,566 620.8,569.8 621.4,572 620.8,574 612.9,563.2 604.9,550.9 601.9,544 600.5,542 599.9,540ZM638.7,539.5 640.7,539.5 642.7,540.5 643.9,542 645.1,546 645.3,550 644.3,558 640.7,568.6 638.7,571.7 636.7,570.4 634.7,565.5 633.3,554 634.7,544 636.7,540.8ZM680.5,563.7 681.3,564 681.6,566 680.5,568 676.5,572.8 674.5,574.4 673.5,574 674.5,569.8 678.5,564.9ZM672.5,575 672.9,576 672.7,578 670.5,578.9 670.5,577.3Z" fill="#ffd200"/>
<path d="M638.7,543.1 640.7,543.1 642.7,545.7 643.5,552 642.6,558 640.7,562.3 638.7,564.9 636.7,563.6 635,558 634.8,554 636.4,546Z" fill="#ffc400"/>
<path d="M638.7,548.3 640.7,549.1 641.3,552 640.7,557 638.7,559.2 637.6,558 636.8,556 636.8,554 637.7,550Z" fill="#ffb600"/>
<path d="M793.9,524.9 793,526 791.9,532 789.9,534 785.9,535.4 781.6,536 779.9,536.9 779,538 778.3,540 777.8,542 778,544 779.9,546.9 784.3,556 791.9,566.3 799.8,574.5 803.8,577.6 805.8,578.2 807.8,577.7 810,574 810.6,570 809.6,562 808.6,558 797.7,532 796.4,526 795.8,525.4 793.9,524.9M768,554.7 766,556.7 764.5,560 762.5,568 762.3,574 763.6,580 766,584.1 768,585.8 770,586.7 779.9,585.9 782.1,584 783.3,580 783.5,576 782.5,572 779.6,566 774,558.3 770,554.5 768,554.7" fill="none" stroke="#000" stroke-width="0.75" stroke-dasharray="3.5 2.2" stroke-linejoin="round"/>
<path d="M809.8,496.6 807.8,499.6 804,508 801.8,509.5 799.8,509.3 797.8,508.2 789.9,502.1 787.9,501.6 785.9,502.1 783.9,504.3 779.1,515.4M760.8,534.7 756.1,539.9 754.1,543 750,556 748.4,570 749.3,582 751.2,590 754.1,595.9 756.1,598 758.8,600 762,601.5 768,602.8 769.9,604 771.3,606 773.7,608 777.9,609.5 783.9,609.8 789.9,608 803.8,601.8 805.8,600.4 818.8,582 823.7,573.9 825.7,571.8 828,572 829.8,586 831.6,589.7 833.6,591.2 835.6,591.1 837.7,590 840.1,588 843.4,584 845.6,580 847.6,580.9 850.9,586.9M864.9,609.6 865.5,610.9 866.1,608.4M868.2,600.7 869.4,596.2 869.5,594 868.2,584 866.4,576 864.9,566 861,554 858.2,542 857.3,534 854.3,520 852.6,516 845.6,509.6 844.4,506 844.1,500 843.6,499.3 841.6,498.6 837.6,499.6 827.7,498.2 825.7,498.5 821.7,500.1 819.7,500.3 817.7,499.7 811.8,496.1 809.8,496.6" fill="none" stroke="#000" stroke-width="1.7" stroke-dasharray="4.5 2.5" stroke-linejoin="round"/>
<path d="M803.8,471.1 799.1,474 791.9,481.3 789.9,482.5 785.9,483.2 781.9,482.1 779.9,482.1 777.9,483.1 776,485 773.8,488 768,500.4 766,502.6 764,503.2 762,502.7 755.5,496 752.1,494.8 750.1,494.8 748.1,495.6 746.1,497.3 742.1,503.1 740.4,510 740.3,520 741.3,534 742.8,540 739.5,556 738.6,574 739.8,590 742.1,598.6 746.1,606.1 748.1,608.4 754.1,612.7 760,615.6 774,620.7 779.9,621.6 783.9,621.3 787.9,620.4 795.8,617.5 801.8,614 806.6,610 817.7,596.1 819.7,594.6 821.7,594.5 823,596 825.7,602.5 830.7,612 831.6,613.3 833.6,613.7 835.6,612 836.7,610 840.8,600 843.6,597.8 845.6,597.8 847.6,599.6 853.5,608 861.5,621.9 863.5,623.8 865.5,624.7 867.4,624.4 870.3,622 872.5,618 875.4,601.2 877.4,593.1 879.4,595.2 883.1,608 883.5,612 885.3,614 886.2,612 885.9,600 885.3,594.7 883,584 880.9,568 881.8,556 881.5,550 880.4,546 878.7,542 878.6,528 877.8,520 876.5,512 873.4,501.7 871.4,497.7 864,486 861.5,484 857.5,482.1 855.5,480.2 851.5,473.9 849.5,473.4 843.6,473.8 831.6,471 827.7,471.1 819.7,472.6 813.7,472.2 805.8,470.9 803.8,471.1M877.4,589.6 877.4,590.1 877.4,589.6M612.9,616.9 612.2,618 612,620 612.9,623.7 614.9,623.1 615.2,620 614.9,617.6 612.9,616.9" fill="none" stroke="#000" stroke-width="0.75" stroke-dasharray="3.5 2.2" stroke-linejoin="round"/>
<path d="M712.9,452 712.8,472 712.3,484 712.6,488 714.9,494.6M724.2,519.9 729,536 730.2,542 730,548 733.1,632M627.9,632 627.2,620 626.1,614 624.8,611.4 616.8,601.4 614.9,599 612.8,598 610.9,599 608.9,604.2 606.4,618 604.7,632M666.8,632 665.8,630 664.6,624.9 662.6,623.3 659.9,624 658.4,626 657.4,632M689.6,632 686.5,631.2 683.4,632M803,632 803.8,627.9 806,624 807.8,622.3 811.8,620 813.6,618 815.7,613.8 816.4,614 817.2,616 815.8,620 815.9,628 814.6,632M832.8,632 834.1,628 837.6,623.5 841.6,621.1 843.6,620.7 845.6,621 846.9,622 848.2,624 849,628 849,632M897.4,632 894.5,620 891.1,594 890.3,580 890.6,570 891.5,564 893.3,557.7 899.7,544 900.2,542 897.7,524.6M893.8,497.9 889.6,472 889.3,452M934.1,632 935.6,610 935.4,606 934.8,604 933.1,600.9 931.1,599 929.1,598.5 927.1,599.4 925.1,602.6 919.1,620 917.3,632" fill="none" stroke="#000" stroke-width="1.7" stroke-linejoin="round"/>
<path d="M589,474.5 608.9,475.2 626.6,478 642.7,481.3 661,486 676.5,491.4 686.5,495.5 688.4,496.8 690.4,498.9 694.4,504.8 702,518 717,542 720.3,553 722.7,564 724.2,574 724.8,584 724.2,592 722.9,598 720.8,604 718.5,608 714.8,612 712.3,613.8 702.7,618 698.3,622 696.4,622.6 694.4,622 691.9,620 688.4,614.3 686.1,612 684.5,611.7 683.6,612 682.2,616 680.5,617.7 678.5,617.7 676.5,615.3 673.5,606 672.5,604.1 670.5,603.4 668.6,604.1 657.6,614 652.6,617.6 648.7,619.4 642.7,620.2 638.7,619 633.2,614 620.8,594.6 614.9,586.6 612.9,584.8 604.9,579.3 597,576.3 589,571.8M947,567.7 941.8,562 937.7,556 934.4,550 932,544 929.1,528 924.5,510 923.2,498 923.4,494 924.6,490 927.1,485.7 930.4,482 933.1,479.9 937.1,477.7 947,474.9M947,627.4 943,621 942.2,618 941.9,614 943,610.6 947,604.9M905.2,571.9 909.2,570.8 913.2,571.3 919.2,572.8 920.9,574 921.5,576 921.1,578 918.2,582 919.1,590 919.2,598 918.7,606 917.6,612 915.2,617 913.2,619.2 911.2,620.3 909.2,620.5 907.2,619.9 905.2,618.2 903.3,614 901.9,608 900.7,596 901.5,578 903,574 905.2,571.9M595,594.7 597,594.5 598.9,595.9 600.9,599.2 602.9,606.3 603.2,610 602.7,616 600.9,620 598.9,621.8 597,620.5 596.1,618 594.3,606 593.8,598 594.1,596 595,594.7" fill="none" stroke="#000" stroke-width="0.75" stroke-linejoin="round"/>
<path d="M589,501.5 591,502 599.7,506 606.9,508.1 612.9,508.4 622.8,507.6 628.8,507.8 634.7,509 642.7,511.8 652.6,516.8 658.6,521 664.6,527.9 668.6,534.4 672.4,538 680.5,541.9 698.4,546.5 704.3,550 706.3,552 708.3,555.2 712.3,565.2 714.2,574 714.6,580 714.4,588 712.6,596 710.3,601 708.3,603 707,603.6M682.5,593.5 680.5,591.3 678.5,590 676.5,589.9 672.5,591 666.6,595.3 656.6,604.4 654.6,605.5 652.5,606 650.8,604 651,600 650.3,598 650,594 648.7,590 649,588 648.1,582 646.7,580.7 645.5,582 644.3,586 645,590 644.7,598 647.2,604 647.3,606 645.8,610 643.7,612 640.7,612.7 639.2,612 634.7,607.1 624.5,592 606,568 595,552.8 589,546.6M947,542.3 939.3,524 938.2,516 938.3,512 939.6,508 941,505.9 943,504.2 947,502.5M668.6,551.8 666.6,552.7 662.6,555.7 660.6,558 659,562 659,564 660.6,565.8 662.6,565.6 664.6,564.7 666.6,563.2 671.5,558 672.4,556 672.5,553.9 670.9,552 668.6,551.8M909.2,598.7 909.8,600 911.2,601.2 911.7,606 911.2,607.6 909.2,607.2 908.7,606 909.2,598.7" fill="none" stroke="#000" stroke-width="1.7" stroke-linejoin="round"/>
<path d="M600.9,535.9 602.9,536.5 605.1,538 609.8,544 612.1,548 623.1,570 623.7,574 622.8,576.4 620.8,576.7 618.8,574.8 610.8,564 602.9,552 597.1,540 597.4,538 598.9,536.4 600.9,535.9M636.7,537.2 638.7,536.3 640.7,536.3 642.7,536.9 644.2,538 645.8,540 646.6,542 647.1,546 646.9,552 646,558 642.7,570 640.7,574.8 638.7,578 636.7,577.2 634.2,570 633.1,566 632,556 632.7,544 634.3,540 636.7,537.2M678.5,561.8 680.5,560.9 682.5,560.8 684.5,562 685.1,564 684.6,566 674.2,580 671.3,582 668.6,582.2 667.2,580 668.5,576 673,568 678.5,561.8" fill="none" stroke="#000" stroke-width="0.75" stroke-linejoin="round"/>
<text x="720" y="510.9" font-size="9.8" text-anchor="middle" textLength="21" lengthAdjust="spacingAndGlyphs" stroke="#000" stroke-width="0.3" transform="rotate(65 720 507.4)">0.00</text>
<text x="895.1" y="515.1" font-size="9.8" text-anchor="middle" textLength="21" lengthAdjust="spacingAndGlyphs" stroke="#000" stroke-width="0.3" transform="rotate(80 895.1 511.6)">0.00</text>
<text x="694" y="603.5" font-size="9.8" text-anchor="middle" textLength="21" lengthAdjust="spacingAndGlyphs" stroke="#000" stroke-width="0.3" transform="rotate(30 694 600)">10.0</text>
<text x="771.5" y="530.0" font-size="9.8" text-anchor="middle" textLength="21" lengthAdjust="spacingAndGlyphs" stroke="#000" stroke-width="0.3" transform="rotate(-50 771.5 526.5)">10.0</text>
<text x="858" y="601.5" font-size="9.8" text-anchor="middle" textLength="21" lengthAdjust="spacingAndGlyphs" stroke="#000" stroke-width="0.3" transform="rotate(50 858 598)">10.0</text>
</g>
<path d="M602.0 632.0v-2.6M602.0 452.5v2.6M616.4 632.0v-5M616.4 452.5v5M630.8 632.0v-2.6M630.8 452.5v2.6M645.2 632.0v-5M645.2 452.5v5M659.6 632.0v-2.6M659.6 452.5v2.6M674.0 632.0v-5M674.0 452.5v5M688.4 632.0v-2.6M688.4 452.5v2.6M702.8 632.0v-5M702.8 452.5v5M717.3 632.0v-2.6M717.3 452.5v2.6M731.7 632.0v-5M731.7 452.5v5M746.1 632.0v-2.6M746.1 452.5v2.6M760.5 632.0v-5M760.5 452.5v5M774.9 632.0v-2.6M774.9 452.5v2.6M789.3 632.0v-5M789.3 452.5v5M803.7 632.0v-2.6M803.7 452.5v2.6M818.1 632.0v-5M818.1 452.5v5M832.5 632.0v-2.6M832.5 452.5v2.6M846.9 632.0v-5M846.9 452.5v5M861.3 632.0v-2.6M861.3 452.5v2.6M875.7 632.0v-5M875.7 452.5v5M890.1 632.0v-2.6M890.1 452.5v2.6M904.5 632.0v-5M904.5 452.5v5M918.9 632.0v-2.6M918.9 452.5v2.6M933.3 632.0v-5M933.3 452.5v5M589 623.0h2.6M947 623.0h-2.6M589 614.0h2.6M947 614.0h-2.6M589 605.1h2.6M947 605.1h-2.6M589 596.1h2.6M947 596.1h-2.6M589 587.1h5M947 587.1h-5M589 578.1h2.6M947 578.1h-2.6M589 569.2h2.6M947 569.2h-2.6M589 560.2h2.6M947 560.2h-2.6M589 551.2h2.6M947 551.2h-2.6M589 542.2h5M947 542.2h-5M589 533.3h2.6M947 533.3h-2.6M589 524.3h2.6M947 524.3h-2.6M589 515.3h2.6M947 515.3h-2.6M589 506.4h2.6M947 506.4h-2.6M589 497.4h5M947 497.4h-5M589 488.4h2.6M947 488.4h-2.6M589 479.4h2.6M947 479.4h-2.6M589 470.4h2.6M947 470.4h-2.6M589 461.5h2.6M947 461.5h-2.6" stroke="#000" stroke-width="1.2" fill="none"/>
<rect x="589" y="452.5" width="358" height="179.5" fill="none" stroke="#000" stroke-width="1.6"/>
<text x="616.1" y="644.4" font-size="10.8" text-anchor="middle" fill="#000" stroke="#000" stroke-width="0.22" textLength="5.8" lengthAdjust="spacingAndGlyphs">4</text>
<text x="644.9" y="644.4" font-size="10.8" text-anchor="middle" fill="#000" stroke="#000" stroke-width="0.22" textLength="5.8" lengthAdjust="spacingAndGlyphs">8</text>
<text x="673.7" y="644.4" font-size="10.8" text-anchor="middle" fill="#000" stroke="#000" stroke-width="0.22" textLength="11.6" lengthAdjust="spacingAndGlyphs">12</text>
<text x="702.5" y="644.4" font-size="10.8" text-anchor="middle" fill="#000" stroke="#000" stroke-width="0.22" textLength="11.6" lengthAdjust="spacingAndGlyphs">16</text>
<text x="731.4" y="644.4" font-size="10.8" text-anchor="middle" fill="#000" stroke="#000" stroke-width="0.22" textLength="11.6" lengthAdjust="spacingAndGlyphs">20</text>
<text x="760.2" y="644.4" font-size="10.8" text-anchor="middle" fill="#000" stroke="#000" stroke-width="0.22" textLength="11.6" lengthAdjust="spacingAndGlyphs">24</text>
<text x="789.0" y="644.4" font-size="10.8" text-anchor="middle" fill="#000" stroke="#000" stroke-width="0.22" textLength="11.6" lengthAdjust="spacingAndGlyphs">28</text>
<text x="817.8" y="644.4" font-size="10.8" text-anchor="middle" fill="#000" stroke="#000" stroke-width="0.22" textLength="11.6" lengthAdjust="spacingAndGlyphs">32</text>
<text x="846.6" y="644.4" font-size="10.8" text-anchor="middle" fill="#000" stroke="#000" stroke-width="0.22" textLength="11.6" lengthAdjust="spacingAndGlyphs">36</text>
<text x="875.4" y="644.4" font-size="10.8" text-anchor="middle" fill="#000" stroke="#000" stroke-width="0.22" textLength="11.6" lengthAdjust="spacingAndGlyphs">40</text>
<text x="904.2" y="644.4" font-size="10.8" text-anchor="middle" fill="#000" stroke="#000" stroke-width="0.22" textLength="11.6" lengthAdjust="spacingAndGlyphs">44</text>
<text x="933.0" y="644.4" font-size="10.8" text-anchor="middle" fill="#000" stroke="#000" stroke-width="0.22" textLength="11.6" lengthAdjust="spacingAndGlyphs">48</text>
<text x="583.6" y="590.6" font-size="10.8" text-anchor="end" fill="#000" stroke="#000" stroke-width="0.22" textLength="5.8" lengthAdjust="spacingAndGlyphs">5</text>
<text x="583.6" y="545.8" font-size="10.8" text-anchor="end" fill="#000" stroke="#000" stroke-width="0.22" textLength="11.6" lengthAdjust="spacingAndGlyphs">10</text>
<text x="583.6" y="500.9" font-size="10.8" text-anchor="end" fill="#000" stroke="#000" stroke-width="0.22" textLength="11.6" lengthAdjust="spacingAndGlyphs">15</text>
<text x="539" y="650.8" font-size="10" text-anchor="start" fill="#000" stroke="#000" stroke-width="0.15" textLength="54" lengthAdjust="spacingAndGlyphs">(×1000 m)</text>
<text x="955" y="657.3" font-size="10" text-anchor="end" fill="#000" stroke="#000" stroke-width="0.15" textLength="54" lengthAdjust="spacingAndGlyphs">(×1000 m)</text>
<text x="725" y="673.75" font-size="14" text-anchor="start" fill="#000" textLength="86.5" lengthAdjust="spacingAndGlyphs">X-coordinate</text>
<text x="563.2" y="542.5" font-size="14" text-anchor="middle" fill="#000" textLength="86.5" lengthAdjust="spacingAndGlyphs" transform="rotate(-90 563.2 542.5)">Z-coordinate</text>
<text x="705.3" y="427.8" font-size="15.5" text-anchor="start" fill="#000" textLength="56.9" lengthAdjust="spacingAndGlyphs">vertical</text>
<text x="772" y="427.8" font-size="15.5" text-anchor="start" fill="#000" textLength="58.6" lengthAdjust="spacingAndGlyphs">velocity</text>
<linearGradient id="cb589_452" x1="0" x2="1" y1="0" y2="0"><stop offset="0.0000" stop-color="#8000a0"/><stop offset="0.0625" stop-color="#2000c0"/><stop offset="0.1250" stop-color="#0010f0"/><stop offset="0.1875" stop-color="#0050ff"/><stop offset="0.2500" stop-color="#0098ff"/><stop offset="0.2812" stop-color="#00b8ff"/><stop offset="0.3125" stop-color="#00e0ff"/><stop offset="0.3438" stop-color="#00fff8"/><stop offset="0.3750" stop-color="#00ffd0"/><stop offset="0.4375" stop-color="#00ff70"/><stop offset="0.4875" stop-color="#00ff10"/><stop offset="0.5125" stop-color="#10ff00"/><stop offset="0.5625" stop-color="#80fc00"/><stop offset="0.6250" stop-color="#c8fa00"/><stop offset="0.6562" stop-color="#e8f800"/><stop offset="0.6875" stop-color="#ffe800"/><stop offset="0.7188" stop-color="#ffc400"/><stop offset="0.7500" stop-color="#ffa000"/><stop offset="0.7812" stop-color="#ff8000"/><stop offset="0.8125" stop-color="#ff6000"/><stop offset="0.8500" stop-color="#ff2800"/><stop offset="0.8750" stop-color="#ff1000"/><stop offset="0.9375" stop-color="#e80000"/><stop offset="1.0000" stop-color="#f08080"/></linearGradient>
<rect x="690.4" y="708.8" width="155" height="10.6" fill="url(#cb589_452)"/>
<path d="M690.40 708.8v10.6M692.34 708.8v10.6M694.27 708.8v10.6M696.21 708.8v10.6M698.15 708.8v10.6M700.09 708.8v10.6M702.02 708.8v10.6M703.96 708.8v10.6M705.90 708.8v10.6M707.84 708.8v10.6M709.77 708.8v10.6M711.71 708.8v10.6M713.65 708.8v10.6M715.59 708.8v10.6M717.52 708.8v10.6M719.46 708.8v10.6M721.40 708.8v10.6M723.34 708.8v10.6M725.27 708.8v10.6M727.21 708.8v10.6M729.15 708.8v10.6M731.09 708.8v10.6M733.02 708.8v10.6M734.96 708.8v10.6M736.90 708.8v10.6M738.84 708.8v10.6M740.77 708.8v10.6M742.71 708.8v10.6M744.65 708.8v10.6M746.59 708.8v10.6M748.52 708.8v10.6M750.46 708.8v10.6M752.40 708.8v10.6M754.34 708.8v10.6M756.27 708.8v10.6M758.21 708.8v10.6M760.15 708.8v10.6M762.09 708.8v10.6M764.02 708.8v10.6M765.96 708.8v10.6M767.90 708.8v10.6M769.84 708.8v10.6M771.77 708.8v10.6M773.71 708.8v10.6M775.65 708.8v10.6M777.59 708.8v10.6M779.52 708.8v10.6M781.46 708.8v10.6M783.40 708.8v10.6M785.34 708.8v10.6M787.27 708.8v10.6M789.21 708.8v10.6M791.15 708.8v10.6M793.09 708.8v10.6M795.02 708.8v10.6M796.96 708.8v10.6M798.90 708.8v10.6M800.84 708.8v10.6M802.77 708.8v10.6M804.71 708.8v10.6M806.65 708.8v10.6M808.59 708.8v10.6M810.52 708.8v10.6M812.46 708.8v10.6M814.40 708.8v10.6M816.34 708.8v10.6M818.27 708.8v10.6M820.21 708.8v10.6M822.15 708.8v10.6M824.09 708.8v10.6M826.02 708.8v10.6M827.96 708.8v10.6M829.90 708.8v10.6M831.84 708.8v10.6M833.77 708.8v10.6M835.71 708.8v10.6M837.65 708.8v10.6M839.59 708.8v10.6M841.52 708.8v10.6M843.46 708.8v10.6M845.40 708.8v10.6" stroke="#000" stroke-width="0.85" fill="none"/>
<rect x="690.4" y="708.8" width="155" height="10.6" fill="none" stroke="#000" stroke-width="0.9"/>
<text x="706.7" y="730.9" font-size="10.8" text-anchor="middle" fill="#000" stroke="#000" stroke-width="0.22" textLength="17.6" lengthAdjust="spacingAndGlyphs">-32</text>
<text x="737.5" y="730.9" font-size="10.8" text-anchor="middle" fill="#000" stroke="#000" stroke-width="0.22" textLength="17.6" lengthAdjust="spacingAndGlyphs">-16</text>
<text x="768.2" y="730.9" font-size="10.8" text-anchor="middle" fill="#000" stroke="#000" stroke-width="0.22" textLength="5.8" lengthAdjust="spacingAndGlyphs">0</text>
<text x="798.9" y="730.9" font-size="10.8" text-anchor="middle" fill="#000" stroke="#000" stroke-width="0.22" textLength="11.6" lengthAdjust="spacingAndGlyphs">16</text>
<text x="829.7" y="730.9" font-size="10.8" text-anchor="middle" fill="#000" stroke="#000" stroke-width="0.22" textLength="11.6" lengthAdjust="spacingAndGlyphs">32</text>
<text x="684.7" y="700.3" font-size="11.5" text-anchor="start" fill="#000" stroke="#000" stroke-width="0.15" textLength="45.3" lengthAdjust="spacingAndGlyphs">CONTOUR</text>
<text x="735.3" y="700.3" font-size="11.5" text-anchor="start" fill="#000" stroke="#000" stroke-width="0.15" textLength="43.5" lengthAdjust="spacingAndGlyphs">INTERVAL</text>
<text x="784" y="700.3" font-size="11.5" text-anchor="start" fill="#000" stroke="#000" stroke-width="0.15" textLength="6.6" lengthAdjust="spacingAndGlyphs">=</text>
<text x="798" y="700.3" font-size="11.5" text-anchor="start" fill="#000" stroke="#000" stroke-width="0.15" textLength="53.8" lengthAdjust="spacingAndGlyphs">5.000E+00</text>
<text x="870.3" y="714.6" font-size="10.5" text-anchor="start" fill="#8c8c8c" textLength="55.3" lengthAdjust="spacingAndGlyphs">t=615000 s</text>
<text x="526" y="738.5" font-size="5.5" text-anchor="start" fill="#000" textLength="46" lengthAdjust="spacingAndGlyphs">/usr/bin/gpview</text>
<text x="577" y="738.5" font-size="5.5" text-anchor="start" fill="#000" textLength="35" lengthAdjust="spacingAndGlyphs">2008-12-21</text>
<text x="842.5" y="738.5" font-size="5.5" text-anchor="start" fill="#000" textLength="155.0" lengthAdjust="spacingAndGlyphs">MarsCond._VelZ.nc@VelZ,x=0:50000,z=0:20000,t=615000</text>
</g>
</svg>
</body></html>
